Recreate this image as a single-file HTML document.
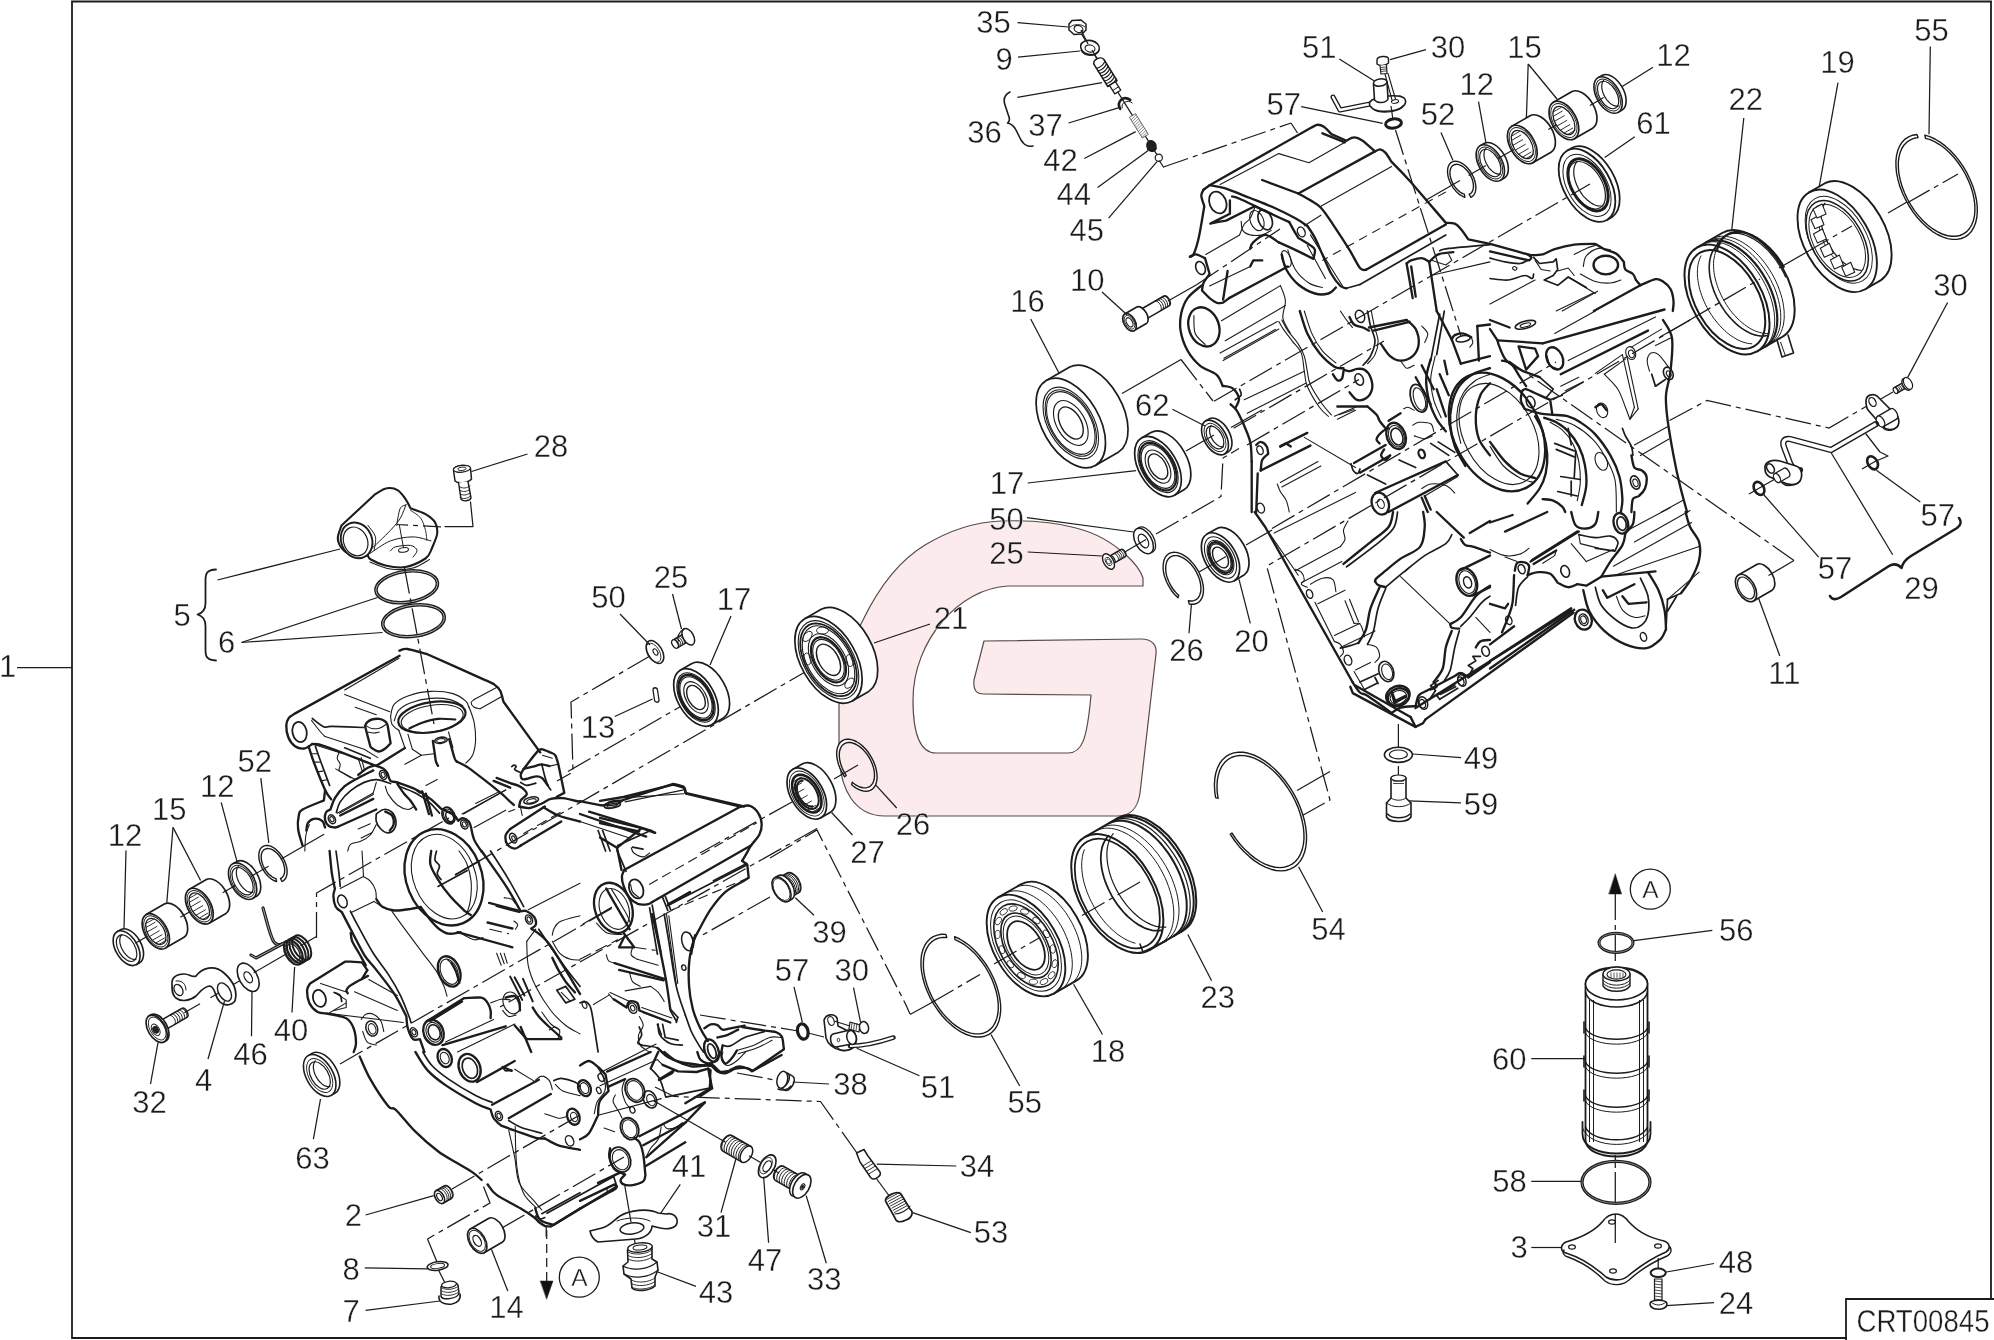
<!DOCTYPE html>
<html><head><meta charset="utf-8"><title>CRT00845</title><style>html,body{margin:0;padding:0;background:#fff}svg{display:block}.t{font-family:"Liberation Sans",sans-serif;fill:#1c1c1c;stroke:#fff;stroke-width:0.35px}</style></head><body>
<svg width="1994" height="1340" viewBox="0 0 1994 1340">
<defs><filter id="gs" x="0" y="0" width="100%" height="100%" color-interpolation-filters="sRGB"><feColorMatrix type="saturate" values="0"/></filter></defs>
<rect width="1994" height="1340" fill="#fff"/>
<path d="M1143 586 L1008 586 C960 588 913 640 913 700 C913 735 920 753 936 753 L1068 753 C1082 753 1087 740 1091 695 L984 694 C976 694 973 690 974 680 L984 641 L1141 639 C1152 639 1157 645 1156 654 L1140 793 C1138 808 1130 816 1118 816 L885 816 C855 816 839 790 839 750 L839 705 C839 670 850 645 863 620 C880 585 900 560 925 545 C950 530 975 522 1001 521 C1030 520 1055 522 1076 528 C1100 534 1115 545 1126 555 C1135 563 1141 572 1143 578 Z" fill="#fbebec" stroke="#5a4a4a" stroke-width="1.2" stroke-linejoin="round" stroke-linecap="round"/>
<path d="M72 1.5 L1991 1.5 L1991 1299 M1846 1338 L72 1338 L72 1.5" fill="none" stroke="#1c1c1c" stroke-width="1.8" stroke-linejoin="miter" stroke-linecap="square"/>
<path d="M1846 1341 L1846 1299 L1995 1299" fill="none" stroke="#1c1c1c" stroke-width="1.8" stroke-linejoin="miter" stroke-linecap="square"/>
<line x1="17" y1="667.5" x2="72" y2="667.5" stroke="#1c1c1c" stroke-width="1.25" stroke-linecap="butt"/>
<path d="M312.3 744 C311 744.8 307 748.2 304.1 748.5 C301.2 748.9 297.7 748.2 295 746.3 C292.4 744.4 289.7 740.8 288.3 737.3 C286.8 733.7 286.2 728.5 286.3 725.2 C286.4 722 287.7 719.6 289 717.7 C290.4 715.8 293.4 714.6 294.3 713.9 L294.3 713.9 L399.6 655.7 " fill="none" stroke="#1c1c1c" stroke-width="2.35" stroke-linejoin="round" stroke-linecap="round"/>
<path d="M399.4 650.7 C400.8 650.4 402.9 648.5 407.4 649 C412 649.6 423.5 653.2 426.8 654 L426.8 654 C436.2 658.2 472.2 674.3 483.5 679.4 C494.7 684.4 491.4 682.5 494.1 684.4 C496.9 686.3 498.6 687.8 500.2 690.7 C501.7 693.6 502.9 699.9 503.5 701.7 L503.5 701.7 L540.2 752.4 " fill="none" stroke="#1c1c1c" stroke-width="2.35" stroke-linejoin="round" stroke-linecap="round"/>
<ellipse cx="299.6" cy="732" rx="7.1" ry="10.2" fill="none" stroke="#1c1c1c" stroke-width="1.8" transform="rotate(-12 299.6 732)"/>
<path d="M312.3 744 C314.5 744.4 315.5 743 325.1 746.3 C334.8 749.5 361.7 760.3 370.3 763.6 C378.8 766.8 375.3 765.5 376.3 765.8" fill="none" stroke="#1c1c1c" stroke-width="2.35" stroke-linejoin="round" stroke-linecap="round"/>
<path d="M376.3 765.8 L404.9 748.1" fill="none" stroke="#1c1c1c" stroke-width="2.35" stroke-linejoin="round" stroke-linecap="round"/>
<path d="M312.3 718.5 C314.2 719.8 320.4 725.4 323.6 726.7 C326.9 728.1 325.3 726.3 331.9 726.4 C338.5 726.6 358.2 727.3 363.5 727.5" fill="none" stroke="#1c1c1c" stroke-width="1.7" stroke-linejoin="round" stroke-linecap="round"/>
<path d="M311.6 720.7 C313.1 722.6 318.4 729.4 320.6 732 C322.9 734.6 324.4 735.8 325.1 736.5" fill="none" stroke="#1c1c1c" stroke-width="1.1" stroke-linejoin="round" stroke-linecap="round"/>
<path d="M325.1 736.5 L364.2 749.3 L377.8 757.6" fill="none" stroke="#1c1c1c" stroke-width="1.1" stroke-linejoin="round" stroke-linecap="round"/>
<path d="M314.6 744.8 L343.2 753.8" fill="none" stroke="#1c1c1c" stroke-width="1.1" stroke-linejoin="round" stroke-linecap="round"/>
<path d="M344.7 689.9 L398.9 658.3" fill="none" stroke="#1c1c1c" stroke-width="1.1" stroke-linejoin="round" stroke-linecap="round"/>
<path d="M344.7 694.4 L389.8 711.7" fill="none" stroke="#1c1c1c" stroke-width="1.1" stroke-linejoin="round" stroke-linecap="round"/>
<path d="M355.2 707.2 L376.3 714.7" fill="none" stroke="#1c1c1c" stroke-width="1.1" stroke-linejoin="round" stroke-linecap="round"/>
<path d="M474.1 699.6 L496.6 687.6" fill="none" stroke="#1c1c1c" stroke-width="1.1" stroke-linejoin="round" stroke-linecap="round"/>
<path d="M480.1 708.7 L502.7 695.9" fill="none" stroke="#1c1c1c" stroke-width="1.1" stroke-linejoin="round" stroke-linecap="round"/>
<path d="M474.1 699.6 C473.6 700.1 471.1 701.4 471.1 702.7 C471.1 703.9 472.6 706.2 474.1 707.2 C475.6 708.2 479.1 708.4 480.1 708.7" fill="none" stroke="#1c1c1c" stroke-width="1.1" stroke-linejoin="round" stroke-linecap="round"/>
<path d="M365 726 C365.4 725.3 366.1 723.3 367.3 722.2 C368.4 721.1 369.8 720.1 371.8 719.5 C373.8 719 377 718.6 379.3 718.9 C381.5 719.2 383.9 720.4 385.3 721.5 C386.7 722.5 387.2 724.6 387.6 725.2 L387.6 725.2 L390.6 743.3 L390.6 743.3 C389.7 744.2 387.3 747.2 385.3 748.5 C383.3 749.9 380.7 751.5 378.5 751.5 C376.4 751.5 373.9 749.4 372.5 748.5 C371.1 747.7 370.6 746.7 370.3 746.3 L370.3 746.3 L365 726 " fill="none" stroke="#1c1c1c" stroke-width="2.35" stroke-linejoin="round" stroke-linecap="round"/>
<path d="M366.5 726 C367.4 726.4 369.6 728.2 371.8 728.5 C373.9 728.9 376.9 728.9 379.3 728.2 C381.7 727.6 384.9 725.1 386.1 724.5" fill="none" stroke="#1c1c1c" stroke-width="1.1" stroke-linejoin="round" stroke-linecap="round"/>
<path d="M368 732 C368.9 732.2 371.4 733 373.3 733 C375.2 733 378.3 732.2 379.3 732" fill="none" stroke="#1c1c1c" stroke-width="1.1" stroke-linejoin="round" stroke-linecap="round"/>
<path d="M390.6 716.2 C391.2 714.2 391.5 707.5 394.3 704.2 C397.2 700.8 401.9 698 407.9 695.9 C413.9 693.8 422.9 691.7 430.4 691.4 C438 691 447.1 692 453 693.6 C458.9 695.3 463.2 698.9 465.8 701.2 C468.4 703.4 468.3 706.2 468.8 707.2" fill="none" stroke="#1c1c1c" stroke-width="1.1" stroke-linejoin="round" stroke-linecap="round"/>
<path d="M394.3 720.7 C395.1 719 396.1 713.2 398.9 710.2 C401.6 707.2 405.6 704.6 410.9 702.7 C416.2 700.7 423.9 698.9 430.4 698.4 C437 697.9 444.6 698.4 450 699.6 C455.4 700.9 460.7 704.7 462.8 705.7" fill="none" stroke="#1c1c1c" stroke-width="1.1" stroke-linejoin="round" stroke-linecap="round"/>
<ellipse cx="431.9" cy="717.2" rx="34" ry="15" fill="none" stroke="#1c1c1c" stroke-width="2.2" transform="rotate(-9 431.9 717.2)"/>
<ellipse cx="432.2" cy="718.5" rx="31.3" ry="13.2" fill="none" stroke="#1c1c1c" stroke-width="1.1" transform="rotate(-9 432.2 718.5)"/>
<path d="M409.4 728.5 C411.4 727.6 416.7 724.6 421.4 723 C426.2 721.4 432.3 719.5 438 718.9 C443.6 718.3 452.4 719.4 455.3 719.5" fill="none" stroke="#1c1c1c" stroke-width="2.2" stroke-linejoin="round" stroke-linecap="round"/>
<path d="M390.6 716.2 C390.8 717.6 390.7 722.1 392.1 724.5 C393.5 726.9 397.7 729.5 398.9 730.5" fill="none" stroke="#1c1c1c" stroke-width="1.1" stroke-linejoin="round" stroke-linecap="round"/>
<path d="M398.9 730.5 L404.9 747.8" fill="none" stroke="#1c1c1c" stroke-width="1.1" stroke-linejoin="round" stroke-linecap="round"/>
<path d="M407.9 734.2 L412.4 749.3" fill="none" stroke="#1c1c1c" stroke-width="1.1" stroke-linejoin="round" stroke-linecap="round"/>
<path d="M448.5 732 L453 747.8" fill="none" stroke="#1c1c1c" stroke-width="1.1" stroke-linejoin="round" stroke-linecap="round"/>
<path d="M468.8 706.4 C469.7 709 472.9 716.6 474.1 722.2 C475.2 727.9 475.8 734.8 475.6 740.3 C475.3 745.8 474.2 751.5 472.6 755.3 C470.9 759.1 466.9 761.8 465.8 763.1" fill="none" stroke="#1c1c1c" stroke-width="1.1" stroke-linejoin="round" stroke-linecap="round"/>
<path d="M412.4 749.3 L421.4 755.3 L434.2 753.8" fill="none" stroke="#1c1c1c" stroke-width="1.1" stroke-linejoin="round" stroke-linecap="round"/>
<path d="M404.9 764.3 L421.4 755.3" fill="none" stroke="#1c1c1c" stroke-width="1.1" stroke-linejoin="round" stroke-linecap="round"/>
<ellipse cx="441" cy="740.3" rx="6.3" ry="3" fill="none" stroke="#1c1c1c" stroke-width="1.6" transform="rotate(-9 441 740.3)"/>
<ellipse cx="441" cy="740.6" rx="4.4" ry="1.8" fill="none" stroke="#1c1c1c" stroke-width="1.1" transform="rotate(-9 441 740.6)"/>
<path d="M432.9 741 C433.2 743.4 434.5 751.9 435 755.3 C435.5 758.7 435.4 759.6 435.9 761.3 C436.4 763.1 437.6 765.1 438 765.8" fill="none" stroke="#1c1c1c" stroke-width="2.35" stroke-linejoin="round" stroke-linecap="round"/>
<path d="M449.2 739.1 C450.1 742.2 453.3 754.3 454.5 758 C455.8 761.8 456.4 761 456.8 761.6" fill="none" stroke="#1c1c1c" stroke-width="2.35" stroke-linejoin="round" stroke-linecap="round"/>
<path d="M456.8 761.6 C458.7 762.6 462.9 764.2 468.1 767.6 C473.2 771.1 481.8 777.9 487.6 782.4 C493.4 786.9 499.1 791.7 502.7 794.7 C506.2 797.7 506.8 798.7 508.7 800.4 C510.6 802.1 513.1 804.2 513.9 805" fill="none" stroke="#1c1c1c" stroke-width="2.35" stroke-linejoin="round" stroke-linecap="round"/>
<path d="M475.6 803.5 L498.1 792.2" fill="none" stroke="#1c1c1c" stroke-width="1.1" stroke-linejoin="round" stroke-linecap="round"/>
<path d="M463.5 814 L505.7 789.9" fill="none" stroke="#1c1c1c" stroke-width="1.1" stroke-linejoin="round" stroke-linecap="round"/>
<path d="M474.1 827.5 L505.7 810.2" fill="none" stroke="#1c1c1c" stroke-width="1.1" stroke-linejoin="round" stroke-linecap="round"/>
<path d="M425.9 785.4 L437.2 779.4" fill="none" stroke="#1c1c1c" stroke-width="1.1" stroke-linejoin="round" stroke-linecap="round"/>
<path d="M376.3 765.8 C377.5 766.3 381.9 767.6 383.8 768.9 C385.7 770.1 386.9 772.6 387.6 773.4 L387.6 773.4 C388.1 774.6 389.1 779.4 390.6 780.9 C392.1 782.3 395.6 781.9 396.6 782.1 L396.6 782.1 C399.7 783.3 409.8 786.4 415.4 789.2 C421 792 426.2 795.7 430.4 798.9 C434.7 802.2 439.2 807.1 441 808.7 L441 808.7 C442 809.1 444.7 810.1 447 811.3 C449.2 812.4 452.6 813.9 454.5 815.5 C456.4 817.1 457.6 819.9 458.3 820.8 L458.3 820.8 C459 820.3 461 818.1 462.8 818.2 C464.5 818.3 467.4 820 468.8 821.5 C470.2 823.1 470.7 826.5 471.1 827.5 L471.1 827.5 C471.6 829.5 472.3 835.5 474.1 839.6 C475.8 843.6 480.3 849.6 481.6 851.6 " fill="none" stroke="#1c1c1c" stroke-width="2.35" stroke-linejoin="round" stroke-linecap="round"/>
<path d="M373.3 770.4 C370.8 771.6 363 775.2 358.2 777.9 C353.5 780.5 348.6 782.8 344.7 786.2 C340.8 789.5 337.3 794.3 334.9 798.2 C332.5 802.1 331.2 807.6 330.4 809.5 L330.4 809.5 C329.6 810 326.8 810.7 325.9 812.5 C325 814.2 324.6 817.7 325.1 820 C325.6 822.3 327.3 824.8 328.9 826 C330.5 827.3 333.9 827.3 334.9 827.5 L334.9 827.5 L337.9 826.8 " fill="none" stroke="#1c1c1c" stroke-width="2.35" stroke-linejoin="round" stroke-linecap="round"/>
<path d="M390.6 783.6 C388.2 782.9 380.7 779.9 376.3 779.7 C371.9 779.5 368.5 780.6 364.2 782.4 C360 784.2 354.7 787.4 350.7 790.7 C346.7 793.9 342.6 798.3 340.2 801.9 C337.8 805.6 337 810.7 336.4 812.5" fill="none" stroke="#1c1c1c" stroke-width="1.7" stroke-linejoin="round" stroke-linecap="round"/>
<path d="M398.9 786.2 C401.6 787.3 410.4 790.3 415.4 792.9 C420.4 795.6 424.9 798.6 428.9 801.9 C433 805.3 437.7 811.4 439.5 813.2" fill="none" stroke="#1c1c1c" stroke-width="1.7" stroke-linejoin="round" stroke-linecap="round"/>
<path d="M337.9 826.8 L376.3 809.5" fill="none" stroke="#1c1c1c" stroke-width="2.35" stroke-linejoin="round" stroke-linecap="round"/>
<path d="M340.2 815.5 L373.3 798.9" fill="none" stroke="#1c1c1c" stroke-width="2.35" stroke-linejoin="round" stroke-linecap="round"/>
<path d="M339.4 813.2 L373.3 794.4" fill="none" stroke="#1c1c1c" stroke-width="1.1" stroke-linejoin="round" stroke-linecap="round"/>
<ellipse cx="383.1" cy="774.9" rx="3.3" ry="4.7" fill="none" stroke="#1c1c1c" stroke-width="1.5" transform="rotate(-28 383.1 774.9)"/>
<ellipse cx="383.1" cy="774.9" rx="1.8" ry="2.7" fill="none" stroke="#1c1c1c" stroke-width="1.1" transform="rotate(-28 383.1 774.9)"/>
<ellipse cx="331.9" cy="819.2" rx="3.3" ry="4.7" fill="none" stroke="#1c1c1c" stroke-width="1.5" transform="rotate(-28 331.9 819.2)"/>
<ellipse cx="331.9" cy="819.2" rx="1.8" ry="2.7" fill="none" stroke="#1c1c1c" stroke-width="1.1" transform="rotate(-28 331.9 819.2)"/>
<ellipse cx="464.3" cy="824.5" rx="3.3" ry="4.7" fill="none" stroke="#1c1c1c" stroke-width="1.5" transform="rotate(-28 464.3 824.5)"/>
<ellipse cx="464.3" cy="824.5" rx="1.8" ry="2.7" fill="none" stroke="#1c1c1c" stroke-width="1.1" transform="rotate(-28 464.3 824.5)"/>
<path d="M308.6 746.3 C309.6 749.3 311.8 757.1 314.6 764.3 C317.4 771.6 322.4 784.1 325.1 789.9 C327.9 795.7 330.1 797.7 331.2 799.2" fill="none" stroke="#1c1c1c" stroke-width="2.35" stroke-linejoin="round" stroke-linecap="round"/>
<path d="M315.4 746.3 C316.2 748.8 318.2 754.8 320.6 761.3 C323 767.8 328.1 781.4 329.6 785.4" fill="none" stroke="#1c1c1c" stroke-width="1.7" stroke-linejoin="round" stroke-linecap="round"/>
<path d="M310.8 753.8 L316.9 753.8" fill="none" stroke="#1c1c1c" stroke-width="1.1" stroke-linejoin="round" stroke-linecap="round"/>
<path d="M313.8 762.1 L319.4 762.1" fill="none" stroke="#1c1c1c" stroke-width="1.1" stroke-linejoin="round" stroke-linecap="round"/>
<path d="M317.6 771.9 L322.9 771.1" fill="none" stroke="#1c1c1c" stroke-width="1.1" stroke-linejoin="round" stroke-linecap="round"/>
<path d="M321.4 780.9 L326.9 779.7" fill="none" stroke="#1c1c1c" stroke-width="1.1" stroke-linejoin="round" stroke-linecap="round"/>
<path d="M339.4 752.3 C339 753.3 337 756.3 337.2 758.3 C337.3 760.3 339.9 762.3 340.2 764.3 C340.4 766.3 338.9 769.4 338.7 770.4" fill="none" stroke="#1c1c1c" stroke-width="1.1" stroke-linejoin="round" stroke-linecap="round"/>
<path d="M338.7 770.4 L355.2 779.4" fill="none" stroke="#1c1c1c" stroke-width="1.1" stroke-linejoin="round" stroke-linecap="round"/>
<path d="M335.7 768.9 L350.7 777.9" fill="none" stroke="#1c1c1c" stroke-width="1.1" stroke-linejoin="round" stroke-linecap="round"/>
<path d="M358.2 758.3 L362 770.4" fill="none" stroke="#1c1c1c" stroke-width="1.1" stroke-linejoin="round" stroke-linecap="round"/>
<path d="M361.2 757.6 L364.2 768.9" fill="none" stroke="#1c1c1c" stroke-width="1.1" stroke-linejoin="round" stroke-linecap="round"/>
<path d="M344.7 747.8 L370.3 758.3" fill="none" stroke="#1c1c1c" stroke-width="1.7" stroke-linejoin="round" stroke-linecap="round"/>
<path d="M358.2 774.9 C359.5 773.9 363.2 770.4 365.8 768.9 C368.3 767.3 372 766.3 373.3 765.8" fill="none" stroke="#1c1c1c" stroke-width="2.35" stroke-linejoin="round" stroke-linecap="round"/>
<path d="M325.1 789.9 L323.9 800.4 L323.9 800.4 C320.4 801.9 306.8 807 302.6 809.5 C298.4 812 299.6 812.2 298.8 815.5 C298.1 818.7 297.4 824 298.1 829 C298.7 834 301.8 842.8 302.6 845.6 " fill="none" stroke="#1c1c1c" stroke-width="2.35" stroke-linejoin="round" stroke-linecap="round"/>
<path d="M306.3 830.5 C306.6 829.3 306.6 825 307.8 823 C309.1 821.1 311.5 819.2 313.8 818.8 C316.2 818.4 320.2 819.3 322.1 820.8 C324 822.2 324.6 826.4 325.1 827.5" fill="none" stroke="#1c1c1c" stroke-width="2.35" stroke-linejoin="round" stroke-linecap="round"/>
<path d="M304.8 851 C305 848.3 305.1 839.5 305.9 835 C306.6 830.6 308.8 826.3 309.3 824.5" fill="none" stroke="#1c1c1c" stroke-width="1.1" stroke-linejoin="round" stroke-linecap="round"/>
<path d="M376.3 814 C377.5 813.2 381.3 809.8 383.8 809.5 C386.3 809.1 389.3 810 391.3 811.7 C393.3 813.5 395.3 817.1 395.8 820 C396.3 822.9 395.7 826.9 394.3 829 C393 831.2 389.8 832.8 387.6 832.8 C385.3 832.8 382.7 830.9 380.8 829 C378.9 827.1 377 824 376.3 821.5 C375.5 819 376.3 815.2 376.3 814" fill="none" stroke="#1c1c1c" stroke-width="1.7" stroke-linejoin="round" stroke-linecap="round"/>
<path d="M385.3 811.7 C386.4 812.4 390.7 813.4 392.1 815.5 C393.5 817.6 394 822 393.6 824.5 C393.2 827 390.5 829.5 389.8 830.5" fill="none" stroke="#1c1c1c" stroke-width="2.35" stroke-linejoin="round" stroke-linecap="round"/>
<path d="M397.3 783.9 C398.5 785.5 401.9 790.8 404.1 793.7 C406.4 796.6 408.9 798.6 410.9 801.2 C412.9 803.8 415.3 808.1 416.2 809.5" fill="none" stroke="#1c1c1c" stroke-width="2.35" stroke-linejoin="round" stroke-linecap="round"/>
<path d="M385.3 786.2 C385.8 787.5 386.3 791.3 388.3 794.4 C390.3 797.6 394.1 802.4 397.3 805 C400.6 807.5 405.1 809.2 407.9 809.5 C410.6 809.7 412.9 807 413.9 806.5" fill="none" stroke="#1c1c1c" stroke-width="1.1" stroke-linejoin="round" stroke-linecap="round"/>
<path d="M425.9 793.7 L431.9 815.5" fill="none" stroke="#1c1c1c" stroke-width="2.35" stroke-linejoin="round" stroke-linecap="round"/>
<path d="M422.2 791.4 L428.9 814" fill="none" stroke="#1c1c1c" stroke-width="2.35" stroke-linejoin="round" stroke-linecap="round"/>
<path d="M416.2 789.9 C416.8 790.4 419 792.7 419.9 792.9 C420.8 793.2 421.2 791.7 421.4 791.4" fill="none" stroke="#1c1c1c" stroke-width="1.7" stroke-linejoin="round" stroke-linecap="round"/>
<path d="M337.2 813.2 L373.3 792.9" fill="none" stroke="#1c1c1c" stroke-width="1.1" stroke-linejoin="round" stroke-linecap="round"/>
<path d="M373.3 792.9 L376.3 782.4" fill="none" stroke="#1c1c1c" stroke-width="1.1" stroke-linejoin="round" stroke-linecap="round"/>
<path d="M347.7 851 C348.2 849.8 348.5 845.7 350.7 844.1 C353 842.4 358 842.6 361.2 841.1 C364.5 839.6 367.8 837.8 370.3 835 C372.8 832.3 375.3 826.3 376.3 824.5" fill="none" stroke="#1c1c1c" stroke-width="1.1" stroke-linejoin="round" stroke-linecap="round"/>
<path d="M358.2 829 L370.3 823.8" fill="none" stroke="#1c1c1c" stroke-width="1.1" stroke-linejoin="round" stroke-linecap="round"/>
<path d="M361.2 838.1 L371.8 832.8" fill="none" stroke="#1c1c1c" stroke-width="1.1" stroke-linejoin="round" stroke-linecap="round"/>
<ellipse cx="448.5" cy="815.5" rx="6" ry="8.7" fill="none" stroke="#1c1c1c" stroke-width="1.8" transform="rotate(-25 448.5 815.5)"/>
<ellipse cx="449.7" cy="816.7" rx="3.6" ry="5.4" fill="none" stroke="#1c1c1c" stroke-width="1.7" transform="rotate(-25 449.7 816.7)"/>
<ellipse cx="448.8" cy="815.8" rx="4.8" ry="7.2" fill="none" stroke="#1c1c1c" stroke-width="1.1" transform="rotate(-25 448.8 815.8)"/>
<path d="M462 814 L505.7 789.9" fill="none" stroke="#1c1c1c" stroke-width="1.1" stroke-linejoin="round" stroke-linecap="round"/>
<path d="M538.8 750 C539.4 749.9 540.5 748.9 542.5 749.3 C544.5 749.7 549.4 752.1 550.8 752.6 L550.8 752.6 C551.6 753.1 554.1 753.4 555.3 755.3 C556.6 757.3 557.8 762.8 558.3 764.3 L558.3 764.3 L564.3 792.9 L564.3 792.9 L556.8 796.7 " fill="none" stroke="#1c1c1c" stroke-width="2.35" stroke-linejoin="round" stroke-linecap="round"/>
<path d="M538.8 750 C538 750.9 536.8 752.2 534.3 755.3 C531.7 758.4 525.5 766.6 523.7 768.9 L523.7 768.9 C525.7 768.3 532.7 766.6 535.8 765.8 C538.8 765.1 539.5 764.3 541.8 764.3 C544 764.4 548 765.8 549.3 766.1 " fill="none" stroke="#1c1c1c" stroke-width="2.35" stroke-linejoin="round" stroke-linecap="round"/>
<path d="M541.8 764.3 C542.3 766.3 543.8 772.9 544.8 776.4 C545.8 779.9 546.8 783.1 547.8 785.4 C548.8 787.7 550.3 789.2 550.8 789.9" fill="none" stroke="#1c1c1c" stroke-width="1.7" stroke-linejoin="round" stroke-linecap="round"/>
<path d="M542.5 755.3 L552.3 758.3" fill="none" stroke="#1c1c1c" stroke-width="1.1" stroke-linejoin="round" stroke-linecap="round"/>
<path d="M549.3 766.1 L558.3 764.3" fill="none" stroke="#1c1c1c" stroke-width="1.1" stroke-linejoin="round" stroke-linecap="round"/>
<path d="M523.7 768.9 C523.2 769.9 520.7 773.1 520.7 774.9 C520.7 776.6 521.2 779.1 523.7 779.4 C526.2 779.6 532.7 776.6 535.8 776.4 C538.8 776.1 539.8 776.4 541.8 777.9 C543.8 779.4 546.8 784.1 547.8 785.4" fill="none" stroke="#1c1c1c" stroke-width="2.35" stroke-linejoin="round" stroke-linecap="round"/>
<path d="M520.7 782.4 C521.7 782.9 524.2 785.3 526.7 785.4 C529.2 785.5 534.3 783.5 535.8 783.1" fill="none" stroke="#1c1c1c" stroke-width="1.7" stroke-linejoin="round" stroke-linecap="round"/>
<path d="M511.7 766.6 C512.1 766.3 513.2 765.1 513.9 765.1 C514.7 765.1 516.1 765.8 516.2 766.6 C516.3 767.3 513.9 768.6 514.7 769.6 C515.4 770.6 519.7 772.1 520.7 772.6" fill="none" stroke="#1c1c1c" stroke-width="1.7" stroke-linejoin="round" stroke-linecap="round"/>
<path d="M512.4 783.9 C513.3 784.1 515.8 784.5 517.7 785.4 C519.6 786.3 522.2 787.7 523.7 789.2 C525.2 790.7 527.2 792.5 526.7 794.4 C526.2 796.3 522 798.4 520.7 800.4 C519.5 802.4 519.5 805.5 519.2 806.5" fill="none" stroke="#1c1c1c" stroke-width="2.35" stroke-linejoin="round" stroke-linecap="round"/>
<path d="M496.6 777.9 L512.4 783.9" fill="none" stroke="#1c1c1c" stroke-width="2.35" stroke-linejoin="round" stroke-linecap="round"/>
<path d="M493.6 780.9 L510.2 787.7" fill="none" stroke="#1c1c1c" stroke-width="2.35" stroke-linejoin="round" stroke-linecap="round"/>
<ellipse cx="531.2" cy="800.4" rx="7.5" ry="3.3" fill="none" stroke="#1c1c1c" stroke-width="1.6" transform="rotate(-12 531.2 800.4)"/>
<ellipse cx="531.5" cy="800.9" rx="4.8" ry="2" fill="none" stroke="#1c1c1c" stroke-width="1.1" transform="rotate(-12 531.5 800.9)"/>
<path d="M519.2 806.5 C521 806.7 526 808.5 529.7 808 C533.5 807.5 538.3 805 541.8 803.5 C545.3 801.9 547.3 799.8 550.8 798.9 C554.3 798.1 558 797.7 562.8 798.2 C567.7 798.7 577.1 801.3 580 801.9" fill="none" stroke="#1c1c1c" stroke-width="2.35" stroke-linejoin="round" stroke-linecap="round"/>
<path d="M543.3 807.2 C545.8 808.6 552.2 813.1 558.3 815.5 C564.4 817.9 576.4 820.5 580 821.5" fill="none" stroke="#1c1c1c" stroke-width="2.35" stroke-linejoin="round" stroke-linecap="round"/>
<path d="M520.7 808 L522.2 815.5" fill="none" stroke="#1c1c1c" stroke-width="1.1" stroke-linejoin="round" stroke-linecap="round"/>
<path d="M508.7 811.7 L514.7 809.5" fill="none" stroke="#1c1c1c" stroke-width="1.1" stroke-linejoin="round" stroke-linecap="round"/>
<path d="M510.2 829 L544.8 806.5" fill="none" stroke="#1c1c1c" stroke-width="2.35" stroke-linejoin="round" stroke-linecap="round"/>
<path d="M520.7 845.6 L561.3 821.5" fill="none" stroke="#1c1c1c" stroke-width="2.35" stroke-linejoin="round" stroke-linecap="round"/>
<path d="M510.2 829 C509.4 830 506.2 832.5 505.7 835 C505.2 837.6 505.7 841.8 507.2 844.1 C508.7 846.3 512.4 848.3 514.7 848.6 C516.9 848.8 519.7 846.1 520.7 845.6" fill="none" stroke="#1c1c1c" stroke-width="2.35" stroke-linejoin="round" stroke-linecap="round"/>
<ellipse cx="513.2" cy="838.1" rx="3.3" ry="5.1" fill="none" stroke="#1c1c1c" stroke-width="1.5" transform="rotate(-25 513.2 838.1)"/>
<ellipse cx="513.5" cy="838.4" rx="1.5" ry="2.6" fill="none" stroke="#1c1c1c" stroke-width="1.1" transform="rotate(-25 513.5 838.4)"/>
<path d="M523.7 833.5 L562.8 811" fill="none" stroke="#1c1c1c" stroke-width="1.1" stroke-linejoin="round" stroke-linecap="round" stroke-dasharray="10 6"/>
<path d="M329.6 851 C330 854.8 331 867.3 331.9 873.6 C332.8 879.8 334.4 886.1 334.9 888.6 L334.9 888.6 C334.7 889.9 333.3 893.1 333.4 896.1 C333.5 899.1 334.3 904 335.7 906.7 C337 909.3 340.7 911.1 341.7 911.9 L341.7 911.9 C343.2 914.8 346.9 922.1 350.7 929.2 C354.5 936.4 360 948 364.2 954.8 C368.5 961.6 371.3 963.3 376.3 969.9 C381.3 976.4 389.3 986.1 394.3 993.9 C399.4 1001.7 404.4 1012.7 406.4 1016.5 L406.4 1016.5 C406.6 1018.5 406.7 1024.8 407.9 1028.5 C409 1032.3 411.1 1037.3 413.1 1039.1 C415.1 1040.8 418.8 1039.1 419.9 1039.1 L419.9 1039.1 L424.4 1052 " fill="none" stroke="#1c1c1c" stroke-width="2.35" stroke-linejoin="round" stroke-linecap="round"/>
<path d="M336 851 C336.5 854.8 338.3 867.7 339 873.6 C339.7 879.5 340 884.2 340.2 886.4" fill="none" stroke="#1c1c1c" stroke-width="1.7" stroke-linejoin="round" stroke-linecap="round"/>
<path d="M350.4 911.2 C351.7 913.7 354.4 919.2 358.2 926.2 C362 933.2 368.3 945.3 373.3 953.3 C378.3 961.3 383.8 967.3 388.3 974.4 C392.8 981.4 396.9 988.4 400.4 995.4 C403.8 1002.4 407.3 1012 409.1 1016.5 C410.8 1021 410.6 1021.5 410.9 1022.5" fill="none" stroke="#1c1c1c" stroke-width="1.7" stroke-linejoin="round" stroke-linecap="round"/>
<ellipse cx="342.4" cy="901.4" rx="4.5" ry="6.6" fill="none" stroke="#1c1c1c" stroke-width="1.5" transform="rotate(-22 342.4 901.4)"/>
<ellipse cx="413.9" cy="1032.3" rx="3.3" ry="4.8" fill="none" stroke="#1c1c1c" stroke-width="1.4" transform="rotate(-25 413.9 1032.3)"/>
<ellipse cx="413.9" cy="1032.3" rx="1.8" ry="2.7" fill="none" stroke="#1c1c1c" stroke-width="1.1" transform="rotate(-25 413.9 1032.3)"/>
<path d="M340.2 888.6 L363.5 876.6" fill="none" stroke="#1c1c1c" stroke-width="1.1" stroke-linejoin="round" stroke-linecap="round"/>
<path d="M350.7 912.7 L374 901.4" fill="none" stroke="#1c1c1c" stroke-width="1.1" stroke-linejoin="round" stroke-linecap="round"/>
<path d="M363.5 876.6 L362 851" fill="none" stroke="#1c1c1c" stroke-width="1.1" stroke-linejoin="round" stroke-linecap="round"/>
<path d="M363.5 876.6 C364.6 877.3 368.3 878.8 370.3 881.1 C372.3 883.3 374.5 887.1 375.5 890.1 C376.5 893.1 376.2 897.6 376.3 899.1" fill="none" stroke="#1c1c1c" stroke-width="1.1" stroke-linejoin="round" stroke-linecap="round"/>
<path d="M376.3 899.1 C377.3 900.4 379.3 904.8 382.3 906.7 C385.3 908.5 389.6 910 394.3 910.4 C399.1 910.8 406.5 909.5 410.9 908.9 C415.3 908.3 419 907.3 420.7 907" fill="none" stroke="#1c1c1c" stroke-width="2.35" stroke-linejoin="round" stroke-linecap="round"/>
<path d="M374 901.4 C375.9 902.5 381.9 906.5 385.3 908.2 C388.7 909.8 392.8 910.7 394.3 911.2" fill="none" stroke="#1c1c1c" stroke-width="1.1" stroke-linejoin="round" stroke-linecap="round"/>
<path d="M391.3 910.4 C393.6 913.6 399.6 922.1 404.9 929.2 C410.1 936.4 417.7 946.3 422.9 953.3 C428.2 960.3 433 965.8 436.5 971.4 C440 976.9 442.2 982.3 444 986.4 C445.7 990.5 446.5 994.5 447 996.2" fill="none" stroke="#1c1c1c" stroke-width="1.1" stroke-linejoin="round" stroke-linecap="round"/>
<ellipse cx="444" cy="877.3" rx="37.6" ry="49.6" fill="none" stroke="#1c1c1c" stroke-width="2.35" transform="rotate(-22 444 877.3)"/>
<ellipse cx="444.3" cy="876.6" rx="30.8" ry="43.9" fill="none" stroke="#1c1c1c" stroke-width="1.1" transform="rotate(-22 444.3 876.6)"/>
<path d="M431.2 851 C431.1 853.3 429.3 859.8 430.4 864.5 C431.6 869.3 434.7 874.3 438 879.6 C441.2 884.8 445.5 890.9 450 896.1 C454.5 901.4 461.6 908 465 911.2 C468.5 914.3 469.8 914.3 470.8 914.9" fill="none" stroke="#1c1c1c" stroke-width="2.35" stroke-linejoin="round" stroke-linecap="round"/>
<path d="M436.5 851 C436.2 852.5 434.5 857.5 435 860 C435.5 862.5 439.1 863.8 439.5 866 C439.8 868.3 437 871.3 437.2 873.6 C437.5 875.8 440.3 878.6 441 879.6" fill="none" stroke="#1c1c1c" stroke-width="1.7" stroke-linejoin="round" stroke-linecap="round"/>
<path d="M459 851 C460.3 853 464.5 858 466.6 863 C468.6 868.1 470.4 874.8 471.1 881.1 C471.7 887.4 471.1 895.1 470.3 900.6 C469.6 906.2 467.2 911.9 466.6 914.2" fill="none" stroke="#1c1c1c" stroke-width="1.1" stroke-linejoin="round" stroke-linecap="round"/>
<path d="M438 886.4 L467.3 870.6" fill="none" stroke="#1c1c1c" stroke-width="1.7" stroke-linejoin="round" stroke-linecap="round"/>
<path d="M420.7 907 C422.5 909.4 428.8 918 431.9 921.7 C435.1 925.4 436.7 927.2 439.5 929.2 C442.2 931.2 445 933.2 448.5 933.7 C452 934.2 458.5 932.5 460.5 932.2" fill="none" stroke="#1c1c1c" stroke-width="2.35" stroke-linejoin="round" stroke-linecap="round"/>
<path d="M457.5 932.2 L512.4 947.3" fill="none" stroke="#1c1c1c" stroke-width="2.35" stroke-linejoin="round" stroke-linecap="round"/>
<path d="M460.5 933 C462.8 934.1 470.3 939 474.1 939.8 C477.8 940.5 481.6 937.9 483.1 937.5" fill="none" stroke="#1c1c1c" stroke-width="1.1" stroke-linejoin="round" stroke-linecap="round"/>
<path d="M489.1 902.9 L517.7 910.4" fill="none" stroke="#1c1c1c" stroke-width="2.35" stroke-linejoin="round" stroke-linecap="round"/>
<path d="M496.6 905.9 L519.2 911.9" fill="none" stroke="#1c1c1c" stroke-width="2.35" stroke-linejoin="round" stroke-linecap="round"/>
<path d="M487.6 922.5 L512.4 928.5" fill="none" stroke="#1c1c1c" stroke-width="2.35" stroke-linejoin="round" stroke-linecap="round"/>
<path d="M489.9 929.2 L508.7 933.7" fill="none" stroke="#1c1c1c" stroke-width="1.1" stroke-linejoin="round" stroke-linecap="round" stroke-dasharray="12 6"/>
<path d="M504.2 897.6 C505.4 897.9 509.9 898.3 511.7 899.1 C513.4 900 514.2 902.3 514.7 902.9" fill="none" stroke="#1c1c1c" stroke-width="1.1" stroke-linejoin="round" stroke-linecap="round"/>
<path d="M513.9 921 C514.6 921.6 517.5 923.3 517.7 924.7 C518 926.1 515.8 928.5 515.4 929.2" fill="none" stroke="#1c1c1c" stroke-width="1.1" stroke-linejoin="round" stroke-linecap="round"/>
<path d="M496.6 953.3 L501.2 965.3" fill="none" stroke="#1c1c1c" stroke-width="1.1" stroke-linejoin="round" stroke-linecap="round"/>
<path d="M500.4 953.3 L504.2 963.8" fill="none" stroke="#1c1c1c" stroke-width="1.1" stroke-linejoin="round" stroke-linecap="round"/>
<path d="M504.2 953.3 L507.2 963.1" fill="none" stroke="#1c1c1c" stroke-width="1.1" stroke-linejoin="round" stroke-linecap="round"/>
<path d="M481.6 851 C485.6 856.8 499.1 875.6 505.7 885.6 C512.2 895.6 518.2 906.9 520.7 911.2 L520.7 911.2 C521.7 911.2 524.5 910.2 526.7 911.2 C529 912.2 532.7 914.9 534.3 917.2 C535.8 919.5 536.3 922.8 535.8 924.7 C535.3 926.6 532 927.9 531.2 928.5 L531.2 928.5 C534.3 931.1 541.2 933.4 549.3 944.3 C557.4 955.2 574.9 985.6 580 993.9 " fill="none" stroke="#1c1c1c" stroke-width="2.35" stroke-linejoin="round" stroke-linecap="round"/>
<path d="M490.6 851 C493.6 855.8 503.2 870.3 508.7 879.6 C514.2 888.9 521.2 902.2 523.7 906.7" fill="none" stroke="#1c1c1c" stroke-width="1.7" stroke-linejoin="round" stroke-linecap="round"/>
<path d="M538.8 929.2 C540.8 932.2 546.3 940.8 550.8 947.3 C555.3 953.8 561 961.8 565.8 968.3 C570.7 974.9 577.6 983.4 580 986.4" fill="none" stroke="#1c1c1c" stroke-width="1.7" stroke-linejoin="round" stroke-linecap="round"/>
<ellipse cx="529" cy="919.5" rx="3.3" ry="4.8" fill="none" stroke="#1c1c1c" stroke-width="1.4" transform="rotate(-25 529 919.5)"/>
<ellipse cx="529" cy="919.5" rx="1.8" ry="2.7" fill="none" stroke="#1c1c1c" stroke-width="1.1" transform="rotate(-25 529 919.5)"/>
<path d="M528.2 909.7 L580 883.3" fill="none" stroke="#1c1c1c" stroke-width="1.1" stroke-linejoin="round" stroke-linecap="round"/>
<path d="M535.8 929.2 L526.7 941.3" fill="none" stroke="#1c1c1c" stroke-width="1.1" stroke-linejoin="round" stroke-linecap="round"/>
<path d="M526.7 941.3 C527 945.3 526.7 957.8 528.2 965.3 C529.7 972.9 532 978.9 535.8 986.4 C539.5 993.9 545.8 1004 550.8 1010.5 C555.8 1017 561 1021.6 565.8 1025.5 C570.7 1029.4 577.6 1032.4 580 1033.8" fill="none" stroke="#1c1c1c" stroke-width="1.1" stroke-linejoin="round" stroke-linecap="round"/>
<path d="M552.3 935.2 C552.6 934.2 552.6 931.5 553.8 929.2 C555.1 927 555.5 924 559.8 921.7 C564.2 919.5 576.6 916.7 580 915.7" fill="none" stroke="#1c1c1c" stroke-width="1.1" stroke-linejoin="round" stroke-linecap="round"/>
<path d="M552.3 941.3 C553.6 943.3 556.8 950.3 559.8 953.3 C562.8 956.3 567 958.2 570.4 959.3 C573.7 960.4 578.4 959.9 580 960.1" fill="none" stroke="#1c1c1c" stroke-width="1.1" stroke-linejoin="round" stroke-linecap="round"/>
<path d="M367.3 970.2 L362 962.3 L362 962.3 C360.1 962.2 353.5 961.7 350.7 961.6 C348 961.5 346.3 961.6 345.4 961.6 L345.4 961.6 L310.1 983.4 L310.1 983.4 C309.6 984.5 307.2 986.9 307.1 990.2 C307 993.4 307.6 999.3 309.3 1002.9 C311.1 1006.6 314.7 1010.2 317.6 1012 C320.5 1013.7 325.1 1013.2 326.6 1013.5 L326.6 1013.5 C329.9 1014.3 341.7 1015.8 346.2 1018.3 C350.7 1020.8 352.1 1024.3 353.7 1028.5 C355.3 1032.7 356 1039.7 356 1043.6 C356 1047.5 354.1 1050.6 353.7 1052 " fill="none" stroke="#1c1c1c" stroke-width="2.35" stroke-linejoin="round" stroke-linecap="round"/>
<path d="M367.3 970.2 L362 978.9 L362 978.9 C359.9 980.1 351.8 984.4 349.2 986.4 C346.6 988.4 346.7 990.2 346.2 990.9 L346.2 990.9 L347.7 993.2 " fill="none" stroke="#1c1c1c" stroke-width="2.35" stroke-linejoin="round" stroke-linecap="round"/>
<path d="M362 978.9 L368 975.9" fill="none" stroke="#1c1c1c" stroke-width="2.35" stroke-linejoin="round" stroke-linecap="round"/>
<path d="M350.7 933 C351 934.4 351 938.1 352.2 941.3 C353.5 944.4 356 947.8 358.2 951.8 C360.5 955.8 364.5 963.1 365.8 965.3" fill="none" stroke="#1c1c1c" stroke-width="2.35" stroke-linejoin="round" stroke-linecap="round"/>
<ellipse cx="319.4" cy="998.4" rx="6.3" ry="8.7" fill="none" stroke="#1c1c1c" stroke-width="1.8" transform="rotate(-18 319.4 998.4)"/>
<path d="M320.6 983.4 L345.4 991.7" fill="none" stroke="#1c1c1c" stroke-width="1.1" stroke-linejoin="round" stroke-linecap="round"/>
<path d="M329.6 1012.7 L346.2 1002.9" fill="none" stroke="#1c1c1c" stroke-width="1.1" stroke-linejoin="round" stroke-linecap="round"/>
<path d="M334.2 992.4 L346.2 999.9 L346.2 1007.5 L334.2 1010.5" fill="none" stroke="#1c1c1c" stroke-width="1.1" stroke-linejoin="round" stroke-linecap="round"/>
<path d="M334.2 992.4 C335.2 992.9 338.9 993.9 340.2 995.4 C341.4 996.9 341.4 1000.4 341.7 1001.4" fill="none" stroke="#1c1c1c" stroke-width="1.7" stroke-linejoin="round" stroke-linecap="round"/>
<path d="M354.5 991.7 L397.3 1010.5" fill="none" stroke="#1c1c1c" stroke-width="1.1" stroke-linejoin="round" stroke-linecap="round"/>
<path d="M368.8 979.6 L397.3 995.4" fill="none" stroke="#1c1c1c" stroke-width="1.1" stroke-linejoin="round" stroke-linecap="round"/>
<path d="M329.6 1013.5 L403.4 1022.5" fill="none" stroke="#1c1c1c" stroke-width="1.1" stroke-linejoin="round" stroke-linecap="round"/>
<path d="M361.2 1019.5 C362 1018.6 363.7 1015.1 365.8 1014.2 C367.8 1013.4 370.8 1013.1 373.3 1014.2 C375.8 1015.4 379 1018.1 380.8 1021 C382.6 1023.9 383.3 1029.8 383.8 1031.5" fill="none" stroke="#1c1c1c" stroke-width="1.1" stroke-linejoin="round" stroke-linecap="round"/>
<ellipse cx="371.8" cy="1028.5" rx="5.7" ry="7.8" fill="none" stroke="#1c1c1c" stroke-width="1.5" transform="rotate(-20 371.8 1028.5)"/>
<ellipse cx="372.1" cy="1028.8" rx="3.6" ry="5.3" fill="none" stroke="#1c1c1c" stroke-width="1.1" transform="rotate(-20 372.1 1028.8)"/>
<path d="M362.7 1031.5 C363.5 1033.3 365 1039.8 367.3 1042.1 C369.5 1044.3 374.8 1044.6 376.3 1045.1" fill="none" stroke="#1c1c1c" stroke-width="1.1" stroke-linejoin="round" stroke-linecap="round"/>
<ellipse cx="449.2" cy="971.4" rx="10.5" ry="15.8" fill="none" stroke="#1c1c1c" stroke-width="2.35" transform="rotate(-22 449.2 971.4)"/>
<ellipse cx="449.2" cy="971.7" rx="8.3" ry="13.2" fill="none" stroke="#1c1c1c" stroke-width="1.1" transform="rotate(-22 449.2 971.7)"/>
<path d="M451.5 963.1 C452.3 964.5 454.8 968.2 456 971.4 C457.3 974.5 458.5 980.1 459 981.9" fill="none" stroke="#1c1c1c" stroke-width="2.35" stroke-linejoin="round" stroke-linecap="round"/>
<path d="M447 959.3 C448 960.3 451.1 962.1 453 965.3 C454.9 968.6 457.1 975.9 458.3 978.9 C459.4 981.9 459.5 982.6 459.8 983.4" fill="none" stroke="#1c1c1c" stroke-width="1.1" stroke-linejoin="round" stroke-linecap="round"/>
<path d="M426.7 1021.3 L464.3 998.1 L464.3 998.1 C467.2 998.1 477.7 996.9 481.6 997.7 C485.5 998.5 486.1 1000.8 487.6 1002.9 C489.1 1005.1 490.1 1008 490.6 1010.5 C491.1 1013 490.6 1016.7 490.6 1018 " fill="none" stroke="#1c1c1c" stroke-width="2.35" stroke-linejoin="round" stroke-linecap="round"/>
<path d="M442.5 1045.1 L505.7 1026.3" fill="none" stroke="#1c1c1c" stroke-width="2.35" stroke-linejoin="round" stroke-linecap="round"/>
<path d="M430.4 1021 L462 1001.4" fill="none" stroke="#1c1c1c" stroke-width="2.35" stroke-linejoin="round" stroke-linecap="round"/>
<ellipse cx="433.5" cy="1032.3" rx="9.9" ry="12.9" fill="none" stroke="#1c1c1c" stroke-width="2.35" transform="rotate(-22 433.5 1032.3)"/>
<ellipse cx="434.2" cy="1032.3" rx="5.7" ry="7.8" fill="none" stroke="#1c1c1c" stroke-width="1.6" transform="rotate(-22 434.2 1032.3)"/>
<ellipse cx="433.8" cy="1032.3" rx="7.5" ry="10.2" fill="none" stroke="#1c1c1c" stroke-width="1.1" transform="rotate(-22 433.8 1032.3)"/>
<path d="M445.5 1042.1 L493.6 1019.5" fill="none" stroke="#1c1c1c" stroke-width="1.1" stroke-linejoin="round" stroke-linecap="round"/>
<path d="M457.5 1052 L514.7 1024" fill="none" stroke="#1c1c1c" stroke-width="1.1" stroke-linejoin="round" stroke-linecap="round"/>
<path d="M490.6 1002.9 C492.4 1002.3 497.9 999.7 501.2 999.2 C504.4 998.7 508.7 999.8 510.2 999.9" fill="none" stroke="#1c1c1c" stroke-width="1.1" stroke-linejoin="round" stroke-linecap="round"/>
<ellipse cx="511.7" cy="1002.9" rx="8.3" ry="11.3" fill="none" stroke="#1c1c1c" stroke-width="1.1" transform="rotate(-22 511.7 1002.9)"/>
<path d="M505.7 997.7 C507.2 997.4 512.4 995.3 514.7 996.2 C516.9 997.1 518.3 1000.6 519.2 1002.9 C520.1 1005.3 519.8 1009.2 520 1010.5" fill="none" stroke="#1c1c1c" stroke-width="2.35" stroke-linejoin="round" stroke-linecap="round"/>
<path d="M502.7 1010.5 C503.7 1011.5 506.4 1015.7 508.7 1016.5 C510.9 1017.2 514.9 1015.2 516.2 1015" fill="none" stroke="#1c1c1c" stroke-width="1.1" stroke-linejoin="round" stroke-linecap="round"/>
<path d="M510.2 976.6 L522.2 999.9" fill="none" stroke="#1c1c1c" stroke-width="2.0" stroke-linejoin="round" stroke-linecap="round"/>
<path d="M514.7 977.4 L524.5 995.4" fill="none" stroke="#1c1c1c" stroke-width="2.0" stroke-linejoin="round" stroke-linecap="round"/>
<path d="M523 978.9 L532.7 1001.4" fill="none" stroke="#1c1c1c" stroke-width="2.0" stroke-linejoin="round" stroke-linecap="round"/>
<path d="M514.7 1025.5 L526.7 1039.1 L561.3 1039.1" fill="none" stroke="#1c1c1c" stroke-width="2.35" stroke-linejoin="round" stroke-linecap="round"/>
<path d="M520.7 1027 L531.2 1052" fill="none" stroke="#1c1c1c" stroke-width="2.35" stroke-linejoin="round" stroke-linecap="round"/>
<path d="M532.7 1007.5 C533.7 1009 536 1013.2 538.8 1016.5 C541.5 1019.7 545.5 1023.5 549.3 1027 C553.1 1030.5 559.3 1035.8 561.3 1037.6" fill="none" stroke="#1c1c1c" stroke-width="2.35" stroke-linejoin="round" stroke-linecap="round"/>
<path d="M541.8 1012 C543.3 1014 547.8 1021 550.8 1024 C553.8 1027 558.3 1029 559.8 1030" fill="none" stroke="#1c1c1c" stroke-width="1.1" stroke-linejoin="round" stroke-linecap="round"/>
<path d="M549.3 1030 C550.3 1029.5 553.6 1026.8 555.3 1027 C557.1 1027.3 559.3 1029.8 559.8 1031.5 C560.3 1033.3 558.6 1036.5 558.3 1037.6" fill="none" stroke="#1c1c1c" stroke-width="1.1" stroke-linejoin="round" stroke-linecap="round"/>
<path d="M556.8 990.2 L565.8 986.4 L574.9 999.2 L565.8 1002.9 L556.8 990.2" fill="none" stroke="#1c1c1c" stroke-width="1.7" stroke-linejoin="round" stroke-linecap="round"/>
<path d="M561.3 992.4 L570.4 1001.4" fill="none" stroke="#1c1c1c" stroke-width="1.1" stroke-linejoin="round" stroke-linecap="round"/>
<path d="M552.3 957.8 C553.3 959.8 556.1 965.8 558.3 969.9 C560.6 973.9 563.1 978.1 565.8 981.9 C568.6 985.6 573.4 990.7 574.9 992.4" fill="none" stroke="#1c1c1c" stroke-width="2.4" stroke-linejoin="round" stroke-linecap="round"/>
<path d="M624.1 870 C623.8 871.1 622 873.9 621.9 876.5 C621.8 879.1 622.2 882.1 623.5 885.6 C624.7 889.1 626.9 894.3 629.3 897.4 C631.7 900.4 634.7 902.7 637.8 903.9 C641 905 645.9 904.5 648.2 904.1 C650.6 903.8 651.5 902.3 652.2 901.9" fill="none" stroke="#1c1c1c" stroke-width="2.35" stroke-linejoin="round" stroke-linecap="round"/>
<path d="M624.1 870 L740.2 806.7" fill="none" stroke="#1c1c1c" stroke-width="2.35" stroke-linejoin="round" stroke-linecap="round"/>
<path d="M652.2 901.9 L751.3 845.2" fill="none" stroke="#1c1c1c" stroke-width="2.35" stroke-linejoin="round" stroke-linecap="round"/>
<path d="M740.2 806.7 C741.8 806.6 746.9 804.7 750 805.8 C753 806.9 756.5 810.2 758.4 813.3 C760.4 816.3 761.5 820.7 761.7 824.3 C761.8 827.9 761.1 831.3 759.3 834.8 C757.6 838.2 753.5 841.9 751.3 845.2 C749 848.5 747.6 851.7 746 854.3 C744.5 856.9 742.8 859.8 742.1 860.8" fill="none" stroke="#1c1c1c" stroke-width="2.35" stroke-linejoin="round" stroke-linecap="round"/>
<ellipse cx="636.2" cy="888.9" rx="6.8" ry="9.9" fill="none" stroke="#1c1c1c" stroke-width="1.8" transform="rotate(-22 636.2 888.9)"/>
<path d="M630.6 884.3 C631 885.6 631.2 890 632.6 892.1 C634 894.3 638 896.5 639.1 897.4" fill="none" stroke="#1c1c1c" stroke-width="1.1" stroke-linejoin="round" stroke-linecap="round"/>
<path d="M649.6 884.3 L756.5 823" fill="none" stroke="#1c1c1c" stroke-width="1.1" stroke-linejoin="round" stroke-linecap="round" stroke-dasharray="9 6"/>
<path d="M742.1 860.8 L747.3 864.8 L748.7 877.8 L743.4 881.1" fill="none" stroke="#1c1c1c" stroke-width="2.35" stroke-linejoin="round" stroke-linecap="round"/>
<path d="M747.3 864.8 L667.8 905.4" fill="none" stroke="#1c1c1c" stroke-width="1.7" stroke-linejoin="round" stroke-linecap="round"/>
<path d="M713.4 880.7 L746.7 863.5" fill="none" stroke="#1c1c1c" stroke-width="1.7" stroke-linejoin="round" stroke-linecap="round"/>
<path d="M690 892.1 L667.8 903.9" fill="none" stroke="#1c1c1c" stroke-width="1.7" stroke-linejoin="round" stroke-linecap="round"/>
<path d="M748.7 877.8 L667.8 911.7" fill="none" stroke="#1c1c1c" stroke-width="1.1" stroke-linejoin="round" stroke-linecap="round" stroke-dasharray="9 6"/>
<path d="M743.4 881.1 C740.4 882.9 730.6 887.5 725.2 892.1 C719.7 896.8 715 903.2 710.8 909.1 C706.7 915 703.2 922.1 700.4 927.3 C697.6 932.6 695.4 936 693.9 940.4 C692.4 944.8 691.7 951.7 691.3 953.9" fill="none" stroke="#1c1c1c" stroke-width="2.35" stroke-linejoin="round" stroke-linecap="round"/>
<path d="M600 800.9 L623.5 797 L623.5 797 L673 784.6 L673 784.6 C674.8 785.1 681.3 786.3 683.5 787.8 C685.6 789.3 685.6 792.7 686.1 793.7 L686.1 793.7 L740.2 806.7 " fill="none" stroke="#1c1c1c" stroke-width="2.35" stroke-linejoin="round" stroke-linecap="round"/>
<path d="M600 805.4 C602.6 805.3 611.7 805.8 615.6 804.8 C619.6 803.8 622.2 800.4 623.5 799.6" fill="none" stroke="#1c1c1c" stroke-width="1.7" stroke-linejoin="round" stroke-linecap="round"/>
<path d="M626.1 797.6 L683.5 793.7" fill="none" stroke="#1c1c1c" stroke-width="1.1" stroke-linejoin="round" stroke-linecap="round"/>
<path d="M600 817.8 L641.7 828.2 L617 847.8 L600 837.4" fill="none" stroke="#1c1c1c" stroke-width="2.35" stroke-linejoin="round" stroke-linecap="round"/>
<path d="M600 823 L639.1 831.5" fill="none" stroke="#1c1c1c" stroke-width="2.35" stroke-linejoin="round" stroke-linecap="round"/>
<path d="M641.7 828.2 L654.8 832.8" fill="none" stroke="#1c1c1c" stroke-width="2.35" stroke-linejoin="round" stroke-linecap="round"/>
<path d="M617 847.8 L621.5 870" fill="none" stroke="#1c1c1c" stroke-width="2.35" stroke-linejoin="round" stroke-linecap="round"/>
<path d="M631.3 847.8 C631.7 848.7 631.9 851.5 633.9 853 C635.9 854.5 640.4 856.9 643 856.9 C645.6 856.9 648.5 853.7 649.6 853" fill="none" stroke="#1c1c1c" stroke-width="1.1" stroke-linejoin="round" stroke-linecap="round"/>
<path d="M632.6 847.2 L643 849.1" fill="none" stroke="#1c1c1c" stroke-width="1.7" stroke-linejoin="round" stroke-linecap="round"/>
<path d="M617 850.4 L626.1 871.3" fill="none" stroke="#1c1c1c" stroke-width="1.7" stroke-linejoin="round" stroke-linecap="round"/>
<path d="M662.6 897.4 L667.8 910.4" fill="none" stroke="#1c1c1c" stroke-width="1.7" stroke-linejoin="round" stroke-linecap="round"/>
<path d="M665.2 896.1 L670.4 909.1" fill="none" stroke="#1c1c1c" stroke-width="1.7" stroke-linejoin="round" stroke-linecap="round"/>
<path d="M652.2 905.2 L661.3 954.2" fill="none" stroke="#1c1c1c" stroke-width="1.7" stroke-linejoin="round" stroke-linecap="round"/>
<path d="M649.6 907.8 L657.4 954.2" fill="none" stroke="#1c1c1c" stroke-width="1.7" stroke-linejoin="round" stroke-linecap="round"/>
<path d="M667.8 905.2 L690 892.1" fill="none" stroke="#1c1c1c" stroke-width="2.4" stroke-linejoin="round" stroke-linecap="round"/>
<path d="M580 801.2 C583.8 801.9 597.6 805.1 602.6 805.3 C607.6 805.4 606.8 802.8 610.1 801.9 C613.3 801.1 620.1 800.7 622.1 800.4 L622.1 800.4 L673.3 783.9 L673.3 783.9 C675 784.4 681.8 785.4 683.8 786.9 C685.8 788.4 685.1 791.9 685.3 792.9 L685.3 792.9 L744 806.5 " fill="none" stroke="#1c1c1c" stroke-width="2.35" stroke-linejoin="round" stroke-linecap="round"/>
<ellipse cx="612.3" cy="805" rx="8.3" ry="3" fill="none" stroke="#1c1c1c" stroke-width="1.5" transform="rotate(-10 612.3 805)"/>
<ellipse cx="612.3" cy="805.3" rx="5.3" ry="1.7" fill="none" stroke="#1c1c1c" stroke-width="1.1" transform="rotate(-10 612.3 805.3)"/>
<path d="M589 811.7 L650.7 830.5 L655.2 832.8" fill="none" stroke="#1c1c1c" stroke-width="2.35" stroke-linejoin="round" stroke-linecap="round"/>
<path d="M580 814 L646.2 836.6" fill="none" stroke="#1c1c1c" stroke-width="2.35" stroke-linejoin="round" stroke-linecap="round"/>
<path d="M580 821.5 L629.6 838.1" fill="none" stroke="#1c1c1c" stroke-width="1.1" stroke-linejoin="round" stroke-linecap="round"/>
<path d="M625.1 801.9 L683.8 789.9" fill="none" stroke="#1c1c1c" stroke-width="1.1" stroke-linejoin="round" stroke-linecap="round"/>
<path d="M598.1 830.5 L605.6 851" fill="none" stroke="#1c1c1c" stroke-width="1.7" stroke-linejoin="round" stroke-linecap="round"/>
<path d="M602.6 830.5 L610.1 851" fill="none" stroke="#1c1c1c" stroke-width="1.7" stroke-linejoin="round" stroke-linecap="round"/>
<path d="M650.7 830.5 L617.6 845.6" fill="none" stroke="#1c1c1c" stroke-width="1.7" stroke-linejoin="round" stroke-linecap="round"/>
<ellipse cx="613.4" cy="907.9" rx="18.4" ry="25.9" fill="none" stroke="#1c1c1c" stroke-width="2.35" transform="rotate(-20 613.4 907.9)"/>
<ellipse cx="614.3" cy="908.9" rx="14.3" ry="21.1" fill="none" stroke="#1c1c1c" stroke-width="1.1" transform="rotate(-20 614.3 908.9)"/>
<path d="M606.3 888.6 C607.5 890.6 610.2 895.6 613.1 900.6 C616 905.7 620.9 913.9 623.6 918.7 C626.4 923.5 628.6 927.5 629.6 929.2" fill="none" stroke="#1c1c1c" stroke-width="2.35" stroke-linejoin="round" stroke-linecap="round"/>
<path d="M611.6 889.4 C612.6 891 615.1 895 617.6 899.1 C620.1 903.3 624.5 910.2 626.6 914.2 C628.8 918.2 629.8 921.7 630.4 923.2" fill="none" stroke="#1c1c1c" stroke-width="1.1" stroke-linejoin="round" stroke-linecap="round"/>
<path d="M596.5 923.2 C598.3 924.8 602.8 931.1 607.1 933 C611.3 934.9 619.6 934.2 622.1 934.5" fill="none" stroke="#1c1c1c" stroke-width="1.1" stroke-linejoin="round" stroke-linecap="round"/>
<path d="M583 924 L611.6 907.4" fill="none" stroke="#1c1c1c" stroke-width="1.25" stroke-linejoin="round" stroke-linecap="round"/>
<path d="M623.6 933 L634.2 947.3 L619.1 947.3 L625.1 935.2 " fill="none" stroke="#1c1c1c" stroke-width="2.35" stroke-linejoin="round" stroke-linecap="round"/>
<path d="M634.2 947.3 L655.2 950.3" fill="none" stroke="#1c1c1c" stroke-width="1.1" stroke-linejoin="round" stroke-linecap="round" stroke-dasharray="12 6"/>
<path d="M580 959.3 L617.6 939.8" fill="none" stroke="#1c1c1c" stroke-width="1.1" stroke-linejoin="round" stroke-linecap="round" stroke-dasharray="12 6"/>
<path d="M652.2 914.2 C653.2 918.7 656 930.5 658.2 941.3 C660.5 952 663.7 967.6 665.8 978.9 C667.8 990.2 669.5 1004 670.3 1009" fill="none" stroke="#1c1c1c" stroke-width="2.35" stroke-linejoin="round" stroke-linecap="round"/>
<path d="M664.2 914.2 C665 918.7 666.8 929.2 668.8 941.3 C670.8 953.3 673.5 974.1 676.3 986.4 C679 998.7 683.8 1010.2 685.3 1015" fill="none" stroke="#1c1c1c" stroke-width="1.7" stroke-linejoin="round" stroke-linecap="round"/>
<path d="M666.5 914.2 L676.3 984.9" fill="none" stroke="#1c1c1c" stroke-width="1.1" stroke-linejoin="round" stroke-linecap="round"/>
<path d="M668.8 915.7 L677.8 983.4" fill="none" stroke="#1c1c1c" stroke-width="1.1" stroke-linejoin="round" stroke-linecap="round"/>
<path d="M670.3 1009 L677.8 1017.2" fill="none" stroke="#1c1c1c" stroke-width="1.7" stroke-linejoin="round" stroke-linecap="round"/>
<path d="M677.8 1017.2 L676.3 1022.5" fill="none" stroke="#1c1c1c" stroke-width="1.7" stroke-linejoin="round" stroke-linecap="round"/>
<path d="M670.3 1010.5 L676.3 1021" fill="none" stroke="#1c1c1c" stroke-width="1.7" stroke-linejoin="round" stroke-linecap="round"/>
<path d="M695.1 935.2 C694.2 939.3 690.5 950.8 689.5 959.3 C688.5 967.8 688.5 978.1 689.1 986.4 C689.6 994.7 691 1001.9 692.8 1009 C694.7 1016 697.8 1023.2 700.4 1028.5 C702.9 1033.8 706.6 1038.8 707.9 1040.9" fill="none" stroke="#1c1c1c" stroke-width="2.35" stroke-linejoin="round" stroke-linecap="round"/>
<path d="M685.3 1015 C686.3 1017.7 689.1 1026.5 691.3 1031.5 C693.6 1036.5 696.8 1041.7 698.9 1045.1 C700.9 1048.5 702.6 1050.8 703.4 1052" fill="none" stroke="#1c1c1c" stroke-width="1.7" stroke-linejoin="round" stroke-linecap="round"/>
<ellipse cx="687.6" cy="941.3" rx="5.7" ry="9.6" fill="none" stroke="#1c1c1c" stroke-width="1.5" transform="rotate(-15 687.6 941.3)"/>
<path d="M689.8 933 C690.3 934.4 692.7 938.6 692.8 941.3 C693 943.9 691 947.5 690.6 948.8" fill="none" stroke="#1c1c1c" stroke-width="1.1" stroke-linejoin="round" stroke-linecap="round"/>
<ellipse cx="683.8" cy="967.6" rx="2.1" ry="2.7" fill="none" stroke="#1c1c1c" stroke-width="1.4" transform="rotate(-15 683.8 967.6)"/>
<path d="M606.3 954.8 C606.7 955.8 607.2 959.4 608.6 960.8 C610 962.2 613.6 962.7 614.6 963.1" fill="none" stroke="#1c1c1c" stroke-width="1.1" stroke-linejoin="round" stroke-linecap="round"/>
<path d="M614.6 963.1 L664.2 978.9" fill="none" stroke="#1c1c1c" stroke-width="2.35" stroke-linejoin="round" stroke-linecap="round"/>
<path d="M619.1 969.9 L663.5 980.4" fill="none" stroke="#1c1c1c" stroke-width="2.35" stroke-linejoin="round" stroke-linecap="round"/>
<path d="M632.7 947.3 C632.4 948.5 630.4 952.8 631.2 954.8 C631.9 956.8 636.2 958.6 637.2 959.3" fill="none" stroke="#1c1c1c" stroke-width="1.1" stroke-linejoin="round" stroke-linecap="round"/>
<path d="M637.2 959.3 L658.2 965.3" fill="none" stroke="#1c1c1c" stroke-width="1.1" stroke-linejoin="round" stroke-linecap="round"/>
<path d="M629.6 972.9 C630.1 974.4 630.9 979.6 632.7 981.9 C634.4 984.1 638.9 985.6 640.2 986.4" fill="none" stroke="#1c1c1c" stroke-width="1.1" stroke-linejoin="round" stroke-linecap="round"/>
<path d="M610.1 992.4 L629.6 1001.4" fill="none" stroke="#1c1c1c" stroke-width="1.1" stroke-linejoin="round" stroke-linecap="round"/>
<path d="M608.6 993.9 L613.8 999.9" fill="none" stroke="#1c1c1c" stroke-width="1.1" stroke-linejoin="round" stroke-linecap="round"/>
<path d="M613.8 999.2 L626.6 1007.5 L626.6 1007.5 C627.1 1006.5 627.9 1002.2 629.6 1001.4 C631.4 1000.7 635.5 1001.4 637.2 1002.9 C638.8 1004.5 639 1009.2 639.4 1010.5 L639.4 1010.5 L670.3 1022.5 " fill="none" stroke="#1c1c1c" stroke-width="2.35" stroke-linejoin="round" stroke-linecap="round"/>
<ellipse cx="632.7" cy="1008.2" rx="3.9" ry="5.4" fill="none" stroke="#1c1c1c" stroke-width="1.4" transform="rotate(-25 632.7 1008.2)"/>
<ellipse cx="632.7" cy="1008.2" rx="2" ry="2.9" fill="none" stroke="#1c1c1c" stroke-width="1.1" transform="rotate(-25 632.7 1008.2)"/>
<path d="M641.7 1007.5 L671.8 1018" fill="none" stroke="#1c1c1c" stroke-width="1.1" stroke-linejoin="round" stroke-linecap="round"/>
<path d="M643.2 1012.7 L670.3 1022.5" fill="none" stroke="#1c1c1c" stroke-width="1.1" stroke-linejoin="round" stroke-linecap="round"/>
<path d="M580 1002.9 C580.8 1002.7 583 1001.2 584.5 1001.4 C586 1001.7 587.8 1002.4 589 1004.5 C590.3 1006.5 590.5 1005.6 592 1013.5 C593.5 1021.4 597.1 1045.6 598.1 1052" fill="none" stroke="#1c1c1c" stroke-width="1.7" stroke-linejoin="round" stroke-linecap="round"/>
<ellipse cx="584.5" cy="1005.2" rx="2.1" ry="3.3" fill="none" stroke="#1c1c1c" stroke-width="1.1" transform="rotate(-25 584.5 1005.2)"/>
<path d="M593.5 1004.5 L608.6 995.4" fill="none" stroke="#1c1c1c" stroke-width="1.1" stroke-linejoin="round" stroke-linecap="round"/>
<path d="M639.4 1016.5 C640.1 1018 643.3 1022.5 643.2 1025.5 C643.1 1028.5 639.2 1031.3 638.7 1034.5 C638.2 1037.8 638.4 1042.2 640.2 1045.1 C641.9 1048 647.7 1050.8 649.2 1052" fill="none" stroke="#1c1c1c" stroke-width="1.1" stroke-linejoin="round" stroke-linecap="round"/>
<path d="M658.2 1024 C658.5 1025.8 657.7 1031.3 659.7 1034.5 C661.7 1037.8 666.5 1041.8 670.3 1043.6 C674 1045.3 680.3 1044.8 682.3 1045.1" fill="none" stroke="#1c1c1c" stroke-width="1.7" stroke-linejoin="round" stroke-linecap="round"/>
<path d="M625.1 990.9 L650.7 986.4" fill="none" stroke="#1c1c1c" stroke-width="1.1" stroke-linejoin="round" stroke-linecap="round"/>
<path d="M650.7 986.4 C652 987.4 656 989.9 658.2 992.4 C660.5 994.9 663.2 999.9 664.2 1001.4" fill="none" stroke="#1c1c1c" stroke-width="1.1" stroke-linejoin="round" stroke-linecap="round"/>
<path d="M359.7 1056.5 C361.5 1060.3 365.5 1070.8 370.3 1079.1 C375 1087.4 384.1 1101 388.3 1106.2 C392.6 1111.3 391.3 1105.7 395.8 1109.9 C400.4 1114.2 408.4 1124.8 415.4 1131.7 C422.4 1138.6 430.9 1146 438 1151.3 C445 1156.6 451.8 1159.8 457.5 1163.3 C463.3 1166.8 468.6 1169.6 472.6 1172.4 C476.6 1175.1 480.1 1178.6 481.6 1179.9" fill="none" stroke="#1c1c1c" stroke-width="2.35" stroke-linejoin="round" stroke-linecap="round"/>
<path d="M487.6 1184.4 C489.1 1186.1 491.1 1190.9 496.6 1194.9 C502.2 1198.9 514.4 1204.7 520.7 1208.5 C527 1212.2 531.2 1215.2 534.3 1217.5 C537.3 1219.7 538 1221.2 538.8 1222" fill="none" stroke="#1c1c1c" stroke-width="2.35" stroke-linejoin="round" stroke-linecap="round"/>
<path d="M538.8 1222 C539.8 1222.6 542.8 1225 544.8 1225.8 C546.8 1226.5 549.8 1226.4 550.8 1226.5 L550.8 1226.5 L580 1208.5 " fill="none" stroke="#1c1c1c" stroke-width="2.35" stroke-linejoin="round" stroke-linecap="round"/>
<path d="M541.8 1213.7 L580 1192.7" fill="none" stroke="#1c1c1c" stroke-width="1.7" stroke-linejoin="round" stroke-linecap="round"/>
<path d="M535.8 1216 C536.5 1216.5 538.8 1218.7 540.3 1219 C541.8 1219.2 544 1217.7 544.8 1217.5" fill="none" stroke="#1c1c1c" stroke-width="1.7" stroke-linejoin="round" stroke-linecap="round"/>
<path d="M415.4 1052 C417.4 1055 422.4 1064.5 427.4 1070.1 C432.4 1075.6 437.5 1079.6 445.5 1085.1 C453.5 1090.6 468.1 1099.1 475.6 1103.2 C483.1 1107.2 488.1 1108.4 490.6 1109.5 L490.6 1109.5 C491.1 1110.9 491.9 1115.5 493.6 1118.2 C495.4 1120.9 499.9 1124.5 501.2 1125.7 L501.2 1125.7 C503.4 1126.5 508.9 1128.5 514.7 1130.5 C520.5 1132.5 530.7 1136.4 535.8 1137.8 C540.8 1139.1 543.3 1138.4 544.8 1138.5 " fill="none" stroke="#1c1c1c" stroke-width="2.35" stroke-linejoin="round" stroke-linecap="round"/>
<path d="M422.9 1052 C424.4 1054.3 427.7 1061 431.9 1065.5 C436.2 1070.1 441.2 1074.1 448.5 1079.1 C455.8 1084.1 468.3 1091.7 475.6 1095.6 C482.8 1099.5 489.4 1101.3 492.1 1102.4" fill="none" stroke="#1c1c1c" stroke-width="1.7" stroke-linejoin="round" stroke-linecap="round"/>
<path d="M508.7 1120.5 C510.7 1121.6 515.2 1125.1 520.7 1127.2 C526.2 1129.4 538.3 1132.2 541.8 1133.2" fill="none" stroke="#1c1c1c" stroke-width="1.7" stroke-linejoin="round" stroke-linecap="round"/>
<ellipse cx="498.9" cy="1115.9" rx="3.3" ry="4.8" fill="none" stroke="#1c1c1c" stroke-width="1.4" transform="rotate(-25 498.9 1115.9)"/>
<ellipse cx="498.9" cy="1115.9" rx="1.8" ry="2.7" fill="none" stroke="#1c1c1c" stroke-width="1.1" transform="rotate(-25 498.9 1115.9)"/>
<path d="M492.1 1104.7 L538.8 1079.8" fill="none" stroke="#1c1c1c" stroke-width="2.35" stroke-linejoin="round" stroke-linecap="round"/>
<path d="M508.7 1118.2 L550.8 1094.1" fill="none" stroke="#1c1c1c" stroke-width="2.35" stroke-linejoin="round" stroke-linecap="round"/>
<path d="M514.7 1069.3 L535.8 1082.1" fill="none" stroke="#1c1c1c" stroke-width="1.1" stroke-linejoin="round" stroke-linecap="round"/>
<path d="M508.7 1130.2 C509.7 1134.7 512.9 1148.5 514.7 1157.3 C516.4 1166.1 516.2 1175.9 519.2 1182.9 C522.2 1189.9 529 1194.9 532.7 1199.4 C536.5 1203.9 540.3 1208.2 541.8 1210" fill="none" stroke="#1c1c1c" stroke-width="1.1" stroke-linejoin="round" stroke-linecap="round"/>
<ellipse cx="444.7" cy="1058" rx="6.8" ry="9.3" fill="none" stroke="#1c1c1c" stroke-width="2.35" transform="rotate(-22 444.7 1058)"/>
<ellipse cx="444.7" cy="1058" rx="4.2" ry="6" fill="none" stroke="#1c1c1c" stroke-width="1.1" transform="rotate(-22 444.7 1058)"/>
<ellipse cx="469.6" cy="1067.8" rx="10.5" ry="14.3" fill="none" stroke="#1c1c1c" stroke-width="2.35" transform="rotate(-22 469.6 1067.8)"/>
<ellipse cx="469.9" cy="1068.2" rx="7.2" ry="10.5" fill="none" stroke="#1c1c1c" stroke-width="1.7" transform="rotate(-22 469.9 1068.2)"/>
<path d="M477.1 1082.1 L514.7 1061" fill="none" stroke="#1c1c1c" stroke-width="2.35" stroke-linejoin="round" stroke-linecap="round"/>
<path d="M502.7 1067 L511.7 1070.8" fill="none" stroke="#1c1c1c" stroke-width="2.35" stroke-linejoin="round" stroke-linecap="round"/>
<path d="M502.7 1067 C503.2 1067.7 504.2 1070.3 505.7 1070.8 C507.2 1071.3 510.7 1070.2 511.7 1070.1" fill="none" stroke="#1c1c1c" stroke-width="1.7" stroke-linejoin="round" stroke-linecap="round"/>
<path d="M535.8 1079.8 C536.8 1079.2 539.5 1075.9 541.8 1076.1 C544 1076.2 547.5 1078.3 549.3 1080.6 C551 1082.8 551.8 1088.1 552.3 1089.6" fill="none" stroke="#1c1c1c" stroke-width="1.1" stroke-linejoin="round" stroke-linecap="round"/>
<path d="M553.8 1080.6 C555.1 1080.2 557.8 1078.1 561.3 1078.3 C564.8 1078.6 571.8 1080.7 574.9 1082.1 C578 1083.5 579.1 1085.8 580 1086.6" fill="none" stroke="#1c1c1c" stroke-width="1.7" stroke-linejoin="round" stroke-linecap="round"/>
<path d="M555.3 1084.3 C556.6 1085.5 558.7 1089.2 562.8 1091.1 C566.9 1093 577.1 1094.9 580 1095.6" fill="none" stroke="#1c1c1c" stroke-width="1.1" stroke-linejoin="round" stroke-linecap="round"/>
<path d="M544.8 1113.7 C547 1114.4 554.8 1117.7 558.3 1118.2 C561.8 1118.7 564.6 1116.9 565.8 1116.7" fill="none" stroke="#1c1c1c" stroke-width="1.1" stroke-linejoin="round" stroke-linecap="round"/>
<ellipse cx="573.4" cy="1116.7" rx="6" ry="8.3" fill="none" stroke="#1c1c1c" stroke-width="2.35" transform="rotate(-22 573.4 1116.7)"/>
<ellipse cx="574.1" cy="1117" rx="3.3" ry="4.8" fill="none" stroke="#1c1c1c" stroke-width="1.1" transform="rotate(-22 574.1 1117)"/>
<ellipse cx="569.6" cy="1140.8" rx="3.9" ry="5.4" fill="none" stroke="#1c1c1c" stroke-width="1.4" transform="rotate(-25 569.6 1140.8)"/>
<path d="M544.8 1138.5 C547 1139.6 552.5 1143.4 558.3 1145.3 C564.2 1147.2 576.4 1149 580 1149.8" fill="none" stroke="#1c1c1c" stroke-width="2.35" stroke-linejoin="round" stroke-linecap="round"/>
<ellipse cx="634.9" cy="1090.4" rx="9.3" ry="12.3" fill="none" stroke="#1c1c1c" stroke-width="1.8" transform="rotate(-25 634.9 1090.4)"/>
<ellipse cx="634.9" cy="1090.4" rx="7.5" ry="10.2" fill="none" stroke="#1c1c1c" stroke-width="1.1" transform="rotate(-25 634.9 1090.4)"/>
<ellipse cx="650" cy="1099.4" rx="6.3" ry="9" fill="none" stroke="#1c1c1c" stroke-width="1.6" transform="rotate(-25 650 1099.4)"/>
<ellipse cx="651" cy="1100.1" rx="3.9" ry="6" fill="none" stroke="#1c1c1c" stroke-width="1.1" transform="rotate(-25 651 1100.1)"/>
<ellipse cx="629.6" cy="1128.7" rx="8.7" ry="11.3" fill="none" stroke="#1c1c1c" stroke-width="1.9" transform="rotate(-25 629.6 1128.7)"/>
<ellipse cx="629.6" cy="1128.7" rx="6.9" ry="9.3" fill="none" stroke="#1c1c1c" stroke-width="1.1" transform="rotate(-25 629.6 1128.7)"/>
<ellipse cx="632.4" cy="1109.9" rx="2.4" ry="3.3" fill="none" stroke="#1c1c1c" stroke-width="1.3" transform="rotate(-25 632.4 1109.9)"/>
<ellipse cx="601.1" cy="1077.6" rx="2.7" ry="4.1" fill="none" stroke="#1c1c1c" stroke-width="1.4" transform="rotate(-25 601.1 1077.6)"/>
<ellipse cx="598.8" cy="1090.4" rx="2.1" ry="3.3" fill="none" stroke="#1c1c1c" stroke-width="1.2" transform="rotate(-25 598.8 1090.4)"/>
<ellipse cx="584.5" cy="1088.1" rx="6" ry="8.3" fill="none" stroke="#1c1c1c" stroke-width="2.35" transform="rotate(-25 584.5 1088.1)"/>
<ellipse cx="584.5" cy="1088.1" rx="3.9" ry="5.7" fill="none" stroke="#1c1c1c" stroke-width="1.1" transform="rotate(-25 584.5 1088.1)"/>
<path d="M580 1065.5 C581.5 1064.8 586 1060.8 589 1061 C592 1061.3 595.3 1064.8 598.1 1067 C600.8 1069.3 604.3 1073.3 605.6 1074.6 L605.6 1074.6 L608.6 1091.1 L608.6 1091.1 C607.1 1092.9 601.3 1097.6 599.6 1101.6 C597.8 1105.7 598.3 1112.9 598.1 1115.2 L598.1 1115.2 C596.5 1118.2 592 1129.2 589 1133.2 C586 1137.3 581.5 1138.3 580 1139.3 " fill="none" stroke="#1c1c1c" stroke-width="2.35" stroke-linejoin="round" stroke-linecap="round"/>
<path d="M596.5 1065.5 C597.8 1067.8 602.7 1074.8 604.1 1079.1 C605.5 1083.3 606 1087.4 604.8 1091.1 C603.7 1094.9 599.1 1097.9 597.3 1101.6 C595.5 1105.4 594.8 1111.7 594.3 1113.7" fill="none" stroke="#1c1c1c" stroke-width="1.1" stroke-linejoin="round" stroke-linecap="round"/>
<path d="M607.1 1071.6 L650.7 1052" fill="none" stroke="#1c1c1c" stroke-width="2.35" stroke-linejoin="round" stroke-linecap="round"/>
<path d="M608.6 1086.6 L625.1 1079.1" fill="none" stroke="#1c1c1c" stroke-width="2.35" stroke-linejoin="round" stroke-linecap="round"/>
<path d="M650.7 1068.5 L658.2 1052" fill="none" stroke="#1c1c1c" stroke-width="2.35" stroke-linejoin="round" stroke-linecap="round"/>
<path d="M625.1 1079.1 C624.6 1080.8 622.1 1085.8 622.1 1089.6 C622.1 1093.4 623.9 1098.6 625.1 1101.6 C626.4 1104.7 628.9 1106.7 629.6 1107.7" fill="none" stroke="#1c1c1c" stroke-width="1.1" stroke-linejoin="round" stroke-linecap="round"/>
<path d="M615.4 1094.9 C615 1096 612.5 1098.8 613.1 1101.6 C613.7 1104.5 617.6 1109.4 619.1 1112.2 C620.6 1114.9 621.6 1117.2 622.1 1118.2" fill="none" stroke="#1c1c1c" stroke-width="1.1" stroke-linejoin="round" stroke-linecap="round"/>
<path d="M650.7 1068.5 C652.2 1070.3 657.2 1074.3 659.7 1079.1 C662.2 1083.8 664.8 1094.1 665.8 1097.1 L665.8 1097.1 L709.4 1088.1 L709.4 1088.1 L710.9 1070.1 " fill="none" stroke="#1c1c1c" stroke-width="1.7" stroke-linejoin="round" stroke-linecap="round"/>
<path d="M659 1079.8 L671.8 1073.1" fill="none" stroke="#1c1c1c" stroke-width="2.6" stroke-linejoin="round" stroke-linecap="round"/>
<path d="M664.2 1052 C666.3 1053.5 671.8 1058.6 676.3 1061 C680.8 1063.4 686.6 1065.5 691.3 1066.3 C696.1 1067 702.6 1065.7 704.9 1065.5" fill="none" stroke="#1c1c1c" stroke-width="2.35" stroke-linejoin="round" stroke-linecap="round"/>
<path d="M704.9 1065.5 C706.1 1065.4 709.9 1063.8 712.4 1064.8 C714.9 1065.8 717.2 1070.6 719.9 1071.6 C722.7 1072.6 727.4 1070.9 728.9 1070.8 L728.9 1070.8 C730.7 1070.1 735.5 1066.3 739.5 1066.3 C743.5 1066.3 750.8 1070.1 753 1070.8 L753 1070.8 L781.6 1055 " fill="none" stroke="#1c1c1c" stroke-width="2.35" stroke-linejoin="round" stroke-linecap="round"/>
<path d="M697.3 1052 C697.8 1053.3 698.6 1057.6 700.4 1059.5 C702.1 1061.4 705.4 1063 707.9 1063.3 C710.4 1063.5 713.4 1062.9 715.4 1061 C717.4 1059.1 719.2 1053.5 719.9 1052" fill="none" stroke="#1c1c1c" stroke-width="2.35" stroke-linejoin="round" stroke-linecap="round"/>
<path d="M722.9 1052 C722.7 1053.3 720.7 1057.3 721.4 1059.5 C722.2 1061.8 724.9 1065.3 727.4 1065.5 C729.9 1065.8 733.5 1063.3 736.5 1061 C739.5 1058.8 744 1053.5 745.5 1052" fill="none" stroke="#1c1c1c" stroke-width="1.1" stroke-linejoin="round" stroke-linecap="round"/>
<path d="M709.4 1069.3 L710.9 1088.1" fill="none" stroke="#1c1c1c" stroke-width="2.35" stroke-linejoin="round" stroke-linecap="round"/>
<path d="M710.9 1088.1 L685.3 1103.2" fill="none" stroke="#1c1c1c" stroke-width="2.35" stroke-linejoin="round" stroke-linecap="round"/>
<path d="M598.1 1115.2 L661.2 1098.6" fill="none" stroke="#1c1c1c" stroke-width="1.1" stroke-linejoin="round" stroke-linecap="round"/>
<path d="M604.1 1128 L614.6 1131.7" fill="none" stroke="#1c1c1c" stroke-width="1.1" stroke-linejoin="round" stroke-linecap="round"/>
<path d="M639.4 1136.2 L704.9 1102.4" fill="none" stroke="#1c1c1c" stroke-width="2.35" stroke-linejoin="round" stroke-linecap="round"/>
<path d="M643.2 1145.3 L685.3 1122.7" fill="none" stroke="#1c1c1c" stroke-width="2.35" stroke-linejoin="round" stroke-linecap="round"/>
<path d="M663.5 1124.2 C664.1 1125 665.1 1128.2 667.3 1128.7 C669.4 1129.2 673.8 1128.2 676.3 1127.2 C678.8 1126.2 681.3 1123.5 682.3 1122.7" fill="none" stroke="#1c1c1c" stroke-width="1.1" stroke-linejoin="round" stroke-linecap="round"/>
<path d="M661.2 1127.2 C660.7 1129.2 660 1135.7 658.2 1139.3 C656.5 1142.8 652.7 1145.3 650.7 1148.3 C648.7 1151.3 646.9 1155.8 646.2 1157.3" fill="none" stroke="#1c1c1c" stroke-width="1.1" stroke-linejoin="round" stroke-linecap="round"/>
<path d="M685.3 1122.7 L704.9 1102.4" fill="none" stroke="#1c1c1c" stroke-width="2.35" stroke-linejoin="round" stroke-linecap="round"/>
<path d="M646.2 1157.3 L685.3 1122.7" fill="none" stroke="#1c1c1c" stroke-width="2.35" stroke-linejoin="round" stroke-linecap="round"/>
<path d="M610.1 1148.3 C610 1149.8 608.6 1153.8 609.3 1157.3 C610.1 1160.8 612 1166.5 614.6 1169.3 C617.2 1172.2 623.4 1173.7 625.1 1174.6 L625.1 1174.6 C624.4 1175.5 620.9 1178.2 620.6 1179.9 C620.4 1181.5 621.6 1183.5 623.6 1184.4 C625.6 1185.3 629.4 1185.6 632.7 1185.1 C635.9 1184.6 641.1 1183 643.2 1181.4 C645.3 1179.8 645.1 1176.4 645.4 1175.4 L645.4 1175.4 C645.1 1171.9 644.2 1159.8 643.2 1154.3 C642.2 1148.8 640.9 1145 639.4 1142.3 C637.9 1139.5 635 1138.5 634.2 1137.8 " fill="none" stroke="#1c1c1c" stroke-width="2.35" stroke-linejoin="round" stroke-linecap="round"/>
<ellipse cx="620.3" cy="1159.6" rx="9.9" ry="12.9" fill="none" stroke="#1c1c1c" stroke-width="1.8" transform="rotate(-25 620.3 1159.6)"/>
<ellipse cx="620.6" cy="1159.7" rx="7.8" ry="10.5" fill="none" stroke="#1c1c1c" stroke-width="1.1" transform="rotate(-25 620.6 1159.7)"/>
<path d="M645.4 1166.3 L685.3 1142.3" fill="none" stroke="#1c1c1c" stroke-width="2.35" stroke-linejoin="round" stroke-linecap="round"/>
<path d="M580 1200.9 L614.6 1184.4 L614.6 1184.4 C614.9 1185 617.4 1186.6 616.1 1188.2 C614.9 1189.7 608.6 1192.5 607.1 1193.4 L607.1 1193.4 L580 1208.5 " fill="none" stroke="#1c1c1c" stroke-width="2.35" stroke-linejoin="round" stroke-linecap="round"/>
<path d="M598.1 1182.9 L620.6 1172.4" fill="none" stroke="#1c1c1c" stroke-width="2.6" stroke-linejoin="round" stroke-linecap="round"/>
<path d="M607.1 1188.2 L607.1 1193.4" fill="none" stroke="#1c1c1c" stroke-width="1.1" stroke-linejoin="round" stroke-linecap="round"/>
<path d="M535.2 1208.2 C536 1210.2 537.1 1217.1 540.2 1219.9 C543.2 1222.7 551.3 1224.1 553.5 1224.9 L553.5 1224.9 L616.9 1186.5 " fill="none" stroke="#1c1c1c" stroke-width="2.35" stroke-linejoin="round" stroke-linecap="round"/>
<path d="M546.9 1213.2 L613.6 1176.5" fill="none" stroke="#1c1c1c" stroke-width="1.7" stroke-linejoin="round" stroke-linecap="round"/>
<path d="M613.6 1176.5 L616.9 1186.5" fill="none" stroke="#1c1c1c" stroke-width="1.7" stroke-linejoin="round" stroke-linecap="round"/>
<path d="M515.2 1126.5 C515.4 1133.2 515.4 1155.4 516.8 1166.5 C518.2 1177.6 520.2 1186.3 523.5 1193.2 C526.8 1200.1 534.6 1205.7 536.8 1208.2" fill="none" stroke="#1c1c1c" stroke-width="1.1" stroke-linejoin="round" stroke-linecap="round"/>
<path d="M546.2 1226.6 L546.2 1236.6" fill="none" stroke="#1c1c1c" stroke-width="1.25" stroke-linejoin="round" stroke-linecap="round"/>
<path d="M742.1 1027 C746.3 1027.7 761.3 1030.1 766.9 1030.9 C772.6 1031.8 773.5 1031.3 776 1032.2 C778.5 1033.2 780.6 1034 781.9 1036.8 C783.2 1039.6 783.5 1047.1 783.9 1049.2 L783.9 1049.2 L751.9 1071.4 L751.9 1071.4 C751.1 1070.8 750.1 1068.5 747.3 1068.1 C744.6 1067.7 739.3 1067.9 735.6 1068.7 C731.9 1069.6 728.2 1072.9 725.2 1073.3 C722.1 1073.7 719.5 1072.6 717.4 1071.4 C715.2 1070.2 713 1067 712.1 1066.1 " fill="none" stroke="#1c1c1c" stroke-width="2.35" stroke-linejoin="round" stroke-linecap="round"/>
<path d="M722.6 1045.3 C723.9 1045.4 726.7 1047.2 730.4 1045.9 C734.1 1044.6 739.1 1039.8 744.7 1037.5 C750.4 1035.1 761 1032.6 764.3 1031.6" fill="none" stroke="#1c1c1c" stroke-width="1.7" stroke-linejoin="round" stroke-linecap="round"/>
<path d="M722.6 1045.3 C722.4 1047 720.8 1052.7 721.3 1055.7 C721.7 1058.8 723.4 1063.1 725.2 1063.5 C726.9 1064 729.7 1060.5 731.7 1058.3 C733.7 1056.1 736 1051.8 736.9 1050.5" fill="none" stroke="#1c1c1c" stroke-width="2.35" stroke-linejoin="round" stroke-linecap="round"/>
<path d="M736.9 1050.5 C739.7 1049.6 748.4 1047.4 753.9 1045.3 C759.3 1043.1 764.9 1038.8 769.5 1037.5 C774.1 1036.1 779.3 1037.5 781.2 1037.5" fill="none" stroke="#1c1c1c" stroke-width="1.1" stroke-linejoin="round" stroke-linecap="round"/>
<path d="M738.2 1053.8 C741.3 1052.8 750.8 1050.4 756.5 1048.1 C762.1 1045.9 769.5 1041.6 772.1 1040.3" fill="none" stroke="#1c1c1c" stroke-width="1.1" stroke-linejoin="round" stroke-linecap="round"/>
<ellipse cx="711.5" cy="1050.5" rx="6.8" ry="11.5" fill="none" stroke="#1c1c1c" stroke-width="2.35" transform="rotate(-20 711.5 1050.5)"/>
<ellipse cx="711.9" cy="1051.1" rx="3.7" ry="7.6" fill="none" stroke="#1c1c1c" stroke-width="1.7" transform="rotate(-20 711.9 1051.1)"/>
<path d="M704.3 1028.3 C705.4 1027.7 708.7 1025 710.8 1024.4 C713 1023.9 715.4 1024.2 717.4 1025.1 C719.3 1025.9 720.4 1029.1 722.6 1029.6 C724.7 1030.2 726.7 1029 730.4 1028.3 C734.1 1027.7 742.3 1026.2 744.7 1025.7" fill="none" stroke="#1c1c1c" stroke-width="2.35" stroke-linejoin="round" stroke-linecap="round"/>
<path d="M717.4 1037.5 C719.1 1037 724.3 1036.1 727.8 1034.8 C731.3 1033.5 736.5 1030.5 738.2 1029.6" fill="none" stroke="#1c1c1c" stroke-width="2.35" stroke-linejoin="round" stroke-linecap="round"/>
<path d="M639.1 1027 C639.6 1028.3 641.9 1032.2 641.7 1034.8 C641.5 1037.5 637.6 1040.9 637.8 1042.7 C638 1044.4 639.8 1044.4 643 1045.3 C646.3 1046.1 653.7 1046.1 657.4 1047.9 C661.1 1049.6 663.9 1054.4 665.2 1055.7" fill="none" stroke="#1c1c1c" stroke-width="1.7" stroke-linejoin="round" stroke-linecap="round"/>
<path d="M657.4 1047.9 C659.1 1049.4 663.9 1054.6 667.8 1057 C671.7 1059.4 675.6 1060.9 680.8 1062.2 C686.1 1063.5 696.1 1064.4 699.1 1064.8 L699.1 1064.8 L712.1 1066.1 " fill="none" stroke="#1c1c1c" stroke-width="2.35" stroke-linejoin="round" stroke-linecap="round"/>
<path d="M708.2 1068.7 L712.1 1088.3" fill="none" stroke="#1c1c1c" stroke-width="2.35" stroke-linejoin="round" stroke-linecap="round"/>
<path d="M712.1 1088.3 L700.4 1096.1" fill="none" stroke="#1c1c1c" stroke-width="2.35" stroke-linejoin="round" stroke-linecap="round"/>
<path d="M662.6 1064.8 L678.2 1071.4 L696.5 1072 L708.2 1068.7" fill="none" stroke="#1c1c1c" stroke-width="2.35" stroke-linejoin="round" stroke-linecap="round"/>
<path d="M600 1072.7 L656.1 1044" fill="none" stroke="#1c1c1c" stroke-width="1.1" stroke-linejoin="round" stroke-linecap="round"/>
<path d="M600 1085.7 L657.4 1059.6 L662.6 1064.8" fill="none" stroke="#1c1c1c" stroke-width="1.1" stroke-linejoin="round" stroke-linecap="round"/>
<path d="M660 1079.2 L673 1071.4" fill="none" stroke="#1c1c1c" stroke-width="3.0" stroke-linejoin="round" stroke-linecap="round"/>
<path d="M662.6 1024.4 L665.2 1037.5 L678.2 1040.1" fill="none" stroke="#1c1c1c" stroke-width="1.7" stroke-linejoin="round" stroke-linecap="round"/>
<path d="M657.4 1024.4 L661.3 1034.8" fill="none" stroke="#1c1c1c" stroke-width="1.7" stroke-linejoin="round" stroke-linecap="round"/>
<path d="M1203.5 189.7 L1209.6 185.2 L1209.6 185.2 L1311.9 127.3 L1311.9 127.3 C1312.9 126.9 1315.9 124.8 1317.9 124.7 C1319.9 124.7 1321.6 125.3 1323.9 126.8 C1326.2 128.4 1330.2 132.9 1331.4 134.1 L1331.4 134.1 L1346.5 140.8 L1346.5 140.8 C1347.3 140.3 1350 138.3 1351.7 137.8 C1353.5 137.3 1355.1 137.3 1357 137.8 C1358.9 138.3 1362 140.3 1363 140.8 L1363 140.8 L1375 151.4 L1375 151.4 C1375.9 151 1378.6 149.2 1380.3 149.4 C1382.1 149.7 1383.7 150.8 1385.6 152.9 C1387.5 155 1390.6 160.4 1391.6 161.9 L1391.6 161.9 C1394.6 165 1400.6 170.6 1409.6 180.7 C1418.7 190.9 1439.7 215.8 1445.8 222.8 L1445.8 222.8 C1447.3 223 1452.3 222.6 1454.8 223.6 C1457.3 224.6 1458.5 226.2 1460.8 228.9 C1463.1 231.5 1467.1 237.6 1468.3 239.4 L1468.3 239.4 L1490 243.9 " fill="none" stroke="#1c1c1c" stroke-width="2.35" stroke-linejoin="round" stroke-linecap="round"/>
<path d="M1322.4 133.3 L1345 142.3" fill="none" stroke="#1c1c1c" stroke-width="2.35" stroke-linejoin="round" stroke-linecap="round"/>
<path d="M1262.2 180 L1298.3 193.5" fill="none" stroke="#1c1c1c" stroke-width="2.35" stroke-linejoin="round" stroke-linecap="round"/>
<path d="M1298.3 193.5 L1375 151.4" fill="none" stroke="#1c1c1c" stroke-width="2.35" stroke-linejoin="round" stroke-linecap="round"/>
<path d="M1298.3 193.5 C1300.3 194.6 1306.6 197.9 1310.4 200.3 C1314.1 202.6 1317.1 203.8 1320.9 207.8 C1324.6 211.8 1328.2 217.3 1332.9 224.3 C1337.7 231.4 1345 242.6 1349.5 249.9 C1354 257.2 1357.2 264.7 1360 268 C1362.8 271.3 1365 269.5 1366 269.8" fill="none" stroke="#1c1c1c" stroke-width="2.35" stroke-linejoin="round" stroke-linecap="round"/>
<path d="M1366 269.8 L1445.8 224.6" fill="none" stroke="#1c1c1c" stroke-width="2.35" stroke-linejoin="round" stroke-linecap="round"/>
<path d="M1220.1 184.5 L1278.8 153.6 L1308.9 162.7 L1345 142.3" fill="none" stroke="#1c1c1c" stroke-width="1.1" stroke-linejoin="round" stroke-linecap="round"/>
<path d="M1320.9 206.3 L1391.6 166.4" fill="none" stroke="#1c1c1c" stroke-width="1.1" stroke-linejoin="round" stroke-linecap="round"/>
<path d="M1203.5 189.7 C1203.2 190.7 1201.2 193 1201.3 195.8 C1201.4 198.5 1203.8 204.5 1204.3 206.3 L1204.3 206.3 C1203.4 211.3 1200.8 228.5 1199 236.4 C1197.3 244.3 1195.3 250.3 1193.8 253.7 C1192.3 257.1 1190.6 256.2 1190 256.7 " fill="none" stroke="#1c1c1c" stroke-width="2.35" stroke-linejoin="round" stroke-linecap="round"/>
<ellipse cx="1217.8" cy="202.5" rx="8.3" ry="11.3" fill="none" stroke="#1c1c1c" stroke-width="1.8" transform="rotate(-22 1217.8 202.5)"/>
<ellipse cx="1200.5" cy="268" rx="4.5" ry="6.8" fill="none" stroke="#1c1c1c" stroke-width="1.6" transform="rotate(-22 1200.5 268)"/>
<path d="M1209.6 185.2 C1212.1 185.7 1217.8 186.1 1224.6 188.2 C1231.4 190.4 1241.9 194.8 1250.2 198 C1258.5 201.3 1266.7 204.4 1274.2 207.8 C1281.8 211.2 1289.8 215.3 1295.3 218.3 C1300.8 221.3 1305.3 224.6 1307.3 225.8" fill="none" stroke="#1c1c1c" stroke-width="2.35" stroke-linejoin="round" stroke-linecap="round"/>
<path d="M1307.3 225.8 C1308.6 227.8 1312.4 233.1 1314.9 237.9 C1317.4 242.6 1319.6 248.4 1322.4 254.4 C1325.1 260.4 1328.4 268.7 1331.4 274 C1334.4 279.2 1337.9 283.6 1340.4 286 C1343 288.4 1345.5 287.9 1346.5 288.3" fill="none" stroke="#1c1c1c" stroke-width="2.35" stroke-linejoin="round" stroke-linecap="round"/>
<path d="M1232.1 196.5 C1233.4 196.9 1232.6 195.6 1239.6 198.8 C1246.7 201.9 1266 211.4 1274.2 215.3 C1282.5 219.2 1286.8 221 1289.3 222.1" fill="none" stroke="#1c1c1c" stroke-width="2.35" stroke-linejoin="round" stroke-linecap="round"/>
<path d="M1289.3 222.1 C1290 223.5 1292.3 227.7 1293.8 230.4 C1295.3 233 1297.6 236.6 1298.3 237.9 L1298.3 237.9 C1300.3 239.1 1307.6 243.4 1310.4 245.4 C1313.1 247.4 1314.4 247.7 1314.9 249.9 C1315.4 252.2 1313.6 257.4 1313.4 258.9 L1313.4 258.9 C1310.4 257.4 1301.1 252.7 1295.3 249.9 C1289.5 247.2 1281.5 243.6 1278.8 242.4 " fill="none" stroke="#1c1c1c" stroke-width="2.35" stroke-linejoin="round" stroke-linecap="round"/>
<ellipse cx="1301.3" cy="231.9" rx="3.6" ry="5.1" fill="none" stroke="#1c1c1c" stroke-width="1.4" transform="rotate(-25 1301.3 231.9)"/>
<path d="M1229.9 200.3 L1229.9 213.8 L1210.3 223.6 L1217.1 222.1 L1226.1 220.6 L1254.7 206.3" fill="none" stroke="#1c1c1c" stroke-width="2.35" stroke-linejoin="round" stroke-linecap="round"/>
<path d="M1254.7 206.3 L1271.2 213.8" fill="none" stroke="#1c1c1c" stroke-width="2.35" stroke-linejoin="round" stroke-linecap="round"/>
<path d="M1205.8 254.4 L1239.6 234.9" fill="none" stroke="#1c1c1c" stroke-width="1.1" stroke-linejoin="round" stroke-linecap="round"/>
<path d="M1209.6 286 L1250.2 266.5" fill="none" stroke="#1c1c1c" stroke-width="1.1" stroke-linejoin="round" stroke-linecap="round"/>
<path d="M1239.6 234.9 C1240.4 233.1 1242.4 227.1 1244.2 224.3 C1245.9 221.6 1248.4 221.1 1250.2 218.3 C1251.9 215.6 1253.9 209.5 1254.7 207.8" fill="none" stroke="#1c1c1c" stroke-width="1.1" stroke-linejoin="round" stroke-linecap="round"/>
<ellipse cx="1265.2" cy="219.8" rx="6.6" ry="10.5" fill="none" stroke="#1c1c1c" stroke-width="1.7" transform="rotate(-22 1265.2 219.8)"/>
<ellipse cx="1256.9" cy="220.6" rx="6.6" ry="10.5" fill="none" stroke="#1c1c1c" stroke-width="1.1" transform="rotate(-22 1256.9 220.6)"/>
<path d="M1241.2 221.3 C1241.4 222.8 1241.2 228.1 1242.7 230.4 C1244.2 232.6 1246.9 234.1 1250.2 234.9 C1253.4 235.6 1258.7 235.6 1262.2 234.9 C1265.7 234.1 1269.7 231.1 1271.2 230.4" fill="none" stroke="#1c1c1c" stroke-width="1.1" stroke-linejoin="round" stroke-linecap="round"/>
<path d="M1250.2 248.4 C1250.7 247.4 1250.7 244.6 1253.2 242.4 C1255.7 240.1 1261 234.9 1265.2 234.9 C1269.5 234.9 1276.5 241.1 1278.8 242.4" fill="none" stroke="#1c1c1c" stroke-width="2.35" stroke-linejoin="round" stroke-linecap="round"/>
<path d="M1304.3 225.8 L1320.9 215.3" fill="none" stroke="#1c1c1c" stroke-width="1.1" stroke-linejoin="round" stroke-linecap="round"/>
<path d="M1310.4 234.9 L1343.5 287.5" fill="none" stroke="#1c1c1c" stroke-width="1.1" stroke-linejoin="round" stroke-linecap="round"/>
<path d="M1307.3 245.4 L1325.4 278.5" fill="none" stroke="#1c1c1c" stroke-width="1.1" stroke-linejoin="round" stroke-linecap="round"/>
<path d="M1190 256.7 C1191 256.3 1193.5 254.2 1196 254.4 C1198.5 254.7 1203.5 257.6 1205 258.2 L1205 258.2 L1209.6 274 L1209.6 274 C1208.6 275.5 1204.8 280.3 1203.5 283 C1202.3 285.8 1202.3 289.3 1202 290.5 L1202 290.5 C1203.3 291.8 1207.1 296 1209.6 298.1 C1212.1 300.1 1214.8 302.1 1217.1 302.9 C1219.3 303.6 1222.1 302.6 1223.1 302.6 L1223.1 302.6 L1229.1 298.1 " fill="none" stroke="#1c1c1c" stroke-width="2.35" stroke-linejoin="round" stroke-linecap="round"/>
<path d="M1229.1 298.1 L1287.8 266.5" fill="none" stroke="#1c1c1c" stroke-width="2.35" stroke-linejoin="round" stroke-linecap="round"/>
<path d="M1227.6 271 L1223.1 299.6" fill="none" stroke="#1c1c1c" stroke-width="2.35" stroke-linejoin="round" stroke-linecap="round"/>
<path d="M1250.2 266.5 L1253.2 260.4 L1262.2 260.4" fill="none" stroke="#1c1c1c" stroke-width="2.35" stroke-linejoin="round" stroke-linecap="round"/>
<path d="M1281.8 254.4 C1282.5 256.9 1283.5 264.5 1286.3 269.5 C1289 274.5 1293.6 280.5 1298.3 284.5 C1303.1 288.5 1309.9 292 1314.9 293.5 C1319.9 295 1324.9 294.5 1328.4 293.5 C1331.9 292.5 1334.7 288.5 1335.9 287.5" fill="none" stroke="#1c1c1c" stroke-width="2.35" stroke-linejoin="round" stroke-linecap="round"/>
<ellipse cx="1286.3" cy="258.9" rx="4.2" ry="8.7" fill="none" stroke="#1c1c1c" stroke-width="1.1" transform="rotate(-20 1286.3 258.9)"/>
<path d="M1287.8 249.9 C1289 253.2 1291.8 264 1295.3 269.5 C1298.8 275 1304.3 280 1308.9 283 C1313.4 286 1320.1 286.8 1322.4 287.5" fill="none" stroke="#1c1c1c" stroke-width="1.1" stroke-linejoin="round" stroke-linecap="round"/>
<path d="M1346.5 288.3 L1360 284.5" fill="none" stroke="#1c1c1c" stroke-width="1.7" stroke-linejoin="round" stroke-linecap="round"/>
<path d="M1360 284.5 L1445.8 234.9" fill="none" stroke="#1c1c1c" stroke-width="1.7" stroke-linejoin="round" stroke-linecap="round"/>
<path d="M1406.6 263.5 C1407.4 263 1408.6 261.3 1411.2 260.4 C1413.7 259.6 1418.7 257.9 1421.7 258.2 C1424.7 258.4 1428 261.3 1429.2 261.9" fill="none" stroke="#1c1c1c" stroke-width="2.35" stroke-linejoin="round" stroke-linecap="round"/>
<path d="M1406.6 263.5 L1412.7 298.1" fill="none" stroke="#1c1c1c" stroke-width="2.35" stroke-linejoin="round" stroke-linecap="round"/>
<path d="M1429.2 261.9 L1436.7 311" fill="none" stroke="#1c1c1c" stroke-width="2.35" stroke-linejoin="round" stroke-linecap="round"/>
<path d="M1411.2 266.5 L1415.7 296.6" fill="none" stroke="#1c1c1c" stroke-width="2.35" stroke-linejoin="round" stroke-linecap="round"/>
<path d="M1429.2 261.9 C1430.7 260.7 1434.2 256.1 1438.2 254.4 C1442.2 252.8 1450.8 252.5 1453.3 252.2" fill="none" stroke="#1c1c1c" stroke-width="2.35" stroke-linejoin="round" stroke-linecap="round"/>
<path d="M1439.7 250.7 C1441.2 250.3 1440.4 249.4 1448.8 248.4 C1457.1 247.4 1483.1 245.3 1490 244.6" fill="none" stroke="#1c1c1c" stroke-width="1.7" stroke-linejoin="round" stroke-linecap="round"/>
<path d="M1430.7 275.5 L1490 261.9" fill="none" stroke="#1c1c1c" stroke-width="1.1" stroke-linejoin="round" stroke-linecap="round"/>
<path d="M1432.2 260.4 L1445.8 265 L1451.8 260.4 L1448.8 254.4" fill="none" stroke="#1c1c1c" stroke-width="1.1" stroke-linejoin="round" stroke-linecap="round"/>
<path d="M1201.4 285.6 C1199.1 287.6 1191 293.5 1187.6 298.1 C1184.3 302.7 1182.5 307.7 1181.3 313.1 C1180.2 318.6 1179.5 324.4 1180.6 330.7 C1181.6 337 1184.4 344.9 1187.6 350.8 C1190.9 356.6 1195.3 361.8 1200.2 365.8 C1205 369.8 1212.7 371.2 1216.4 374.6 C1220.2 377.9 1221.7 384 1222.7 385.9" fill="none" stroke="#1c1c1c" stroke-width="2.35" stroke-linejoin="round" stroke-linecap="round"/>
<ellipse cx="1203.9" cy="326.9" rx="15" ry="20.1" fill="none" stroke="#1c1c1c" stroke-width="2.35" transform="rotate(-20 1203.9 326.9)"/>
<path d="M1193.9 315.6 C1194.1 318.6 1193.3 328.4 1195.1 333.2 C1197 338 1203.5 342.6 1205.2 344.5" fill="none" stroke="#1c1c1c" stroke-width="1.1" stroke-linejoin="round" stroke-linecap="round"/>
<path d="M1221.5 320.7 L1280.4 285.6" fill="none" stroke="#1c1c1c" stroke-width="1.1" stroke-linejoin="round" stroke-linecap="round"/>
<path d="M1225.2 340.7 L1285.4 305.6" fill="none" stroke="#1c1c1c" stroke-width="1.1" stroke-linejoin="round" stroke-linecap="round"/>
<path d="M1224 358.3 L1275.4 329.4" fill="none" stroke="#1c1c1c" stroke-width="1.1" stroke-linejoin="round" stroke-linecap="round"/>
<path d="M1280.4 285.6 C1281.2 288.1 1285 295.2 1285.4 300.6 C1285.8 306 1282.1 312.7 1282.9 318.2 C1283.7 323.6 1289.2 330.7 1290.4 333.2" fill="none" stroke="#1c1c1c" stroke-width="1.1" stroke-linejoin="round" stroke-linecap="round"/>
<path d="M1222.7 385.9 C1224.4 386.3 1230 386.3 1232.7 388.4 C1235.5 390.5 1238.6 395.1 1239 398.4 C1239.4 401.7 1235.9 406.8 1235.3 408.4" fill="none" stroke="#1c1c1c" stroke-width="2.35" stroke-linejoin="round" stroke-linecap="round"/>
<path d="M1490 243.9 C1494.5 245.1 1510.3 249.5 1517.1 251.4 C1523.8 253.3 1528.4 254.6 1530.6 255.2 L1530.6 255.2 C1532.6 255.1 1538.6 255.4 1542.7 254.4 C1546.7 253.4 1549.4 250.8 1554.7 249.2 C1560 247.5 1567.5 245.5 1574.2 244.6 C1581 243.8 1591.8 244 1595.3 243.9 L1595.3 243.9 C1596.8 244.8 1600.8 247.5 1604.3 249.2 C1607.8 250.8 1613.1 251.5 1616.4 253.7 C1619.6 255.8 1622.6 260.6 1623.9 261.9 L1623.9 261.9 C1624.1 263.2 1623.9 267.5 1625.4 269.5 C1626.9 271.5 1631.2 272.2 1632.9 274 C1634.7 275.7 1635.4 279 1635.9 280 L1635.9 280 L1640.4 285.3 L1640.4 285.3 C1643 284.3 1651.7 279.9 1655.5 279.2 C1659.2 278.6 1660.5 279.9 1663 281.5 C1665.5 283.1 1668.8 285.8 1670.5 289 C1672.3 292.3 1673.2 297.4 1673.5 301.1 C1673.9 304.7 1672.9 309.3 1672.8 311 " fill="none" stroke="#1c1c1c" stroke-width="2.35" stroke-linejoin="round" stroke-linecap="round"/>
<ellipse cx="1605.8" cy="265" rx="12.3" ry="9.3" fill="none" stroke="#1c1c1c" stroke-width="2.35"/>
<path d="M1583.3 266.5 C1583.8 264.7 1583.8 258.9 1586.3 255.9 C1588.8 252.9 1594.3 249.4 1598.3 248.4 C1602.3 247.4 1608.3 249.7 1610.4 249.9" fill="none" stroke="#1c1c1c" stroke-width="1.1" stroke-linejoin="round" stroke-linecap="round"/>
<path d="M1580.3 274 C1582.8 275.2 1590.3 280 1595.3 281.5 C1600.3 283 1606.1 283.3 1610.4 283 C1614.6 282.8 1619.1 280.5 1620.9 280" fill="none" stroke="#1c1c1c" stroke-width="1.1" stroke-linejoin="round" stroke-linecap="round"/>
<path d="M1490 251.4 C1493.8 252.3 1506 255.2 1512.6 256.7 C1519.1 258.2 1526.4 259.8 1529.1 260.4 L1529.1 260.4 C1529.5 259.9 1531.6 258.4 1531.4 257.4 C1531.1 256.4 1528.2 254.9 1527.6 254.4 " fill="none" stroke="#1c1c1c" stroke-width="2.35" stroke-linejoin="round" stroke-linecap="round"/>
<path d="M1490 258.2 C1492.5 258.8 1500 261.1 1505 261.9 C1510.1 262.8 1516.3 263.7 1520.1 263.5 C1523.8 263.2 1526.4 260.9 1527.6 260.4" fill="none" stroke="#1c1c1c" stroke-width="1.7" stroke-linejoin="round" stroke-linecap="round"/>
<path d="M1517.1 268 C1516.6 267.7 1514.8 266.3 1514.1 266.5 C1513.3 266.6 1512.3 268.1 1512.6 268.7 C1512.8 269.3 1514.8 270.3 1515.6 270.2 C1516.3 270.1 1516.8 268.3 1517.1 268" fill="none" stroke="#1c1c1c" stroke-width="1.1" stroke-linejoin="round" stroke-linecap="round"/>
<path d="M1490 278.5 C1493 278.7 1502.3 280.5 1508.1 280 C1513.8 279.5 1520.6 275.7 1524.6 275.5 C1528.6 275.2 1530.6 278.7 1532.1 278.5 C1533.6 278.2 1533.4 274.7 1533.6 274" fill="none" stroke="#1c1c1c" stroke-width="1.7" stroke-linejoin="round" stroke-linecap="round"/>
<path d="M1533.6 257.4 L1539.6 263.5 L1553.2 261.9 L1556.2 258.9 L1557.7 269.5 L1553.2 275.5 L1544.2 280 L1557.7 285.3 L1568.2 277 L1586.3 287.5" fill="none" stroke="#1c1c1c" stroke-width="1.7" stroke-linejoin="round" stroke-linecap="round"/>
<path d="M1535.1 260.4 L1541.2 269.5 L1550.2 271" fill="none" stroke="#1c1c1c" stroke-width="1.1" stroke-linejoin="round" stroke-linecap="round"/>
<path d="M1557.7 271 L1568.2 268 L1574.2 275.5" fill="none" stroke="#1c1c1c" stroke-width="1.1" stroke-linejoin="round" stroke-linecap="round"/>
<path d="M1568.2 277 L1595.3 293.5" fill="none" stroke="#1c1c1c" stroke-width="1.1" stroke-linejoin="round" stroke-linecap="round"/>
<path d="M1597.6 291.3 L1562.2 311" fill="none" stroke="#1c1c1c" stroke-width="1.1" stroke-linejoin="round" stroke-linecap="round"/>
<path d="M1593.8 292.8 L1556.2 311" fill="none" stroke="#1c1c1c" stroke-width="1.1" stroke-linejoin="round" stroke-linecap="round"/>
<path d="M1640.4 285.3 L1593.8 311" fill="none" stroke="#1c1c1c" stroke-width="2.35" stroke-linejoin="round" stroke-linecap="round"/>
<path d="M1574.2 254.4 C1576.3 253.4 1582.8 249.9 1586.3 248.4 C1589.8 246.9 1593.8 245.9 1595.3 245.4" fill="none" stroke="#1c1c1c" stroke-width="1.1" stroke-linejoin="round" stroke-linecap="round"/>
<path d="M1490 304.1 L1535.1 280" fill="none" stroke="#1c1c1c" stroke-width="1.1" stroke-linejoin="round" stroke-linecap="round"/>
<path d="M1230.6 404.3 C1231.6 405.3 1234.6 407.3 1236.6 410.3 C1238.6 413.3 1240.4 417.1 1242.7 422.3 C1244.9 427.6 1248.7 435.4 1250.2 441.9 C1251.7 448.4 1251.4 458.2 1251.7 461.4" fill="none" stroke="#1c1c1c" stroke-width="2.35" stroke-linejoin="round" stroke-linecap="round"/>
<path d="M1251.7 461.4 L1251.7 512" fill="none" stroke="#1c1c1c" stroke-width="2.35" stroke-linejoin="round" stroke-linecap="round"/>
<path d="M1235.1 399.8 C1236.1 399 1240.4 397 1241.2 395.2 C1241.9 393.5 1239.9 390.2 1239.6 389.2" fill="none" stroke="#1c1c1c" stroke-width="1.7" stroke-linejoin="round" stroke-linecap="round"/>
<path d="M1220.1 353.1 L1277.3 321.5" fill="none" stroke="#1c1c1c" stroke-width="1.1" stroke-linejoin="round" stroke-linecap="round"/>
<path d="M1223.1 360.6 L1278.8 329.1" fill="none" stroke="#1c1c1c" stroke-width="1.1" stroke-linejoin="round" stroke-linecap="round"/>
<path d="M1244.2 399.8 L1304.3 371.2" fill="none" stroke="#1c1c1c" stroke-width="1.1" stroke-linejoin="round" stroke-linecap="round"/>
<path d="M1247.2 413.3 L1305.8 383.2" fill="none" stroke="#1c1c1c" stroke-width="1.1" stroke-linejoin="round" stroke-linecap="round"/>
<path d="M1278.8 321.5 C1279.5 322.8 1281 325.8 1283.3 329.1 C1285.5 332.3 1289.3 337.1 1292.3 341.1 C1295.3 345.1 1299.3 348.1 1301.3 353.1 C1303.3 358.1 1303.3 365.7 1304.3 371.2 C1305.3 376.7 1304.8 380.2 1307.3 386.2 C1309.9 392.2 1315.9 402.3 1319.4 407.3 C1322.9 412.3 1326.9 414.8 1328.4 416.3" fill="none" stroke="#1c1c1c" stroke-width="1.1" stroke-linejoin="round" stroke-linecap="round"/>
<path d="M1281.8 320 C1282.8 321.8 1285 326.5 1287.8 330.6 C1290.5 334.6 1295.6 339.8 1298.3 344.1 C1301.1 348.4 1302.8 351.6 1304.3 356.1 C1305.8 360.6 1306.3 366.4 1307.3 371.2 C1308.3 375.9 1307.8 379.2 1310.4 384.7 C1312.9 390.2 1318.9 399.3 1322.4 404.3 C1325.9 409.3 1329.9 413.1 1331.4 414.8" fill="none" stroke="#1c1c1c" stroke-width="1.1" stroke-linejoin="round" stroke-linecap="round"/>
<path d="M1299.8 311 C1301.1 314.8 1304.1 326.5 1307.3 333.6 C1310.6 340.6 1314.9 347.6 1319.4 353.1 C1323.9 358.6 1330.4 364.2 1334.4 366.7 C1338.4 369.2 1341.9 367.9 1343.5 368.2" fill="none" stroke="#1c1c1c" stroke-width="2.35" stroke-linejoin="round" stroke-linecap="round"/>
<path d="M1304.3 311 C1305.6 314.8 1308.9 326.9 1311.9 333.6 C1314.9 340.2 1318.4 346 1322.4 350.9 C1326.4 355.8 1333.7 360.9 1335.9 362.9" fill="none" stroke="#1c1c1c" stroke-width="1.1" stroke-linejoin="round" stroke-linecap="round"/>
<path d="M1363 365.2 C1364.3 363.7 1368.5 360.1 1370.5 356.1 C1372.5 352.1 1375 346.1 1375 341.1 C1375 336.1 1371.8 331.1 1370.5 326 C1369.3 321 1368 313.5 1367.5 311" fill="none" stroke="#1c1c1c" stroke-width="1.7" stroke-linejoin="round" stroke-linecap="round"/>
<path d="M1367.5 363.7 C1368.8 362.2 1373.3 358.4 1375 354.6 C1376.8 350.9 1378.2 345.9 1378.1 341.1 C1377.9 336.3 1375.4 331.1 1374.3 326 C1373.2 321 1371.8 313.5 1371.3 311" fill="none" stroke="#1c1c1c" stroke-width="1.1" stroke-linejoin="round" stroke-linecap="round"/>
<ellipse cx="1359.2" cy="379.5" rx="4.1" ry="6" fill="none" stroke="#1c1c1c" stroke-width="1.5" transform="rotate(-20 1359.2 379.5)"/>
<path d="M1343.5 369.7 C1344.5 369.9 1347.2 371.3 1349.5 371.2 C1351.7 371.1 1354.5 369.2 1357 368.9 C1359.5 368.7 1362.3 368.3 1364.5 369.7 C1366.8 371.1 1369.3 373.9 1370.5 377.2 C1371.8 380.5 1372.8 385.7 1372 389.2 C1371.3 392.7 1368.5 396.5 1366 398.3 C1363.5 400 1359.8 400.8 1357 399.8 C1354.2 398.8 1350.7 393.5 1349.5 392.2" fill="none" stroke="#1c1c1c" stroke-width="2.35" stroke-linejoin="round" stroke-linecap="round"/>
<path d="M1332.9 374.2 C1333.7 375.2 1335.9 379.5 1337.4 380.2 C1338.9 381 1340.9 380.2 1341.9 378.7 C1343 377.2 1343.2 372.4 1343.5 371.2" fill="none" stroke="#1c1c1c" stroke-width="2.35" stroke-linejoin="round" stroke-linecap="round"/>
<ellipse cx="1360" cy="316.3" rx="4.5" ry="6.3" fill="none" stroke="#1c1c1c" stroke-width="1.5" transform="rotate(-20 1360 316.3)"/>
<path d="M1349.5 317 C1350.2 318.3 1351.7 322.8 1354 324.5 C1356.2 326.3 1360.5 326.5 1363 327.5 C1365.5 328.6 1368 330.1 1369 330.6" fill="none" stroke="#1c1c1c" stroke-width="2.35" stroke-linejoin="round" stroke-linecap="round"/>
<path d="M1340.4 311 C1341.4 312.5 1344.5 317.3 1346.5 320 C1348.5 322.8 1351.5 326.3 1352.5 327.5" fill="none" stroke="#1c1c1c" stroke-width="1.1" stroke-linejoin="round" stroke-linecap="round"/>
<path d="M1369 327.5 L1406.6 320" fill="none" stroke="#1c1c1c" stroke-width="2.35" stroke-linejoin="round" stroke-linecap="round"/>
<path d="M1373.5 330.6 L1409.6 321.8" fill="none" stroke="#1c1c1c" stroke-width="2.35" stroke-linejoin="round" stroke-linecap="round"/>
<path d="M1406.6 320 C1408.1 321.5 1413.7 325 1415.7 329.1 C1417.7 333.1 1419.2 339.6 1418.7 344.1 C1418.2 348.6 1415.7 353.4 1412.7 356.1 C1409.6 358.9 1404.4 360.6 1400.6 360.6 C1396.9 360.6 1393.3 358.9 1390.1 356.1 C1386.8 353.4 1382.6 346.1 1381.1 344.1" fill="none" stroke="#1c1c1c" stroke-width="2.35" stroke-linejoin="round" stroke-linecap="round"/>
<path d="M1400.6 360.6 C1401.6 361.9 1404.4 367.4 1406.6 368.2 C1408.9 368.9 1412.9 365.7 1414.2 365.2" fill="none" stroke="#1c1c1c" stroke-width="1.1" stroke-linejoin="round" stroke-linecap="round"/>
<path d="M1421.7 326 C1422.7 327.3 1427.2 330.8 1427.7 333.6 C1428.2 336.3 1425.2 341.1 1424.7 342.6" fill="none" stroke="#1c1c1c" stroke-width="1.1" stroke-linejoin="round" stroke-linecap="round"/>
<path d="M1337.4 406.5 L1367.5 406.5" fill="none" stroke="#1c1c1c" stroke-width="2.35" stroke-linejoin="round" stroke-linecap="round"/>
<path d="M1367.5 406.5 C1369 407.9 1374.5 412.4 1376.6 414.8 C1378.6 417.2 1378.1 418.6 1379.6 420.8 C1381.1 423.1 1384.6 427.1 1385.6 428.3" fill="none" stroke="#1c1c1c" stroke-width="2.35" stroke-linejoin="round" stroke-linecap="round"/>
<path d="M1304.3 437.4 L1355.5 467.5" fill="none" stroke="#1c1c1c" stroke-width="1.1" stroke-linejoin="round" stroke-linecap="round"/>
<path d="M1334.4 416.3 L1355.5 407.3" fill="none" stroke="#1c1c1c" stroke-width="1.1" stroke-linejoin="round" stroke-linecap="round"/>
<path d="M1338.9 414.8 L1354 409.5" fill="none" stroke="#1c1c1c" stroke-width="1.1" stroke-linejoin="round" stroke-linecap="round"/>
<path d="M1337.4 419.3 L1355.5 410.3" fill="none" stroke="#1c1c1c" stroke-width="1.1" stroke-linejoin="round" stroke-linecap="round"/>
<path d="M1351 463.7 C1351.4 464.8 1352.1 468.8 1353.2 470.5 C1354.4 472.1 1356.6 473.7 1357.7 473.5 C1358.9 473.2 1359.6 469.7 1360 469" fill="none" stroke="#1c1c1c" stroke-width="1.7" stroke-linejoin="round" stroke-linecap="round"/>
<ellipse cx="1396.1" cy="435.9" rx="9.3" ry="13.5" fill="none" stroke="#1c1c1c" stroke-width="2.35" transform="rotate(-20 1396.1 435.9)"/>
<ellipse cx="1396.9" cy="436.6" rx="5.7" ry="8.7" fill="none" stroke="#1c1c1c" stroke-width="1.6" transform="rotate(-20 1396.9 436.6)"/>
<ellipse cx="1396.4" cy="436.2" rx="7.5" ry="11.1" fill="none" stroke="#1c1c1c" stroke-width="1.1" transform="rotate(-20 1396.4 436.2)"/>
<path d="M1384.1 449.4 C1383.6 450.4 1380.8 453.7 1381.1 455.4 C1381.3 457.2 1384.1 459.9 1385.6 459.9 C1387.1 459.9 1389.3 456.2 1390.1 455.4" fill="none" stroke="#1c1c1c" stroke-width="2.35" stroke-linejoin="round" stroke-linecap="round"/>
<ellipse cx="1421.7" cy="453.9" rx="3" ry="4.5" fill="none" stroke="#1c1c1c" stroke-width="2.2" transform="rotate(-20 1421.7 453.9)"/>
<path d="M1379.6 443.4 C1379.1 442.6 1376 440.9 1376.6 438.9 C1377.1 436.9 1380.6 433.1 1382.6 431.4 C1384.6 429.6 1387.6 428.8 1388.6 428.3" fill="none" stroke="#1c1c1c" stroke-width="2.35" stroke-linejoin="round" stroke-linecap="round"/>
<path d="M1354 462.9 L1385.6 444.9" fill="none" stroke="#1c1c1c" stroke-width="2.35" stroke-linejoin="round" stroke-linecap="round"/>
<path d="M1360 472.7 L1390.1 455.4" fill="none" stroke="#1c1c1c" stroke-width="2.35" stroke-linejoin="round" stroke-linecap="round"/>
<path d="M1400.6 413.3 L1388.6 420.8" fill="none" stroke="#1c1c1c" stroke-width="2.35" stroke-linejoin="round" stroke-linecap="round"/>
<path d="M1403.6 408.8 C1404.4 408.5 1406.4 407 1408.1 407.3 C1409.9 407.5 1413.2 409.8 1414.2 410.3" fill="none" stroke="#1c1c1c" stroke-width="1.1" stroke-linejoin="round" stroke-linecap="round"/>
<path d="M1256.2 444.9 C1256.9 444.4 1259 441.6 1260.7 441.9 C1262.5 442.1 1265.5 444.4 1266.7 446.4 C1268 448.4 1268 452.7 1268.2 453.9 L1268.2 453.9 C1267.2 454.9 1263.5 457.2 1262.2 459.9 C1261 462.7 1261 468.7 1260.7 470.5 " fill="none" stroke="#1c1c1c" stroke-width="2.35" stroke-linejoin="round" stroke-linecap="round"/>
<path d="M1260.7 470.5 L1310.4 445.6" fill="none" stroke="#1c1c1c" stroke-width="2.35" stroke-linejoin="round" stroke-linecap="round"/>
<path d="M1280.3 446.4 L1307.3 432.9" fill="none" stroke="#1c1c1c" stroke-width="2.35" stroke-linejoin="round" stroke-linecap="round"/>
<path d="M1280.3 446.4 L1286.3 443.4 L1290.8 446.4" fill="none" stroke="#1c1c1c" stroke-width="2.35" stroke-linejoin="round" stroke-linecap="round"/>
<ellipse cx="1260" cy="450.2" rx="3" ry="4.5" fill="none" stroke="#1c1c1c" stroke-width="1.4" transform="rotate(-20 1260 450.2)"/>
<path d="M1257.7 473.5 L1256.2 512" fill="none" stroke="#1c1c1c" stroke-width="2.35" stroke-linejoin="round" stroke-linecap="round"/>
<path d="M1280.3 482.5 L1317.9 461.4" fill="none" stroke="#1c1c1c" stroke-width="1.1" stroke-linejoin="round" stroke-linecap="round"/>
<path d="M1281.8 487 L1320.9 466" fill="none" stroke="#1c1c1c" stroke-width="1.1" stroke-linejoin="round" stroke-linecap="round"/>
<path d="M1277.3 484 C1277.8 485.3 1278.8 488.8 1280.3 491.5 C1281.8 494.3 1284.8 497.1 1286.3 500.6 C1287.8 504 1288.8 510.1 1289.3 512" fill="none" stroke="#1c1c1c" stroke-width="1.1" stroke-linejoin="round" stroke-linecap="round"/>
<ellipse cx="1260.7" cy="508.1" rx="3.6" ry="5.1" fill="none" stroke="#1c1c1c" stroke-width="1.4" transform="rotate(-20 1260.7 508.1)"/>
<ellipse cx="1380.3" cy="503.6" rx="8.3" ry="11.3" fill="none" stroke="#1c1c1c" stroke-width="2.35" transform="rotate(-20 1380.3 503.6)"/>
<ellipse cx="1380.8" cy="503.9" rx="3.3" ry="4.8" fill="none" stroke="#1c1c1c" stroke-width="1.1" transform="rotate(-20 1380.8 503.9)"/>
<path d="M1375 493 L1445.8 461.4" fill="none" stroke="#1c1c1c" stroke-width="2.35" stroke-linejoin="round" stroke-linecap="round"/>
<path d="M1388.6 512 L1457.8 475" fill="none" stroke="#1c1c1c" stroke-width="2.35" stroke-linejoin="round" stroke-linecap="round"/>
<path d="M1367.5 475 L1385.6 484" fill="none" stroke="#1c1c1c" stroke-width="1.7" stroke-linejoin="round" stroke-linecap="round"/>
<path d="M1399.1 459.9 L1415.7 467.5" fill="none" stroke="#1c1c1c" stroke-width="1.7" stroke-linejoin="round" stroke-linecap="round"/>
<path d="M1430.7 359.1 C1430 362.4 1426.4 371.7 1426.2 378.7 C1425.9 385.7 1427.5 394.5 1429.2 401.3 C1431 408 1434 414.3 1436.7 419.3 C1439.5 424.3 1444.3 429.3 1445.8 431.4" fill="none" stroke="#1c1c1c" stroke-width="2.35" stroke-linejoin="round" stroke-linecap="round"/>
<path d="M1435.2 356.1 C1434.5 359.9 1431 371.4 1430.7 378.7 C1430.5 386 1432 393.2 1433.7 399.8 C1435.5 406.3 1440 414.8 1441.2 417.8" fill="none" stroke="#1c1c1c" stroke-width="1.1" stroke-linejoin="round" stroke-linecap="round"/>
<path d="M1490 368.2 C1487.1 369.2 1477.9 371.2 1472.8 374.2 C1467.7 377.2 1462.8 381.2 1459.3 386.2 C1455.8 391.2 1453.3 397.8 1451.8 404.3 C1450.3 410.8 1449.8 418.3 1450.3 425.3 C1450.8 432.4 1452.3 439.6 1454.8 446.4 C1457.3 453.2 1463.6 462.7 1465.3 466" fill="none" stroke="#1c1c1c" stroke-width="2.35" stroke-linejoin="round" stroke-linecap="round"/>
<path d="M1490 374.2 C1487.6 375.2 1480.2 377.2 1475.8 380.2 C1471.5 383.2 1466.8 387.7 1463.8 392.2 C1460.8 396.8 1458.9 401.8 1457.8 407.3 C1456.7 412.8 1456.5 419.3 1457 425.3 C1457.5 431.4 1460.2 440.4 1460.8 443.4" fill="none" stroke="#1c1c1c" stroke-width="1.1" stroke-linejoin="round" stroke-linecap="round"/>
<path d="M1490 383.2 C1488.4 385.2 1482.7 389.7 1480.4 395.2 C1478 400.8 1476.1 409 1475.8 416.3 C1475.6 423.6 1476.5 432.4 1478.9 438.9 C1481.2 445.4 1488.1 452.7 1490 455.4" fill="none" stroke="#1c1c1c" stroke-width="2.35" stroke-linejoin="round" stroke-linecap="round"/>
<path d="M1415.7 377.2 L1430.7 404.3" fill="none" stroke="#1c1c1c" stroke-width="2.35" stroke-linejoin="round" stroke-linecap="round"/>
<path d="M1421.7 365.2 L1433.7 389.2" fill="none" stroke="#1c1c1c" stroke-width="2.35" stroke-linejoin="round" stroke-linecap="round"/>
<path d="M1436.7 389.2 L1445.8 416.3" fill="none" stroke="#1c1c1c" stroke-width="2.35" stroke-linejoin="round" stroke-linecap="round"/>
<path d="M1439.7 374.2 L1448.8 395.2" fill="none" stroke="#1c1c1c" stroke-width="2.35" stroke-linejoin="round" stroke-linecap="round"/>
<path d="M1444.3 360.6 L1447.3 374.2" fill="none" stroke="#1c1c1c" stroke-width="2.35" stroke-linejoin="round" stroke-linecap="round"/>
<ellipse cx="1418.7" cy="398.3" rx="7.8" ry="14.3" fill="none" stroke="#1c1c1c" stroke-width="1.8" transform="rotate(-18 1418.7 398.3)"/>
<ellipse cx="1419.4" cy="399" rx="5.4" ry="11.7" fill="none" stroke="#1c1c1c" stroke-width="1.1" transform="rotate(-18 1419.4 399)"/>
<path d="M1412.7 425.3 C1413.7 424.8 1415.7 422.6 1418.7 422.3 C1421.7 422.1 1428.2 422.3 1430.7 423.8 C1433.2 425.3 1433.2 430.1 1433.7 431.4" fill="none" stroke="#1c1c1c" stroke-width="1.1" stroke-linejoin="round" stroke-linecap="round"/>
<path d="M1414.2 435.9 C1415.9 436.4 1421.7 438.9 1424.7 438.9 C1427.7 438.9 1431 436.4 1432.2 435.9" fill="none" stroke="#1c1c1c" stroke-width="1.1" stroke-linejoin="round" stroke-linecap="round"/>
<path d="M1430.7 443.4 L1448.8 455.4" fill="none" stroke="#1c1c1c" stroke-width="1.7" stroke-linejoin="round" stroke-linecap="round"/>
<path d="M1438.2 441.9 L1454.8 452.4" fill="none" stroke="#1c1c1c" stroke-width="1.7" stroke-linejoin="round" stroke-linecap="round"/>
<path d="M1445.8 461.4 L1457.8 475" fill="none" stroke="#1c1c1c" stroke-width="1.7" stroke-linejoin="round" stroke-linecap="round"/>
<path d="M1421.7 488.5 C1423.2 487.8 1426.7 484.5 1430.7 484 C1434.7 483.5 1441.7 484 1445.8 485.5 C1449.8 487 1453.3 491.8 1454.8 493" fill="none" stroke="#1c1c1c" stroke-width="1.1" stroke-linejoin="round" stroke-linecap="round"/>
<path d="M1421.7 497.6 L1427.7 512" fill="none" stroke="#1c1c1c" stroke-width="2.35" stroke-linejoin="round" stroke-linecap="round"/>
<path d="M1424.7 496 L1430.7 509.6" fill="none" stroke="#1c1c1c" stroke-width="2.35" stroke-linejoin="round" stroke-linecap="round"/>
<path d="M1424.7 496 L1457.8 476.5" fill="none" stroke="#1c1c1c" stroke-width="1.1" stroke-linejoin="round" stroke-linecap="round"/>
<path d="M1451.8 339.6 C1452.3 338.8 1452.8 336.1 1454.8 335.1 C1456.8 334.1 1461 333.2 1463.8 333.6 C1466.6 333.9 1470.1 336.7 1471.3 337.3" fill="none" stroke="#1c1c1c" stroke-width="2.35" stroke-linejoin="round" stroke-linecap="round"/>
<path d="M1451.8 339.6 L1460.8 363.7" fill="none" stroke="#1c1c1c" stroke-width="2.35" stroke-linejoin="round" stroke-linecap="round"/>
<path d="M1460.8 363.7 L1490 356.1" fill="none" stroke="#1c1c1c" stroke-width="2.35" stroke-linejoin="round" stroke-linecap="round"/>
<ellipse cx="1463.1" cy="338.8" rx="7.2" ry="3" fill="none" stroke="#1c1c1c" stroke-width="1.5" transform="rotate(-10 1463.1 338.8)"/>
<path d="M1436.7 311 L1451.8 339.6" fill="none" stroke="#1c1c1c" stroke-width="2.35" stroke-linejoin="round" stroke-linecap="round"/>
<path d="M1477.3 326 L1490 324.5" fill="none" stroke="#1c1c1c" stroke-width="2.35" stroke-linejoin="round" stroke-linecap="round"/>
<path d="M1477.3 326 L1478.9 360.6" fill="none" stroke="#1c1c1c" stroke-width="2.35" stroke-linejoin="round" stroke-linecap="round"/>
<path d="M1471.3 337.3 C1471.6 338.2 1473.1 341 1472.8 342.6 C1472.6 344.2 1470.3 346.4 1469.8 347.1" fill="none" stroke="#1c1c1c" stroke-width="1.1" stroke-linejoin="round" stroke-linecap="round"/>
<path d="M1439.7 314 L1430.7 360.6" fill="none" stroke="#1c1c1c" stroke-width="1.7" stroke-linejoin="round" stroke-linecap="round"/>
<path d="M1444.3 311 L1436.7 354.6" fill="none" stroke="#1c1c1c" stroke-width="1.7" stroke-linejoin="round" stroke-linecap="round"/>
<path d="M1542.7 343.3 L1664.5 309.5" fill="none" stroke="#1c1c1c" stroke-width="2.35" stroke-linejoin="round" stroke-linecap="round"/>
<path d="M1560.7 374.2 L1648 330.6" fill="none" stroke="#1c1c1c" stroke-width="2.35" stroke-linejoin="round" stroke-linecap="round"/>
<path d="M1554.7 333.6 L1595.3 311" fill="none" stroke="#1c1c1c" stroke-width="1.1" stroke-linejoin="round" stroke-linecap="round"/>
<path d="M1568.2 360.6 L1655.5 317" fill="none" stroke="#1c1c1c" stroke-width="1.1" stroke-linejoin="round" stroke-linecap="round"/>
<path d="M1560.7 386.2 L1578.8 377.2" fill="none" stroke="#1c1c1c" stroke-width="1.1" stroke-linejoin="round" stroke-linecap="round"/>
<path d="M1565.2 390.7 L1583.3 381.7" fill="none" stroke="#1c1c1c" stroke-width="1.1" stroke-linejoin="round" stroke-linecap="round"/>
<ellipse cx="1554.7" cy="358.4" rx="7.8" ry="11.7" fill="none" stroke="#1c1c1c" stroke-width="2.35" transform="rotate(-25 1554.7 358.4)"/>
<path d="M1547.2 356.1 C1547.7 357.6 1548.4 363 1550.2 365.2 C1551.9 367.3 1556.4 368.3 1557.7 368.9" fill="none" stroke="#1c1c1c" stroke-width="1.1" stroke-linejoin="round" stroke-linecap="round"/>
<ellipse cx="1525.4" cy="324.8" rx="10.5" ry="3.6" fill="none" stroke="#1c1c1c" stroke-width="1.6" transform="rotate(-15 1525.4 324.8)"/>
<ellipse cx="1525.4" cy="325.1" rx="5.4" ry="1.8" fill="none" stroke="#1c1c1c" stroke-width="1.1" transform="rotate(-15 1525.4 325.1)"/>
<path d="M1490 320 L1509.6 327.5" fill="none" stroke="#1c1c1c" stroke-width="2.35" stroke-linejoin="round" stroke-linecap="round"/>
<path d="M1490 329.1 L1497.5 340.3" fill="none" stroke="#1c1c1c" stroke-width="2.35" stroke-linejoin="round" stroke-linecap="round"/>
<path d="M1497.5 340.3 C1497.8 341.2 1497.5 342.2 1499 345.6 C1500.5 349 1502.5 356.4 1506.5 360.6 C1510.6 364.9 1520.3 369.4 1523.1 371.2 L1523.1 371.2 L1539.6 377.2 " fill="none" stroke="#1c1c1c" stroke-width="2.35" stroke-linejoin="round" stroke-linecap="round"/>
<path d="M1497.5 340.3 L1542.7 343.3" fill="none" stroke="#1c1c1c" stroke-width="2.35" stroke-linejoin="round" stroke-linecap="round"/>
<path d="M1518.6 346.4 L1535.1 348.6 L1538.1 356.1 L1526.1 369.7 L1518.6 346.4" fill="none" stroke="#1c1c1c" stroke-width="2.35" stroke-linejoin="round" stroke-linecap="round"/>
<path d="M1502 360.6 C1503.5 361.1 1508.1 360.9 1511.1 363.7 C1514.1 366.4 1517.6 373.4 1520.1 377.2 C1522.6 381 1525.1 384.7 1526.1 386.2" fill="none" stroke="#1c1c1c" stroke-width="2.35" stroke-linejoin="round" stroke-linecap="round"/>
<path d="M1522.3 390.7 C1523 390.5 1523.2 388.5 1526.1 389.2 C1529 390 1535.6 393.5 1539.6 395.2 C1543.7 397 1548.4 399 1550.2 399.8 L1550.2 399.8 L1552.4 414.8 L1552.4 414.8 C1550.3 414.6 1544.3 414.3 1539.6 413.3 C1535 412.3 1527.1 409.5 1524.6 408.8 L1524.6 408.8 C1524 407.3 1521.2 402.8 1520.8 399.8 C1520.5 396.8 1522.1 392.2 1522.3 390.7 " fill="none" stroke="#1c1c1c" stroke-width="2.35" stroke-linejoin="round" stroke-linecap="round"/>
<ellipse cx="1530.6" cy="402" rx="4.2" ry="6" fill="none" stroke="#1c1c1c" stroke-width="1.5" transform="rotate(-20 1530.6 402)"/>
<path d="M1539.6 377.2 L1553.2 389.2 L1545.7 398.3" fill="none" stroke="#1c1c1c" stroke-width="1.7" stroke-linejoin="round" stroke-linecap="round"/>
<path d="M1550.2 399.8 L1562.2 395.2" fill="none" stroke="#1c1c1c" stroke-width="1.7" stroke-linejoin="round" stroke-linecap="round"/>
<ellipse cx="1497" cy="432" rx="43" ry="63" fill="none" stroke="#1c1c1c" stroke-width="2.35" transform="rotate(-28 1497 432)"/>
<ellipse cx="1499" cy="434" rx="35" ry="54" fill="none" stroke="#1c1c1c" stroke-width="1.1" transform="rotate(-28 1499 434)"/>
<path d="M1535.1 416.3 C1536.4 418.8 1540.6 425.1 1542.7 431.4 C1544.7 437.6 1546.7 446.9 1547.2 453.9 C1547.7 460.9 1546.9 467.7 1545.7 473.5 C1544.4 479.2 1542.7 483.5 1539.6 488.5 C1536.6 493.5 1529.6 501.1 1527.6 503.6" fill="none" stroke="#1c1c1c" stroke-width="2.35" stroke-linejoin="round" stroke-linecap="round"/>
<path d="M1490 441.9 C1492.5 445.1 1500 456.2 1505 461.4 C1510.1 466.7 1515.1 470.7 1520.1 473.5 C1525.1 476.2 1532.6 477.2 1535.1 478" fill="none" stroke="#1c1c1c" stroke-width="2.35" stroke-linejoin="round" stroke-linecap="round"/>
<path d="M1490 446.4 C1492.3 449.7 1498.5 460.7 1503.5 466 C1508.6 471.2 1515.1 475.2 1520.1 478 C1525.1 480.8 1531.4 481.8 1533.6 482.5" fill="none" stroke="#1c1c1c" stroke-width="1.1" stroke-linejoin="round" stroke-linecap="round"/>
<path d="M1553.2 414.8 C1555.7 415.1 1563.7 415.1 1568.2 416.3 C1572.7 417.6 1575.8 419.3 1580.3 422.3 C1584.8 425.3 1590.3 428.8 1595.3 434.4 C1600.3 439.9 1606.3 448.4 1610.4 455.4 C1614.4 462.4 1617.4 469.2 1619.4 476.5 C1621.4 483.8 1622.1 493.1 1622.4 499.1 C1622.6 505 1621.1 509.8 1620.9 512" fill="none" stroke="#1c1c1c" stroke-width="2.35" stroke-linejoin="round" stroke-linecap="round"/>
<path d="M1556.2 419.3 C1559.2 420.3 1568.2 422.1 1574.2 425.3 C1580.3 428.6 1587.3 433.9 1592.3 438.9 C1597.3 443.9 1600.6 448.7 1604.3 455.4 C1608.1 462.2 1612.9 470.1 1614.9 479.5 C1616.9 488.9 1616.1 506.6 1616.4 512" fill="none" stroke="#1c1c1c" stroke-width="1.1" stroke-linejoin="round" stroke-linecap="round"/>
<path d="M1544.2 417.8 C1546.2 418.6 1552.2 420.1 1556.2 422.3 C1560.2 424.6 1564.5 427.3 1568.2 431.4 C1572 435.4 1576 440.9 1578.8 446.4 C1581.5 451.9 1583.5 457.9 1584.8 464.5 C1586 471 1586.8 478.7 1586.3 485.5 C1585.8 492.3 1582.5 501.8 1581.8 505.1" fill="none" stroke="#1c1c1c" stroke-width="2.35" stroke-linejoin="round" stroke-linecap="round"/>
<path d="M1550.2 422.3 C1552.2 423.6 1558.5 426.3 1562.2 429.9 C1566 433.4 1570 438.1 1572.7 443.4 C1575.5 448.7 1577.5 454.9 1578.8 461.4 C1580 468 1580.5 476 1580.3 482.5 C1580 489 1577.8 497.6 1577.3 500.6" fill="none" stroke="#1c1c1c" stroke-width="1.1" stroke-linejoin="round" stroke-linecap="round"/>
<path d="M1554.7 443.4 L1574.2 450.9" fill="none" stroke="#1c1c1c" stroke-width="1.7" stroke-linejoin="round" stroke-linecap="round"/>
<path d="M1556.2 449.4 L1574.2 456.9" fill="none" stroke="#1c1c1c" stroke-width="1.7" stroke-linejoin="round" stroke-linecap="round"/>
<path d="M1560.7 476.5 L1580.3 479.5" fill="none" stroke="#1c1c1c" stroke-width="1.7" stroke-linejoin="round" stroke-linecap="round"/>
<path d="M1557.7 491.5 L1577.3 496" fill="none" stroke="#1c1c1c" stroke-width="1.7" stroke-linejoin="round" stroke-linecap="round"/>
<path d="M1568.2 428.3 L1571.2 444.9" fill="none" stroke="#1c1c1c" stroke-width="1.7" stroke-linejoin="round" stroke-linecap="round"/>
<path d="M1575.8 450.9 L1574.2 478" fill="none" stroke="#1c1c1c" stroke-width="1.7" stroke-linejoin="round" stroke-linecap="round"/>
<path d="M1571.2 481 L1571.2 496" fill="none" stroke="#1c1c1c" stroke-width="1.7" stroke-linejoin="round" stroke-linecap="round"/>
<path d="M1542.7 499.1 C1544.4 499.3 1549.9 499.3 1553.2 500.6 C1556.4 501.8 1560.2 504.7 1562.2 506.6 C1564.2 508.5 1564.7 511.1 1565.2 512" fill="none" stroke="#1c1c1c" stroke-width="2.35" stroke-linejoin="round" stroke-linecap="round"/>
<ellipse cx="1601.3" cy="461.4" rx="5.7" ry="9.3" fill="none" stroke="#1c1c1c" stroke-width="1.1" transform="rotate(-22 1601.3 461.4)"/>
<ellipse cx="1602.1" cy="410.3" rx="5.4" ry="7.5" fill="none" stroke="#1c1c1c" stroke-width="1.1" transform="rotate(-20 1602.1 410.3)"/>
<path d="M1595.3 407.3 C1596.3 406.8 1599.4 403.8 1601.3 404.3 C1603.2 404.8 1605.7 409.3 1606.6 410.3" fill="none" stroke="#1c1c1c" stroke-width="2.35" stroke-linejoin="round" stroke-linecap="round"/>
<path d="M1663 320 C1664.5 323 1670.8 329.6 1672 338.1 C1673.3 346.6 1671.5 361.6 1670.5 371.2 C1669.5 380.7 1666.5 387.2 1666 395.2 C1665.5 403.3 1666.3 409.3 1667.5 419.3 C1668.8 429.3 1671.5 444.6 1673.5 455.4 C1675.5 466.2 1677.3 474.6 1679.6 484 C1681.8 493.4 1685.8 507.3 1687.1 512" fill="none" stroke="#1c1c1c" stroke-width="2.35" stroke-linejoin="round" stroke-linecap="round"/>
<ellipse cx="1668.3" cy="373.4" rx="4.5" ry="6.6" fill="none" stroke="#1c1c1c" stroke-width="1.6" transform="rotate(-25 1668.3 373.4)"/>
<ellipse cx="1668.7" cy="373.9" rx="2.1" ry="3.3" fill="none" stroke="#1c1c1c" stroke-width="1.1" transform="rotate(-25 1668.7 373.9)"/>
<path d="M1668.3 366.7 C1666.6 364.7 1661.4 356.9 1658.5 354.6 C1655.6 352.4 1652.9 352.1 1651 353.1 C1649.1 354.1 1647.5 357.6 1647.2 360.6 C1647 363.7 1649.1 369.4 1649.5 371.2" fill="none" stroke="#1c1c1c" stroke-width="1.1" stroke-linejoin="round" stroke-linecap="round"/>
<path d="M1651.7 374.2 L1655.5 386.2" fill="none" stroke="#1c1c1c" stroke-width="1.7" stroke-linejoin="round" stroke-linecap="round"/>
<path d="M1655.5 386.2 L1665.3 379.5" fill="none" stroke="#1c1c1c" stroke-width="1.7" stroke-linejoin="round" stroke-linecap="round"/>
<path d="M1655.5 345.6 L1670.5 338.1" fill="none" stroke="#1c1c1c" stroke-width="1.1" stroke-linejoin="round" stroke-linecap="round"/>
<path d="M1631.4 347.1 L1661.5 329.1" fill="none" stroke="#1c1c1c" stroke-width="1.1" stroke-linejoin="round" stroke-linecap="round"/>
<path d="M1631.4 455.4 C1631.9 457.4 1632.7 465 1634.4 467.5 C1636.2 470 1639.9 469 1641.9 470.5 C1644 472 1646 473.5 1646.5 476.5 C1647 479.5 1646.2 485.3 1645 488.5 C1643.7 491.8 1640.9 494.3 1638.9 496 C1636.9 497.8 1634.2 496.4 1632.9 499.1 C1631.7 501.7 1631.7 509.8 1631.4 512" fill="none" stroke="#1c1c1c" stroke-width="2.35" stroke-linejoin="round" stroke-linecap="round"/>
<ellipse cx="1635.2" cy="482.5" rx="4.5" ry="6.9" fill="none" stroke="#1c1c1c" stroke-width="1.6" transform="rotate(-20 1635.2 482.5)"/>
<ellipse cx="1635.5" cy="482.8" rx="2.4" ry="3.9" fill="none" stroke="#1c1c1c" stroke-width="1.1" transform="rotate(-20 1635.5 482.8)"/>
<path d="M1622.4 354.6 L1634.4 407.3" fill="none" stroke="#1c1c1c" stroke-width="1.1" stroke-linejoin="round" stroke-linecap="round"/>
<path d="M1626.9 356.1 L1638.2 408.8" fill="none" stroke="#1c1c1c" stroke-width="1.1" stroke-linejoin="round" stroke-linecap="round"/>
<path d="M1634.4 407.3 L1629.9 419.3 L1638.2 408.8" fill="none" stroke="#1c1c1c" stroke-width="1.1" stroke-linejoin="round" stroke-linecap="round"/>
<path d="M1595.3 373.4 L1622.4 354.6" fill="none" stroke="#1c1c1c" stroke-width="1.1" stroke-linejoin="round" stroke-linecap="round"/>
<path d="M1604.3 374.2 L1625.4 359.1" fill="none" stroke="#1c1c1c" stroke-width="1.1" stroke-linejoin="round" stroke-linecap="round"/>
<path d="M1604.3 374.2 C1606.6 376.7 1614.4 383.7 1617.9 389.2 C1621.4 394.7 1623.4 402.3 1625.4 407.3 C1627.4 412.3 1629.2 417.3 1629.9 419.3" fill="none" stroke="#1c1c1c" stroke-width="1.1" stroke-linejoin="round" stroke-linecap="round"/>
<ellipse cx="1630.7" cy="353.1" rx="4.8" ry="6.6" fill="none" stroke="#1c1c1c" stroke-width="1.1" transform="rotate(-20 1630.7 353.1)"/>
<ellipse cx="1631.4" cy="353.9" rx="2.7" ry="3.9" fill="none" stroke="#1c1c1c" stroke-width="1.1" transform="rotate(-20 1631.4 353.9)"/>
<path d="M1634.4 444.9 L1667.5 426.8" fill="none" stroke="#1c1c1c" stroke-width="1.1" stroke-linejoin="round" stroke-linecap="round"/>
<path d="M1640.4 455.4 L1669 438.9" fill="none" stroke="#1c1c1c" stroke-width="1.1" stroke-linejoin="round" stroke-linecap="round"/>
<path d="M1661.5 512 L1682.6 500.6" fill="none" stroke="#1c1c1c" stroke-width="1.1" stroke-linejoin="round" stroke-linecap="round"/>
<path d="M1622.4 428.3 C1622.9 429.6 1623.9 432.9 1625.4 435.9 C1626.9 438.9 1630.2 443.1 1631.4 446.4 C1632.7 449.7 1632.7 453.9 1632.9 455.4" fill="none" stroke="#1c1c1c" stroke-width="1.7" stroke-linejoin="round" stroke-linecap="round"/>
<path d="M1254.7 512 L1265.2 527 L1352.5 682" fill="none" stroke="#1c1c1c" stroke-width="2.35" stroke-linejoin="round" stroke-linecap="round"/>
<path d="M1352.5 682 C1353.7 683.8 1357.5 690.2 1360 692.5 C1362.5 694.8 1362.3 692.4 1367.5 695.8 C1372.8 699.3 1387.6 710.1 1391.6 713" fill="none" stroke="#1c1c1c" stroke-width="2.35" stroke-linejoin="round" stroke-linecap="round"/>
<path d="M1268.2 531.6 L1298.3 575.2" fill="none" stroke="#1c1c1c" stroke-width="1.1" stroke-linejoin="round" stroke-linecap="round"/>
<path d="M1314.9 602.3 L1334.4 641.4" fill="none" stroke="#1c1c1c" stroke-width="1.1" stroke-linejoin="round" stroke-linecap="round"/>
<path d="M1354 671.5 L1364.5 689.5" fill="none" stroke="#1c1c1c" stroke-width="1.1" stroke-linejoin="round" stroke-linecap="round"/>
<ellipse cx="1309.6" cy="594" rx="3" ry="4.5" fill="none" stroke="#1c1c1c" stroke-width="1.4" transform="rotate(-20 1309.6 594)"/>
<ellipse cx="1348" cy="660.2" rx="3.6" ry="5.1" fill="none" stroke="#1c1c1c" stroke-width="1.4" transform="rotate(-20 1348 660.2)"/>
<path d="M1295.3 569.2 C1296.3 569.7 1299.8 570.4 1301.3 572.2 C1302.8 573.9 1304.3 577.7 1304.3 579.7 C1304.3 581.7 1300.8 583 1301.3 584.2 C1301.8 585.5 1306.3 586.7 1307.3 587.2" fill="none" stroke="#1c1c1c" stroke-width="1.1" stroke-linejoin="round" stroke-linecap="round"/>
<path d="M1334.4 641.4 C1335.4 641.9 1338.9 642.6 1340.4 644.4 C1341.9 646.1 1343.5 649.9 1343.5 651.9 C1343.5 653.9 1340.9 655.7 1340.4 656.4" fill="none" stroke="#1c1c1c" stroke-width="1.1" stroke-linejoin="round" stroke-linecap="round"/>
<path d="M1274.2 533.1 L1355.5 492.4" fill="none" stroke="#1c1c1c" stroke-width="1.1" stroke-linejoin="round" stroke-linecap="round"/>
<path d="M1295.3 570.7 L1340.4 546.6" fill="none" stroke="#1c1c1c" stroke-width="1.1" stroke-linejoin="round" stroke-linecap="round"/>
<path d="M1301.3 582.7 L1341.9 561.6" fill="none" stroke="#1c1c1c" stroke-width="1.1" stroke-linejoin="round" stroke-linecap="round"/>
<path d="M1317.9 603.8 L1345 590.2" fill="none" stroke="#1c1c1c" stroke-width="1.1" stroke-linejoin="round" stroke-linecap="round"/>
<path d="M1334.4 635.4 L1360 623.3" fill="none" stroke="#1c1c1c" stroke-width="1.1" stroke-linejoin="round" stroke-linecap="round"/>
<path d="M1340.4 647.4 L1375 630.9" fill="none" stroke="#1c1c1c" stroke-width="1.1" stroke-linejoin="round" stroke-linecap="round"/>
<path d="M1355.5 670 L1370.5 662.4" fill="none" stroke="#1c1c1c" stroke-width="1.1" stroke-linejoin="round" stroke-linecap="round"/>
<path d="M1340.4 546.6 C1341.2 545.3 1344.5 541.8 1345 539.1 C1345.5 536.3 1343 533.1 1343.5 530.1 C1344 527 1347.2 522.5 1348 521" fill="none" stroke="#1c1c1c" stroke-width="1.1" stroke-linejoin="round" stroke-linecap="round"/>
<path d="M1310.4 584.2 C1312.4 583.2 1318.6 578.9 1322.4 578.2 C1326.2 577.4 1330.7 577.4 1332.9 579.7 C1335.2 582 1335.4 589.7 1335.9 591.7" fill="none" stroke="#1c1c1c" stroke-width="1.1" stroke-linejoin="round" stroke-linecap="round"/>
<path d="M1345 600.8 L1354 623.3" fill="none" stroke="#1c1c1c" stroke-width="1.1" stroke-linejoin="round" stroke-linecap="round"/>
<path d="M1349.5 599.3 L1358.5 621.8" fill="none" stroke="#1c1c1c" stroke-width="1.1" stroke-linejoin="round" stroke-linecap="round"/>
<path d="M1354 623.3 C1355 623.5 1358.5 622.8 1360 624.1 C1361.5 625.3 1362.3 628.7 1363 630.9 C1363.8 633 1364.3 635.9 1364.5 636.9" fill="none" stroke="#1c1c1c" stroke-width="1.1" stroke-linejoin="round" stroke-linecap="round"/>
<path d="M1343.5 563.9 C1348 560.3 1363 548.2 1370.5 542.1 C1378.1 535.9 1384.8 532.1 1388.6 527 C1392.3 522 1392.3 514.5 1393.1 512" fill="none" stroke="#1c1c1c" stroke-width="2.35" stroke-linejoin="round" stroke-linecap="round"/>
<path d="M1346.5 566.9 C1351.2 563.3 1367.3 551.7 1375 545.4 C1382.8 539.1 1389.3 534.4 1393.1 528.8 C1396.9 523.3 1396.9 514.8 1397.6 512" fill="none" stroke="#1c1c1c" stroke-width="1.7" stroke-linejoin="round" stroke-linecap="round"/>
<path d="M1375 581.2 C1375.3 580.7 1374.8 580 1376.6 578.2 C1378.3 576.4 1381.6 573.9 1385.6 570.7 C1389.6 567.4 1394.9 562.6 1400.6 558.6 C1406.4 554.6 1416.2 551.9 1420.2 546.6 C1424.2 541.3 1424.2 532.8 1424.7 527 C1425.2 521.3 1423.4 514.5 1423.2 512" fill="none" stroke="#1c1c1c" stroke-width="2.35" stroke-linejoin="round" stroke-linecap="round"/>
<path d="M1385.6 587.2 C1384.3 586.8 1379.8 586 1378.1 585 C1376.3 584 1375.5 581.8 1375 581.2" fill="none" stroke="#1c1c1c" stroke-width="2.35" stroke-linejoin="round" stroke-linecap="round"/>
<path d="M1385.6 587.2 C1388.6 584.7 1397.1 577.4 1403.6 572.2 C1410.1 566.9 1417.7 560.4 1424.7 555.6 C1431.7 550.9 1441.2 547.1 1445.8 543.6 C1450.3 540.1 1450.8 536.1 1451.8 534.6" fill="none" stroke="#1c1c1c" stroke-width="1.7" stroke-linejoin="round" stroke-linecap="round"/>
<path d="M1379.6 587.2 C1378.1 590.7 1372.8 601.3 1370.5 608.3 C1368.3 615.3 1368 623.6 1366 629.3 C1364 635.1 1359.8 640.6 1358.5 642.9" fill="none" stroke="#1c1c1c" stroke-width="2.35" stroke-linejoin="round" stroke-linecap="round"/>
<path d="M1385.6 588.7 C1384.3 592 1380.1 601.3 1378.1 608.3 C1376 615.3 1375.3 624.8 1373.5 630.9 C1371.8 636.9 1368.5 642.1 1367.5 644.4" fill="none" stroke="#1c1c1c" stroke-width="1.7" stroke-linejoin="round" stroke-linecap="round"/>
<path d="M1358.5 642.9 C1357 643.4 1352.5 645 1349.5 645.9 C1346.5 646.8 1341.9 647.8 1340.4 648.2" fill="none" stroke="#1c1c1c" stroke-width="1.7" stroke-linejoin="round" stroke-linecap="round"/>
<path d="M1367.5 644.4 C1369 644.9 1374.5 645.4 1376.6 647.4 C1378.6 649.4 1379.8 653.9 1379.6 656.4 C1379.3 658.9 1375.8 661.4 1375 662.4" fill="none" stroke="#1c1c1c" stroke-width="1.1" stroke-linejoin="round" stroke-linecap="round"/>
<path d="M1450.3 624.1 C1452 623 1456.5 621.9 1460.8 617.3 C1465.1 612.7 1471 601.5 1475.8 596.2 C1480.7 591 1487.6 587.5 1490 585.7" fill="none" stroke="#1c1c1c" stroke-width="2.35" stroke-linejoin="round" stroke-linecap="round"/>
<path d="M1460.8 626.3 C1462.3 624.8 1466.3 621.3 1469.8 617.3 C1473.3 613.3 1478.5 605.8 1481.9 602.3 C1485.2 598.8 1488.6 597.3 1490 596.2" fill="none" stroke="#1c1c1c" stroke-width="1.7" stroke-linejoin="round" stroke-linecap="round"/>
<path d="M1450.3 624.1 C1450.5 624.7 1450.3 627.1 1451.8 627.8 C1453.3 628.6 1458 628.5 1459.3 628.6" fill="none" stroke="#1c1c1c" stroke-width="2.35" stroke-linejoin="round" stroke-linecap="round"/>
<path d="M1451.8 630.9 C1450.8 633.6 1447.3 641.1 1445.8 647.4 C1444.3 653.7 1444.8 662.7 1442.7 668.5 C1440.7 674.2 1435.2 679.7 1433.7 682" fill="none" stroke="#1c1c1c" stroke-width="2.35" stroke-linejoin="round" stroke-linecap="round"/>
<path d="M1459.3 630.9 C1458.5 633.6 1456.3 640.9 1454.8 647.4 C1453.3 653.9 1452 664.4 1450.3 670 C1448.5 675.5 1445.3 678.7 1444.3 680.5" fill="none" stroke="#1c1c1c" stroke-width="1.7" stroke-linejoin="round" stroke-linecap="round"/>
<path d="M1400.6 576.7 L1450.3 624.1" fill="none" stroke="#1c1c1c" stroke-width="1.1" stroke-linejoin="round" stroke-linecap="round"/>
<path d="M1475.8 617.3 L1490 632.4" fill="none" stroke="#1c1c1c" stroke-width="1.1" stroke-linejoin="round" stroke-linecap="round"/>
<path d="M1460.8 539.1 C1461.6 540.1 1463.3 543.8 1465.3 545.1 C1467.3 546.4 1468.7 545.3 1472.8 546.6 C1476.9 547.9 1487.1 551.6 1490 552.6" fill="none" stroke="#1c1c1c" stroke-width="2.35" stroke-linejoin="round" stroke-linecap="round"/>
<path d="M1436.7 512 L1463.8 537.6" fill="none" stroke="#1c1c1c" stroke-width="2.35" stroke-linejoin="round" stroke-linecap="round"/>
<path d="M1469.8 533.1 L1490 521" fill="none" stroke="#1c1c1c" stroke-width="2.35" stroke-linejoin="round" stroke-linecap="round"/>
<ellipse cx="1466.8" cy="582" rx="9.8" ry="14.3" fill="none" stroke="#1c1c1c" stroke-width="2.35" transform="rotate(-20 1466.8 582)"/>
<ellipse cx="1467.6" cy="582.4" rx="3.8" ry="5.7" fill="none" stroke="#1c1c1c" stroke-width="1.5" transform="rotate(-20 1467.6 582.4)"/>
<ellipse cx="1467.1" cy="582.1" rx="7.8" ry="11.7" fill="none" stroke="#1c1c1c" stroke-width="1.1" transform="rotate(-20 1467.1 582.1)"/>
<path d="M1460.8 569.9 L1490 555.6" fill="none" stroke="#1c1c1c" stroke-width="2.35" stroke-linejoin="round" stroke-linecap="round"/>
<path d="M1472.8 595.5 L1490 587.2" fill="none" stroke="#1c1c1c" stroke-width="2.35" stroke-linejoin="round" stroke-linecap="round"/>
<path d="M1391.6 713 C1393.1 712.1 1396.6 708.7 1400.6 707.6 C1404.6 706.4 1413.2 706.3 1415.7 706.1 L1415.7 706.1 C1416.2 704.3 1416.9 698 1418.7 695.5 C1420.4 693 1424.9 691.8 1426.2 691 L1426.2 691 L1454.8 676 L1454.8 676 C1455.8 675.5 1458.5 672.7 1460.8 673 C1463.1 673.2 1467.1 676.7 1468.3 677.5 L1468.3 677.5 L1490 662.4 " fill="none" stroke="#1c1c1c" stroke-width="2.35" stroke-linejoin="round" stroke-linecap="round"/>
<ellipse cx="1422.4" cy="703.8" rx="3" ry="4.5" fill="none" stroke="#1c1c1c" stroke-width="1.4" transform="rotate(-20 1422.4 703.8)"/>
<ellipse cx="1460.8" cy="681.2" rx="3" ry="4.5" fill="none" stroke="#1c1c1c" stroke-width="1.4" transform="rotate(-20 1460.8 681.2)"/>
<ellipse cx="1485.6" cy="651.2" rx="3.6" ry="5.1" fill="none" stroke="#1c1c1c" stroke-width="1.6" transform="rotate(-20 1485.6 651.2)"/>
<path d="M1436.7 695.5 L1454.8 685" fill="none" stroke="#1c1c1c" stroke-width="1.7" stroke-linejoin="round" stroke-linecap="round"/>
<path d="M1439.7 699.3 L1457.8 688.3" fill="none" stroke="#1c1c1c" stroke-width="1.7" stroke-linejoin="round" stroke-linecap="round"/>
<path d="M1436.7 695.5 L1439.7 699.3" fill="none" stroke="#1c1c1c" stroke-width="1.7" stroke-linejoin="round" stroke-linecap="round"/>
<path d="M1469.8 674.5 L1472.8 668.5 L1468.3 665.5 L1475.8 660.9 L1472.8 656.4 L1480.4 656.4" fill="none" stroke="#1c1c1c" stroke-width="1.7" stroke-linejoin="round" stroke-linecap="round"/>
<path d="M1475.8 647.4 C1476.6 646.4 1478 642.6 1480.4 641.4 C1482.7 640.1 1488.4 640.1 1490 639.9" fill="none" stroke="#1c1c1c" stroke-width="2.35" stroke-linejoin="round" stroke-linecap="round"/>
<path d="M1433.7 682 C1434.2 682.8 1437.2 685.3 1436.7 686.5 C1436.2 687.8 1431.7 689 1430.7 689.5" fill="none" stroke="#1c1c1c" stroke-width="2.35" stroke-linejoin="round" stroke-linecap="round"/>
<ellipse cx="1386.3" cy="671.5" rx="7.2" ry="10.5" fill="none" stroke="#1c1c1c" stroke-width="1.6" transform="rotate(-20 1386.3 671.5)"/>
<ellipse cx="1387.1" cy="671.8" rx="5.1" ry="8.1" fill="none" stroke="#1c1c1c" stroke-width="1.1" transform="rotate(-20 1387.1 671.8)"/>
<ellipse cx="1398.4" cy="697.3" rx="10.8" ry="8.7" fill="none" stroke="#1c1c1c" stroke-width="2.35" transform="rotate(-20 1398.4 697.3)"/>
<ellipse cx="1398.4" cy="697.3" rx="8.4" ry="6.6" fill="none" stroke="#1c1c1c" stroke-width="1.1" transform="rotate(-20 1398.4 697.3)"/>
<path d="M1391.6 692.5 L1394.6 703.1 L1405.1 697" fill="none" stroke="#1c1c1c" stroke-width="2.35" stroke-linejoin="round" stroke-linecap="round"/>
<path d="M1360 682 L1378.1 673.7" fill="none" stroke="#1c1c1c" stroke-width="1.7" stroke-linejoin="round" stroke-linecap="round"/>
<path d="M1364.5 689.5 L1376.6 683.5" fill="none" stroke="#1c1c1c" stroke-width="1.7" stroke-linejoin="round" stroke-linecap="round"/>
<path d="M1375 677.5 L1378.1 683.5" fill="none" stroke="#1c1c1c" stroke-width="1.7" stroke-linejoin="round" stroke-linecap="round"/>
<path d="M1514.8 570.7 C1515.2 569.4 1515.5 564.5 1517.1 563.2 C1518.7 561.8 1522.6 561.9 1524.6 562.4 C1526.6 562.9 1528.6 564 1529.1 566.2 C1529.6 568.3 1527.9 573.7 1527.6 575.2" fill="none" stroke="#1c1c1c" stroke-width="2.35" stroke-linejoin="round" stroke-linecap="round"/>
<path d="M1527.6 575.2 C1529.4 574.7 1534.4 572.4 1538.1 572.2 C1541.9 571.9 1546.9 571.9 1550.2 573.7 C1553.4 575.4 1556.4 581.2 1557.7 582.7 L1557.7 582.7 C1559.5 583.5 1565 587 1568.2 587.2 C1571.5 587.5 1575.8 584.7 1577.3 584.2 L1577.3 584.2 L1586.3 585.7 L1586.3 585.7 L1601.3 576.7 " fill="none" stroke="#1c1c1c" stroke-width="2.35" stroke-linejoin="round" stroke-linecap="round"/>
<ellipse cx="1521.6" cy="569.2" rx="3.3" ry="4.8" fill="none" stroke="#1c1c1c" stroke-width="1.5" transform="rotate(-20 1521.6 569.2)"/>
<ellipse cx="1565.2" cy="571.4" rx="4.2" ry="6" fill="none" stroke="#1c1c1c" stroke-width="1.6" transform="rotate(-20 1565.2 571.4)"/>
<path d="M1530.6 561.6 L1578.8 531.6" fill="none" stroke="#1c1c1c" stroke-width="2.35" stroke-linejoin="round" stroke-linecap="round"/>
<path d="M1533.6 563.9 L1556.2 550.4" fill="none" stroke="#1c1c1c" stroke-width="2.35" stroke-linejoin="round" stroke-linecap="round"/>
<path d="M1514.1 575.2 C1513.8 579.7 1513.6 595.2 1512.6 602.3 C1511.6 609.3 1509.8 612.3 1508.1 617.3 C1506.3 622.3 1503 629.8 1502 632.4" fill="none" stroke="#1c1c1c" stroke-width="2.35" stroke-linejoin="round" stroke-linecap="round"/>
<path d="M1527.6 576.7 C1526.1 578.4 1520.6 582.5 1518.6 587.2 C1516.6 592 1516.1 602.3 1515.6 605.3" fill="none" stroke="#1c1c1c" stroke-width="1.7" stroke-linejoin="round" stroke-linecap="round"/>
<ellipse cx="1508.8" cy="620.3" rx="3" ry="4.5" fill="none" stroke="#1c1c1c" stroke-width="1.4" transform="rotate(-20 1508.8 620.3)"/>
<path d="M1490 668.5 L1574.2 609.8" fill="none" stroke="#1c1c1c" stroke-width="2.35" stroke-linejoin="round" stroke-linecap="round"/>
<path d="M1490 660.9 L1571.2 608.3" fill="none" stroke="#1c1c1c" stroke-width="2.35" stroke-linejoin="round" stroke-linecap="round"/>
<path d="M1490 644.4 L1514.1 626.3" fill="none" stroke="#1c1c1c" stroke-width="2.35" stroke-linejoin="round" stroke-linecap="round"/>
<path d="M1490 603.8 L1505 608.3 L1508.1 603.8" fill="none" stroke="#1c1c1c" stroke-width="2.35" stroke-linejoin="round" stroke-linecap="round"/>
<path d="M1583.3 590.2 C1584.3 593.7 1585.8 604.5 1589.3 611.3 C1592.8 618.1 1598.3 625.3 1604.3 630.9 C1610.4 636.4 1618.4 641.5 1625.4 644.4 C1632.4 647.3 1640.7 648.9 1646.5 648.2 C1652.2 647.4 1656.7 643 1660 639.9 C1663.3 636.7 1665 631.1 1666 629.3" fill="none" stroke="#1c1c1c" stroke-width="2.35" stroke-linejoin="round" stroke-linecap="round"/>
<path d="M1601.3 576.7 L1655.5 571.4" fill="none" stroke="#1c1c1c" stroke-width="2.35" stroke-linejoin="round" stroke-linecap="round"/>
<path d="M1648 572.2 C1649.7 575.2 1655.7 584 1658.5 590.2 C1661.3 596.5 1663.3 603.3 1664.5 609.8 C1665.8 616.3 1665.8 626.1 1666 629.3" fill="none" stroke="#1c1c1c" stroke-width="2.35" stroke-linejoin="round" stroke-linecap="round"/>
<path d="M1595.3 587.2 C1596.3 590.2 1597.8 599.8 1601.3 605.3 C1604.8 610.8 1611.4 616.6 1616.4 620.3 C1621.4 624.1 1627.2 627.1 1631.4 627.8 C1635.7 628.6 1639.2 627.1 1641.9 624.8 C1644.7 622.6 1647 619.1 1648 614.3 C1649 609.5 1649.2 602.3 1648 596.2 C1646.7 590.2 1641.7 581.2 1640.4 578.2" fill="none" stroke="#1c1c1c" stroke-width="1.7" stroke-linejoin="round" stroke-linecap="round"/>
<path d="M1616.4 596.2 C1617.4 598.5 1619.4 606.3 1622.4 609.8 C1625.4 613.3 1630.7 616.3 1634.4 617.3 C1638.2 618.3 1643.2 616.1 1645 615.8" fill="none" stroke="#1c1c1c" stroke-width="1.1" stroke-linejoin="round" stroke-linecap="round"/>
<ellipse cx="1643.5" cy="636.9" rx="3" ry="4.5" fill="none" stroke="#1c1c1c" stroke-width="1.4" transform="rotate(-20 1643.5 636.9)"/>
<ellipse cx="1583.3" cy="619.6" rx="8.3" ry="10.2" fill="none" stroke="#1c1c1c" stroke-width="2.35" transform="rotate(-20 1583.3 619.6)"/>
<ellipse cx="1583.6" cy="619.7" rx="4.5" ry="6" fill="none" stroke="#1c1c1c" stroke-width="1.4" transform="rotate(-20 1583.6 619.7)"/>
<ellipse cx="1583.6" cy="619.7" rx="2.7" ry="3.9" fill="none" stroke="#1c1c1c" stroke-width="1.1" transform="rotate(-20 1583.6 619.7)"/>
<path d="M1602.8 590.2 L1607.3 597.8 L1634.4 584.2" fill="none" stroke="#1c1c1c" stroke-width="2.35" stroke-linejoin="round" stroke-linecap="round"/>
<path d="M1622.4 596.2 L1628.4 603.8 L1646.5 602.3" fill="none" stroke="#1c1c1c" stroke-width="2.35" stroke-linejoin="round" stroke-linecap="round"/>
<path d="M1685.6 512 C1686.3 514.5 1687.8 522 1690.1 527 C1692.3 532.1 1697.6 536.6 1699.1 542.1 C1700.6 547.6 1700.4 554.1 1699.1 560.1 C1697.9 566.2 1694.6 572.7 1691.6 578.2 C1688.6 583.7 1682.8 590.7 1681.1 593.2" fill="none" stroke="#1c1c1c" stroke-width="2.35" stroke-linejoin="round" stroke-linecap="round"/>
<path d="M1681.1 593.2 L1667.5 599.3" fill="none" stroke="#1c1c1c" stroke-width="1.7" stroke-linejoin="round" stroke-linecap="round"/>
<path d="M1667.5 599.3 L1666 629.3" fill="none" stroke="#1c1c1c" stroke-width="1.7" stroke-linejoin="round" stroke-linecap="round"/>
<path d="M1676.6 596.2 L1667.5 611.3" fill="none" stroke="#1c1c1c" stroke-width="1.7" stroke-linejoin="round" stroke-linecap="round"/>
<path d="M1625.4 531.6 L1670.5 507.5" fill="none" stroke="#1c1c1c" stroke-width="1.1" stroke-linejoin="round" stroke-linecap="round"/>
<path d="M1634.4 542.1 L1690.1 510.5" fill="none" stroke="#1c1c1c" stroke-width="1.1" stroke-linejoin="round" stroke-linecap="round"/>
<path d="M1613.4 566.2 L1691.6 522.5" fill="none" stroke="#1c1c1c" stroke-width="1.1" stroke-linejoin="round" stroke-linecap="round"/>
<path d="M1614.9 575.2 L1699.1 546.6" fill="none" stroke="#1c1c1c" stroke-width="1.1" stroke-linejoin="round" stroke-linecap="round"/>
<path d="M1667.5 599.3 L1699.1 572.2" fill="none" stroke="#1c1c1c" stroke-width="1.1" stroke-linejoin="round" stroke-linecap="round"/>
<path d="M1571.2 512 C1572 514.3 1573.2 522.8 1575.8 525.5 C1578.3 528.3 1583 528.8 1586.3 528.5 C1589.5 528.3 1593.3 526.8 1595.3 524 C1597.3 521.3 1597.8 514 1598.3 512" fill="none" stroke="#1c1c1c" stroke-width="2.35" stroke-linejoin="round" stroke-linecap="round"/>
<path d="M1578.8 534.6 C1581.5 535.1 1590 537.3 1595.3 537.6 C1600.6 537.8 1606.6 535.3 1610.4 536.1 C1614.1 536.8 1617.1 539.6 1617.9 542.1 C1618.6 544.6 1615.4 549.6 1614.9 551.1 L1614.9 551.1 L1595.3 548.1 " fill="none" stroke="#1c1c1c" stroke-width="1.7" stroke-linejoin="round" stroke-linecap="round"/>
<path d="M1578.8 534.6 L1580.3 543.6 L1598.3 548.1" fill="none" stroke="#1c1c1c" stroke-width="1.1" stroke-linejoin="round" stroke-linecap="round"/>
<path d="M1571.2 543.6 L1586.3 561.6" fill="none" stroke="#1c1c1c" stroke-width="1.1" stroke-linejoin="round" stroke-linecap="round"/>
<path d="M1586.3 561.6 L1613.4 549.6" fill="none" stroke="#1c1c1c" stroke-width="1.1" stroke-linejoin="round" stroke-linecap="round"/>
<ellipse cx="1620.9" cy="523.3" rx="7.2" ry="10.5" fill="none" stroke="#1c1c1c" stroke-width="2.35" transform="rotate(-15 1620.9 523.3)"/>
<ellipse cx="1621.6" cy="523.7" rx="4.5" ry="6.9" fill="none" stroke="#1c1c1c" stroke-width="1.7" transform="rotate(-15 1621.6 523.7)"/>
<path d="M1625.4 533.1 C1626.7 531.6 1631.4 527.5 1632.9 524 C1634.4 520.5 1634.2 514 1634.4 512" fill="none" stroke="#1c1c1c" stroke-width="2.35" stroke-linejoin="round" stroke-linecap="round"/>
<path d="M1625.4 533.1 C1624.9 535.1 1624.9 540.3 1622.4 545.1 C1619.9 549.9 1613.9 556.4 1610.4 561.6 C1606.8 566.9 1602.8 574.2 1601.3 576.7" fill="none" stroke="#1c1c1c" stroke-width="2.35" stroke-linejoin="round" stroke-linecap="round"/>
<path d="M1490 522.5 L1512.6 515" fill="none" stroke="#1c1c1c" stroke-width="2.35" stroke-linejoin="round" stroke-linecap="round"/>
<path d="M1505 531.6 L1547.2 512" fill="none" stroke="#1c1c1c" stroke-width="2.35" stroke-linejoin="round" stroke-linecap="round"/>
<path d="M1532.1 560.1 L1577.3 531.6" fill="none" stroke="#1c1c1c" stroke-width="2.35" stroke-linejoin="round" stroke-linecap="round"/>
<path d="M1490 549.6 C1492.5 550.6 1500 554.9 1505 555.6 C1510.1 556.4 1516.1 555.4 1520.1 554.1 C1524.1 552.9 1527.6 549.1 1529.1 548.1" fill="none" stroke="#1c1c1c" stroke-width="1.1" stroke-linejoin="round" stroke-linecap="round"/>
<path d="M1505 557.1 L1517.1 561.6" fill="none" stroke="#1c1c1c" stroke-width="1.1" stroke-linejoin="round" stroke-linecap="round"/>
<path d="M1556.2 550.4 L1554.7 555.6 L1542.7 563.2" fill="none" stroke="#1c1c1c" stroke-width="1.1" stroke-linejoin="round" stroke-linecap="round"/>
<path d="M1350.3 686.8 L1352.8 693.1 L1352.8 693.1 L1415.5 726.9 L1415.5 726.9 L1423 723.2 L1423 723.2 L1425.5 719.4 " fill="none" stroke="#1c1c1c" stroke-width="2.35" stroke-linejoin="round" stroke-linecap="round"/>
<path d="M1355.3 685.6 L1410.5 716.9" fill="none" stroke="#1c1c1c" stroke-width="2.35" stroke-linejoin="round" stroke-linecap="round"/>
<path d="M1410.5 716.9 L1415.5 726.9" fill="none" stroke="#1c1c1c" stroke-width="2.35" stroke-linejoin="round" stroke-linecap="round"/>
<path d="M1415.5 708.1 L1571 610.3" fill="none" stroke="#1c1c1c" stroke-width="2.35" stroke-linejoin="round" stroke-linecap="round"/>
<path d="M1425.5 719.4 L1573.5 612.8" fill="none" stroke="#1c1c1c" stroke-width="2.35" stroke-linejoin="round" stroke-linecap="round"/>
<ellipse cx="1423" cy="703.1" rx="4.5" ry="6.5" fill="none" stroke="#1c1c1c" stroke-width="1.4" transform="rotate(-20 1423 703.1)"/>
<ellipse cx="1461.9" cy="680.5" rx="4" ry="6" fill="none" stroke="#1c1c1c" stroke-width="1.4" transform="rotate(-20 1461.9 680.5)"/>
<path d="M1430.5 698.1 L1435.6 690.6 L1430.5 685.6 L1438.1 680.5" fill="none" stroke="#1c1c1c" stroke-width="1.7" stroke-linejoin="round" stroke-linecap="round"/>
<path d="M1440.6 694.3 L1455.6 686.8" fill="none" stroke="#1c1c1c" stroke-width="1.7" stroke-linejoin="round" stroke-linecap="round"/>
<ellipse cx="1397.9" cy="695.6" rx="12" ry="9.5" fill="none" stroke="#1c1c1c" stroke-width="2.35" transform="rotate(-20 1397.9 695.6)"/>
<path d="M1391.7 690.6 L1395.4 700.6 L1405.5 695.6" fill="none" stroke="#1c1c1c" stroke-width="1.7" stroke-linejoin="round" stroke-linecap="round"/>
<path d="M812 668 L455 875" fill="none" stroke="#1c1c1c" stroke-width="1.25" stroke-linejoin="miter" stroke-linecap="butt" stroke-dasharray="26 5 5 5"/>
<line x1="455" y1="875" x2="480" y2="860.5" stroke="#1c1c1c" stroke-width="2.0" stroke-linecap="butt"/>
<path d="M697 697 L567 772" fill="none" stroke="#1c1c1c" stroke-width="1.25" stroke-linejoin="miter" stroke-linecap="butt" stroke-dasharray="26 5 5 5"/>
<path d="M817 828.5 L500 1007" fill="none" stroke="#1c1c1c" stroke-width="1.25" stroke-linejoin="miter" stroke-linecap="butt" stroke-dasharray="26 5 5 5"/>
<path d="M770 897 L699 937" fill="none" stroke="#1c1c1c" stroke-width="1.25" stroke-linejoin="miter" stroke-linecap="butt" stroke-dasharray="26 5 5 5"/>
<path d="M792 802 L700 853" fill="none" stroke="#1c1c1c" stroke-width="1.25" stroke-linejoin="miter" stroke-linecap="butt" stroke-dasharray="26 5 5 5"/>
<path d="M1197 284.5 L1280 229" fill="none" stroke="#1c1c1c" stroke-width="1.25" stroke-linejoin="miter" stroke-linecap="butt" stroke-dasharray="26 5 5 5"/>
<path d="M1214 401.3 L1500 236" fill="none" stroke="#1c1c1c" stroke-width="1.25" stroke-linejoin="miter" stroke-linecap="butt" stroke-dasharray="26 5 5 5"/>
<path d="M1233.6 428.3 L1384 341" fill="none" stroke="#1c1c1c" stroke-width="1.25" stroke-linejoin="miter" stroke-linecap="butt" stroke-dasharray="26 5 5 5"/>
<path d="M1247 445 L1359 379.5" fill="none" stroke="#1c1c1c" stroke-width="1.25" stroke-linejoin="miter" stroke-linecap="butt" stroke-dasharray="26 5 5 5"/>
<path d="M1272 528.5 L1556 362" fill="none" stroke="#1c1c1c" stroke-width="1.25" stroke-linejoin="miter" stroke-linecap="butt" stroke-dasharray="26 5 5 5"/>
<path d="M1690 320 L1266.7 566.2 L1330 800 L1298 818" fill="none" stroke="#1c1c1c" stroke-width="1.25" stroke-linejoin="miter" stroke-linecap="butt" stroke-dasharray="26 5 5 5"/>
<path d="M1445.8 192 L1322.4 260.4" fill="none" stroke="#1c1c1c" stroke-width="1.1" stroke-linejoin="round" stroke-linecap="butt" stroke-dasharray="9 6"/>
<path d="M136.1 964.7 L139.6 962.7 A11 19 -30 0 0 120.6 929.7 L117.1 931.7 Z" fill="#fff" stroke="#1c1c1c" stroke-width="1.6" stroke-linejoin="round" stroke-linecap="round"/>
<ellipse cx="126.6" cy="948.2" rx="11" ry="19" fill="#fff" stroke="#1c1c1c" stroke-width="1.6" transform="rotate(-30 126.6 948.2)"/>
<ellipse cx="126.6" cy="948.2" rx="8.4" ry="14.5" fill="none" stroke="#1c1c1c" stroke-width="1.2" transform="rotate(-30 126.6 948.2)"/>
<path d="M135.9 959.3 L135.3 959.4 L134.7 959.4 L134.1 959.4 L133.4 959.3 L132.7 959.2 L132 959 L131.3 958.7 L130.6 958.3 L129.9 957.9 L129.1 957.5 L128.4 957 L127.7 956.4 L127 955.8 L126.4 955.1 L125.7 954.4 L125.1 953.7 L124.4 952.9 L123.9 952.1 L123.3 951.3 L122.8 950.4 L122.3 949.5 L121.8 948.6 L121.4 947.7 L121.1 946.8 L120.7 945.9 L120.5 944.9 L120.2 944 L120 943.1 L119.9 942.2 L119.8 941.3 L119.8 940.5 L119.8 939.7 L119.9 938.9 L120 938.1 L120.1 937.4 L120.4 936.8 L120.6 936.1 L120.9 935.6 L121.3 935 L121.7 934.6" fill="none" stroke="#1c1c1c" stroke-width="1.2" stroke-linejoin="round" stroke-linecap="round"/>
<path d="M165.4 948.1 L183.6 937.6 A11.2 19.3 -30 0 0 164.3 904.1 L146.1 914.6 Z" fill="#fff" stroke="#1c1c1c" stroke-width="1.7" stroke-linejoin="round" stroke-linecap="round"/>
<ellipse cx="155.8" cy="931.4" rx="11.2" ry="19.3" fill="#fff" stroke="#1c1c1c" stroke-width="1.7" transform="rotate(-30 155.8 931.4)"/>
<ellipse cx="155.8" cy="931.4" rx="8.3" ry="14.3" fill="none" stroke="#1c1c1c" stroke-width="1.3" transform="rotate(-30 155.8 931.4)"/>
<ellipse cx="155.8" cy="931.4" rx="9.9" ry="17" fill="none" stroke="#1c1c1c" stroke-width="0.9" transform="rotate(-30 155.8 931.4)"/>
<line x1="159.2" y1="944.3" x2="167.1" y2="939.8" stroke="#1c1c1c" stroke-width="0.9" stroke-linecap="butt"/>
<line x1="155.8" y1="943" x2="164.9" y2="937.8" stroke="#1c1c1c" stroke-width="0.9" stroke-linecap="butt"/>
<line x1="152.3" y1="940.3" x2="162.3" y2="934.6" stroke="#1c1c1c" stroke-width="0.9" stroke-linecap="butt"/>
<line x1="149.3" y1="936.6" x2="159.6" y2="930.6" stroke="#1c1c1c" stroke-width="0.9" stroke-linecap="butt"/>
<line x1="147" y1="932.1" x2="157.3" y2="926.2" stroke="#1c1c1c" stroke-width="0.9" stroke-linecap="butt"/>
<line x1="145.8" y1="927.6" x2="155.4" y2="922.1" stroke="#1c1c1c" stroke-width="0.9" stroke-linecap="butt"/>
<line x1="145.8" y1="923.6" x2="154.4" y2="918.7" stroke="#1c1c1c" stroke-width="0.9" stroke-linecap="butt"/>
<path d="M209.1 923.2 L226 913.4 A11.4 19.6 -30 0 0 206.4 879.5 L189.5 889.2 Z" fill="#fff" stroke="#1c1c1c" stroke-width="1.7" stroke-linejoin="round" stroke-linecap="round"/>
<ellipse cx="199.3" cy="906.2" rx="11.4" ry="19.6" fill="#fff" stroke="#1c1c1c" stroke-width="1.7" transform="rotate(-30 199.3 906.2)"/>
<ellipse cx="199.3" cy="906.2" rx="8.4" ry="14.5" fill="none" stroke="#1c1c1c" stroke-width="1.3" transform="rotate(-30 199.3 906.2)"/>
<ellipse cx="199.3" cy="906.2" rx="10" ry="17.2" fill="none" stroke="#1c1c1c" stroke-width="0.9" transform="rotate(-30 199.3 906.2)"/>
<line x1="202.8" y1="919.4" x2="210.7" y2="914.8" stroke="#1c1c1c" stroke-width="0.9" stroke-linecap="butt"/>
<line x1="199.3" y1="918.1" x2="208.4" y2="912.8" stroke="#1c1c1c" stroke-width="0.9" stroke-linecap="butt"/>
<line x1="195.8" y1="915.3" x2="205.8" y2="909.6" stroke="#1c1c1c" stroke-width="0.9" stroke-linecap="butt"/>
<line x1="192.7" y1="911.5" x2="203.1" y2="905.5" stroke="#1c1c1c" stroke-width="0.9" stroke-linecap="butt"/>
<line x1="190.4" y1="907" x2="200.7" y2="901.1" stroke="#1c1c1c" stroke-width="0.9" stroke-linecap="butt"/>
<line x1="189.2" y1="902.4" x2="198.8" y2="896.9" stroke="#1c1c1c" stroke-width="0.9" stroke-linecap="butt"/>
<line x1="189.2" y1="898.3" x2="197.8" y2="893.4" stroke="#1c1c1c" stroke-width="0.9" stroke-linecap="butt"/>
<path d="M252.6 898.5 L257 896 A11.6 20 -30 0 0 237 861.4 L232.6 863.9 Z" fill="#fff" stroke="#1c1c1c" stroke-width="1.6" stroke-linejoin="round" stroke-linecap="round"/>
<ellipse cx="242.6" cy="881.2" rx="11.6" ry="20" fill="#fff" stroke="#1c1c1c" stroke-width="1.6" transform="rotate(-30 242.6 881.2)"/>
<ellipse cx="242.6" cy="881.2" rx="8.7" ry="15" fill="none" stroke="#1c1c1c" stroke-width="1.2" transform="rotate(-30 242.6 881.2)"/>
<path d="M253.1 892.2 L252.4 892.4 L251.8 892.4 L251.1 892.4 L250.4 892.3 L249.7 892.1 L249 891.9 L248.2 891.6 L247.5 891.3 L246.8 890.9 L246 890.4 L245.3 889.9 L244.6 889.3 L243.8 888.6 L243.1 888 L242.5 887.2 L241.8 886.5 L241.2 885.7 L240.6 884.8 L240 883.9 L239.4 883.1 L238.9 882.1 L238.5 881.2 L238 880.3 L237.7 879.3 L237.3 878.3 L237 877.4 L236.8 876.4 L236.6 875.5 L236.5 874.6 L236.4 873.7 L236.3 872.8 L236.4 872 L236.4 871.1 L236.5 870.4 L236.7 869.6 L236.9 868.9 L237.2 868.3 L237.5 867.7 L237.9 867.1 L238.3 866.7" fill="none" stroke="#1c1c1c" stroke-width="1.2" stroke-linejoin="round" stroke-linecap="round"/>
<ellipse cx="242.6" cy="881.2" rx="10.1" ry="17.5" fill="none" stroke="#1c1c1c" stroke-width="0.9" transform="rotate(-30 242.6 881.2)"/>
<path d="M276.6 881.6 L274.9 881 L273.2 880.2 L271.5 879.1 L269.8 877.8 L268.1 876.3 L266.5 874.6 L265 872.7 L263.7 870.7 L262.4 868.6 L261.4 866.5 L260.5 864.3 L259.7 862 L259.2 859.8 L258.9 857.7 L258.8 855.6 L258.9 853.7 L259.2 851.9 L259.7 850.3 L260.4 848.9 L261.3 847.7 L262.4 846.8 L263.6 846.1 L265 845.6 L266.4 845.4 L268 845.5 L269.7 845.9 L271.4 846.5 L273.1 847.4 L274.8 848.5 L276.5 849.9 L278.1 851.4 L279.7 853.2 L281.2 855.1 L282.5 857.1 L283.7 859.2 L284.8 861.4 L285.6 863.6 L286.3 865.8 L286.8 868 L287.1 870.1 L287.1 872.2 L287 874.1 L286.6 875.8 L286.1 877.4 L285.3 878.8 L284.4 879.9 L283.3 880.8 L282 881.5 L280.5 878.4 L281.5 877.9 L282.5 877.2 L283.2 876.2 L283.8 875.1 L284.3 873.8 L284.6 872.3 L284.7 870.7 L284.7 869 L284.4 867.3 L284 865.5 L283.5 863.6 L282.8 861.8 L281.9 860 L280.9 858.2 L279.8 856.5 L278.6 855 L277.3 853.5 L275.9 852.2 L274.5 851.1 L273.1 850.2 L271.6 849.4 L270.2 848.9 L268.9 848.6 L267.5 848.5 L266.3 848.7 L265.2 849.1 L264.2 849.6 L263.3 850.4 L262.5 851.4 L262 852.6 L261.5 853.9 L261.3 855.4 L261.2 857 L261.3 858.7 L261.5 860.5 L262 862.3 L262.6 864.2 L263.3 866 L264.2 867.8 L265.2 869.5 L266.4 871.2 L267.6 872.7 L268.9 874.2 L270.3 875.4 L271.7 876.5 L273.1 877.4 L274.6 878.1 L276 878.6 Z" fill="#fff" stroke="#1c1c1c" stroke-width="1.4" stroke-linejoin="round" stroke-linecap="round"/>
<line x1="135.3" y1="943.2" x2="147.4" y2="936.2" stroke="#1c1c1c" stroke-width="1.25" stroke-linecap="butt"/>
<line x1="180.3" y1="917.2" x2="189.8" y2="911.7" stroke="#1c1c1c" stroke-width="1.25" stroke-linecap="butt"/>
<line x1="222.7" y1="892.7" x2="235.7" y2="885.2" stroke="#1c1c1c" stroke-width="1.25" stroke-linecap="butt"/>
<line x1="251.3" y1="876.2" x2="268.6" y2="866.2" stroke="#1c1c1c" stroke-width="1.25" stroke-linecap="butt"/>
<line x1="280.8" y1="859.2" x2="324.1" y2="834.2" stroke="#1c1c1c" stroke-width="1.25" stroke-linecap="butt"/>
<path d="M164.5 1030.3 L187 1017.3 A3 5.2 -30 0 0 181.8 1008.3 L159.3 1021.3 Z" fill="#fff" stroke="#1c1c1c" stroke-width="1.5" stroke-linejoin="round" stroke-linecap="round"/>
<ellipse cx="161.9" cy="1025.8" rx="3" ry="5.2" fill="#fff" stroke="#1c1c1c" stroke-width="1.5" transform="rotate(-30 161.9 1025.8)"/>
<path d="M169.1 1015.6 L170 1015.4 L171.1 1015.6 L172.3 1016.3 L173.4 1017.3 L174.3 1018.6 L175 1020.1 L175.4 1021.6 L175.3 1022.9 L175 1024 L174.3 1024.6" fill="none" stroke="#1c1c1c" stroke-width="1.0" stroke-linejoin="round" stroke-linecap="round"/>
<path d="M171.4 1014.3 L172.4 1014.1 L173.5 1014.3 L174.6 1014.9 L175.7 1016 L176.6 1017.3 L177.3 1018.8 L177.7 1020.2 L177.7 1021.6 L177.3 1022.6 L176.6 1023.3" fill="none" stroke="#1c1c1c" stroke-width="1.0" stroke-linejoin="round" stroke-linecap="round"/>
<path d="M173.7 1013 L174.7 1012.7 L175.8 1012.9 L176.9 1013.6 L178 1014.6 L178.9 1016 L179.6 1017.4 L180 1018.9 L180 1020.2 L179.6 1021.3 L178.9 1022" fill="none" stroke="#1c1c1c" stroke-width="1.0" stroke-linejoin="round" stroke-linecap="round"/>
<path d="M176 1011.6 L177 1011.4 L178.1 1011.6 L179.2 1012.3 L180.3 1013.3 L181.3 1014.6 L181.9 1016.1 L182.3 1017.6 L182.3 1018.9 L181.9 1020 L181.2 1020.6" fill="none" stroke="#1c1c1c" stroke-width="1.0" stroke-linejoin="round" stroke-linecap="round"/>
<path d="M178.3 1010.3 L179.3 1010.1 L180.4 1010.3 L181.5 1010.9 L182.6 1012 L183.6 1013.3 L184.2 1014.8 L184.6 1016.2 L184.6 1017.6 L184.2 1018.6 L183.5 1019.3" fill="none" stroke="#1c1c1c" stroke-width="1.0" stroke-linejoin="round" stroke-linecap="round"/>
<path d="M180.7 1009 L181.6 1008.7 L182.7 1008.9 L183.8 1009.6 L184.9 1010.6 L185.9 1012 L186.5 1013.4 L186.9 1014.9 L186.9 1016.2 L186.5 1017.3 L185.9 1018" fill="none" stroke="#1c1c1c" stroke-width="1.0" stroke-linejoin="round" stroke-linecap="round"/>
<path d="M164.2 1041.8 L166.4 1040.5 A8.7 15 -30 0 0 151.4 1014.6 L149.2 1015.8 Z" fill="#fff" stroke="#1c1c1c" stroke-width="1.7" stroke-linejoin="round" stroke-linecap="round"/>
<ellipse cx="156.7" cy="1028.8" rx="8.7" ry="15" fill="#fff" stroke="#1c1c1c" stroke-width="1.7" transform="rotate(-30 156.7 1028.8)"/>
<ellipse cx="157.2" cy="1028.5" rx="7.2" ry="12.5" fill="none" stroke="#1c1c1c" stroke-width="0.9" transform="rotate(-30 157.2 1028.5)"/>
<ellipse cx="155.7" cy="1029.8" rx="2.6" ry="3.6" fill="#222" stroke="#1c1c1c" stroke-width="1" transform="rotate(-30 155.7 1029.8)"/>
<ellipse cx="155.7" cy="1029.8" rx="3.7" ry="6.3" fill="none" stroke="#1c1c1c" stroke-width="0.9" transform="rotate(-30 155.7 1029.8)"/>
<path d="M172 985 C171 978 176 974 184 974 C190 974 192 978 196 976 C202 968 214 964 224 973 C232 980 238 990 235 1001 C231 1006 224 1006 220 1002 C214 996 216 988 210 986 C204 986 200 992 196 996 C190 1001 181 1002 176 998 C172 995 172 990 172 985 Z" fill="#fff" stroke="#1c1c1c" stroke-width="1.7" stroke-linejoin="round" stroke-linecap="round"/>
<ellipse cx="224.5" cy="992" rx="5.8" ry="10" fill="none" stroke="#1c1c1c" stroke-width="1.4" transform="rotate(-30 224.5 992)"/>
<ellipse cx="178.5" cy="990" rx="4" ry="6" fill="none" stroke="#1c1c1c" stroke-width="1.3" transform="rotate(-30 178.5 990)"/>
<path d="M176 981 C182 980 186 984 186 990" fill="none" stroke="#1c1c1c" stroke-width="1.0" stroke-linejoin="round" stroke-linecap="round"/>
<ellipse cx="248.2" cy="977.3" rx="9" ry="15.5" fill="#fff" stroke="#1c1c1c" stroke-width="1.6" transform="rotate(-30 248.2 977.3)"/>
<ellipse cx="248.2" cy="977.3" rx="3.5" ry="6" fill="none" stroke="#1c1c1c" stroke-width="1.3" transform="rotate(-30 248.2 977.3)"/>
<path d="M263 908 C266 918 268 928 272 938 C274 944 278 946 282 944" fill="none" stroke="#1c1c1c" stroke-width="3.2" stroke-linejoin="round" stroke-linecap="round"/>
<path d="M263 908 C266 918 268 928 272 938 C274 944 278 946 282 944" fill="none" stroke="#fff" stroke-width="0.6" stroke-linejoin="round" stroke-linecap="round"/>
<path d="M286 942 L256 958 L251 955" fill="none" stroke="#1c1c1c" stroke-width="3.2" stroke-linejoin="round" stroke-linecap="round"/>
<path d="M286 942 L256 958 L251 955" fill="none" stroke="#fff" stroke-width="0.6" stroke-linejoin="round" stroke-linecap="round"/>
<ellipse cx="293.4" cy="952.5" rx="7.8" ry="13.5" fill="#fff" stroke="#1c1c1c" stroke-width="2.0" transform="rotate(-30 293.4 952.5)"/>
<ellipse cx="296.2" cy="950.9" rx="7.8" ry="13.5" fill="none" stroke="#1c1c1c" stroke-width="2.0" transform="rotate(-30 296.2 950.9)"/>
<ellipse cx="298.9" cy="949.3" rx="7.8" ry="13.5" fill="none" stroke="#1c1c1c" stroke-width="2.0" transform="rotate(-30 298.9 949.3)"/>
<ellipse cx="301.7" cy="947.7" rx="7.8" ry="13.5" fill="none" stroke="#1c1c1c" stroke-width="2.0" transform="rotate(-30 301.7 947.7)"/>
<ellipse cx="293.4" cy="952.5" rx="5.5" ry="9.5" fill="none" stroke="#1c1c1c" stroke-width="1.2" transform="rotate(-30 293.4 952.5)"/>
<ellipse cx="293.4" cy="952.5" rx="6.7" ry="11.5" fill="none" stroke="#1c1c1c" stroke-width="0.8" transform="rotate(-30 293.4 952.5)"/>
<line x1="184.4" y1="1012.8" x2="200" y2="1003.8" stroke="#1c1c1c" stroke-width="1.25" stroke-linecap="butt"/>
<line x1="210.4" y1="997.8" x2="219.1" y2="992.8" stroke="#1c1c1c" stroke-width="1.25" stroke-linecap="butt"/>
<line x1="232.9" y1="984.8" x2="239.8" y2="980.8" stroke="#1c1c1c" stroke-width="1.25" stroke-linecap="butt"/>
<line x1="253.7" y1="972.8" x2="286.6" y2="953.8" stroke="#1c1c1c" stroke-width="1.25" stroke-linecap="butt"/>
<line x1="300.5" y1="945.8" x2="316" y2="936.8" stroke="#1c1c1c" stroke-width="1.25" stroke-linecap="butt"/>
<path d="M316.5 938 L316.5 893 L449 818" fill="none" stroke="#1c1c1c" stroke-width="1.25" stroke-linejoin="miter" stroke-linecap="butt" stroke-dasharray="26 5 5 5"/>
<path d="M331.2 1095.4 L335.5 1092.9 A13.3 23 -30 0 0 312.5 1053.1 L308.2 1055.6 Z" fill="#fff" stroke="#1c1c1c" stroke-width="1.6" stroke-linejoin="round" stroke-linecap="round"/>
<ellipse cx="319.7" cy="1075.5" rx="13.3" ry="23" fill="#fff" stroke="#1c1c1c" stroke-width="1.6" transform="rotate(-30 319.7 1075.5)"/>
<ellipse cx="319.7" cy="1075.5" rx="8.7" ry="15" fill="none" stroke="#1c1c1c" stroke-width="1.2" transform="rotate(-30 319.7 1075.5)"/>
<path d="M330.1 1086.5 L329.5 1086.7 L328.8 1086.7 L328.2 1086.7 L327.5 1086.6 L326.8 1086.4 L326 1086.2 L325.3 1085.9 L324.6 1085.6 L323.8 1085.2 L323.1 1084.7 L322.3 1084.2 L321.6 1083.6 L320.9 1082.9 L320.2 1082.3 L319.5 1081.5 L318.9 1080.8 L318.2 1080 L317.6 1079.1 L317 1078.2 L316.5 1077.3 L316 1076.4 L315.5 1075.5 L315.1 1074.6 L314.7 1073.6 L314.4 1072.6 L314.1 1071.7 L313.9 1070.7 L313.7 1069.8 L313.5 1068.9 L313.4 1068 L313.4 1067.1 L313.4 1066.3 L313.5 1065.4 L313.6 1064.7 L313.8 1063.9 L314 1063.2 L314.3 1062.6 L314.6 1062 L314.9 1061.4 L315.3 1061" fill="none" stroke="#1c1c1c" stroke-width="1.2" stroke-linejoin="round" stroke-linecap="round"/>
<ellipse cx="319.7" cy="1075.5" rx="10.7" ry="18.5" fill="none" stroke="#1c1c1c" stroke-width="0.9" transform="rotate(-30 319.7 1075.5)"/>
<path d="M340 1064 L614 907" fill="none" stroke="#1c1c1c" stroke-width="1.25" stroke-linejoin="miter" stroke-linecap="butt" stroke-dasharray="26 5 5 5"/>
<path d="M443.1 1203.2 L451.8 1198.2 A4.2 7.2 -30 0 0 444.6 1185.8 L435.9 1190.8 Z" fill="#fff" stroke="#1c1c1c" stroke-width="1.6" stroke-linejoin="round" stroke-linecap="round"/>
<ellipse cx="439.5" cy="1197" rx="4.2" ry="7.2" fill="#fff" stroke="#1c1c1c" stroke-width="1.6" transform="rotate(-30 439.5 1197)"/>
<path d="M438.5 1189.3 L439.8 1188.9 L441.3 1189.2 L442.9 1190.1 L444.4 1191.6 L445.7 1193.4 L446.7 1195.4 L447.1 1197.5 L447.1 1199.3 L446.6 1200.8 L445.7 1201.7" fill="none" stroke="#1c1c1c" stroke-width="1.0" stroke-linejoin="round" stroke-linecap="round"/>
<path d="M440.2 1188.3 L441.5 1187.9 L443 1188.2 L444.6 1189.1 L446.2 1190.6 L447.4 1192.4 L448.4 1194.4 L448.9 1196.5 L448.9 1198.3 L448.4 1199.8 L447.4 1200.7" fill="none" stroke="#1c1c1c" stroke-width="1.0" stroke-linejoin="round" stroke-linecap="round"/>
<path d="M442 1187.3 L443.3 1186.9 L444.8 1187.2 L446.4 1188.1 L447.9 1189.6 L449.2 1191.4 L450.1 1193.4 L450.6 1195.5 L450.6 1197.3 L450.1 1198.8 L449.2 1199.7" fill="none" stroke="#1c1c1c" stroke-width="1.0" stroke-linejoin="round" stroke-linecap="round"/>
<path d="M443.7 1186.3 L445 1185.9 L446.5 1186.2 L448.1 1187.1 L449.6 1188.6 L450.9 1190.4 L451.8 1192.4 L452.3 1194.5 L452.3 1196.3 L451.8 1197.8 L450.9 1198.7" fill="none" stroke="#1c1c1c" stroke-width="1.0" stroke-linejoin="round" stroke-linecap="round"/>
<ellipse cx="439.5" cy="1197" rx="2.3" ry="4" fill="none" stroke="#1c1c1c" stroke-width="1.2" transform="rotate(-30 439.5 1197)"/>
<path d="M452 1189 L578 1116" fill="none" stroke="#1c1c1c" stroke-width="1.25" stroke-linejoin="miter" stroke-linecap="butt" stroke-dasharray="26 5 5 5"/>
<path d="M483.5 1186.5 L490 1203 L427.5 1239" fill="none" stroke="#1c1c1c" stroke-width="1.25" stroke-linejoin="miter" stroke-linecap="butt" stroke-dasharray="26 5 5 5"/>
<line x1="427.5" y1="1239" x2="437" y2="1262" stroke="#1c1c1c" stroke-width="1.25" stroke-linecap="butt"/>
<ellipse cx="437.6" cy="1266" rx="10.5" ry="4.2" fill="#fff" stroke="#1c1c1c" stroke-width="1.5" transform="rotate(-8 437.6 1266)"/>
<ellipse cx="437.6" cy="1266" rx="7" ry="2.4" fill="none" stroke="#1c1c1c" stroke-width="1.0" transform="rotate(-8 437.6 1266)"/>
<line x1="438.5" y1="1270" x2="445" y2="1283" stroke="#1c1c1c" stroke-width="1.25" stroke-linecap="butt"/>
<path d="M441 1287 L441 1296 C441 1301 458 1299 459 1293 L458 1285 C456 1281 442 1283 441 1287 Z" fill="#fff" stroke="#1c1c1c" stroke-width="1.5" stroke-linejoin="round" stroke-linecap="round"/>
<ellipse cx="449" cy="1284.5" rx="7.5" ry="3.2" fill="#fff" stroke="#1c1c1c" stroke-width="1.3" transform="rotate(-8 449 1284.5)"/>
<path d="M442 1288 C446 1290.5 454 1289.5 458 1286.5" fill="none" stroke="#1c1c1c" stroke-width="0.9" stroke-linejoin="round" stroke-linecap="round"/>
<path d="M442 1291 C446 1293.5 454 1292.5 458 1289.5" fill="none" stroke="#1c1c1c" stroke-width="0.9" stroke-linejoin="round" stroke-linecap="round"/>
<path d="M442 1294 C446 1296.5 454 1295.5 458 1292.5" fill="none" stroke="#1c1c1c" stroke-width="0.9" stroke-linejoin="round" stroke-linecap="round"/>
<path d="M439 1296 C438 1302 444 1305 452 1304 C458 1303 461 1299 460 1294" fill="none" stroke="#1c1c1c" stroke-width="1.6" stroke-linejoin="round" stroke-linecap="round"/>
<path d="M484.1 1252.7 L502.2 1242.2 A7.9 13.7 -30 0 0 488.5 1218.4 L470.3 1228.9 Z" fill="#fff" stroke="#1c1c1c" stroke-width="1.7" stroke-linejoin="round" stroke-linecap="round"/>
<ellipse cx="477.2" cy="1240.8" rx="7.9" ry="13.7" fill="#fff" stroke="#1c1c1c" stroke-width="1.7" transform="rotate(-30 477.2 1240.8)"/>
<ellipse cx="477.2" cy="1240.8" rx="3.5" ry="6" fill="none" stroke="#1c1c1c" stroke-width="1.3" transform="rotate(-30 477.2 1240.8)"/>
<ellipse cx="477.2" cy="1240.8" rx="6.7" ry="11.5" fill="none" stroke="#1c1c1c" stroke-width="0.9" transform="rotate(-30 477.2 1240.8)"/>
<path d="M502 1228 L624 1157" fill="none" stroke="#1c1c1c" stroke-width="1.25" stroke-linejoin="miter" stroke-linecap="butt" stroke-dasharray="26 5 5 5"/>
<line x1="546.7" y1="1230" x2="546.7" y2="1282" stroke="#1c1c1c" stroke-width="1.25" stroke-linecap="butt" stroke-dasharray="9 5"/>
<path d="M540.4 1281 L553 1281 L546.7 1299 Z" fill="#111" stroke="#1c1c1c" stroke-width="0.5" stroke-linejoin="round" stroke-linecap="round"/>
<path d="M590 1231 L602 1228 C610 1226 614 1220 620 1216 C630 1210 648 1208 658 1213 L666 1214 C674 1212 678 1218 677 1223 C676 1228 668 1230 660 1228 L652 1226 C652 1232 646 1238 636 1239 L598 1242 C594 1240 591 1236 590 1231 Z" fill="#fff" stroke="#1c1c1c" stroke-width="1.6" stroke-linejoin="round" stroke-linecap="round"/>
<ellipse cx="632" cy="1228.5" rx="12" ry="5.5" fill="none" stroke="#1c1c1c" stroke-width="1.4" transform="rotate(-8 632 1228.5)"/>
<path d="M617 1221 C626 1217 642 1217 650 1221" fill="none" stroke="#1c1c1c" stroke-width="1.0" stroke-linejoin="round" stroke-linecap="round"/>
<line x1="624.5" y1="1184" x2="631" y2="1222" stroke="#1c1c1c" stroke-width="1.25" stroke-linecap="butt"/>
<line x1="634.5" y1="1240" x2="636" y2="1248" stroke="#1c1c1c" stroke-width="1.25" stroke-linecap="butt"/>
<path d="M627.5 1250 L628 1262 L623 1266 L624 1274 L631 1279 L632 1288 C636 1292 650 1291 655 1286 L655 1277 L658 1270 L657 1262 L652 1259 L652 1247 C648 1244 632 1245 627.5 1250 Z" fill="#fff" stroke="#1c1c1c" stroke-width="1.6" stroke-linejoin="round" stroke-linecap="round"/>
<ellipse cx="640" cy="1247.5" rx="12.3" ry="4.6" fill="#fff" stroke="#1c1c1c" stroke-width="1.3" transform="rotate(-6 640 1247.5)"/>
<ellipse cx="640" cy="1247.5" rx="7" ry="2.4" fill="none" stroke="#1c1c1c" stroke-width="1.0" transform="rotate(-6 640 1247.5)"/>
<path d="M628 1252 C634 1255.5 646 1254.5 652 1250" fill="none" stroke="#1c1c1c" stroke-width="0.9" stroke-linejoin="round" stroke-linecap="round"/>
<path d="M628 1255.5 C634 1259.0 646 1258.0 652 1253.5" fill="none" stroke="#1c1c1c" stroke-width="0.9" stroke-linejoin="round" stroke-linecap="round"/>
<path d="M628 1259 C634 1262.5 646 1261.5 652 1257" fill="none" stroke="#1c1c1c" stroke-width="0.9" stroke-linejoin="round" stroke-linecap="round"/>
<path d="M631.5 1280 C637 1283.5 649 1282.5 655 1278" fill="none" stroke="#1c1c1c" stroke-width="0.9" stroke-linejoin="round" stroke-linecap="round"/>
<path d="M631.5 1283.5 C637 1287.0 649 1286.0 655 1281.5" fill="none" stroke="#1c1c1c" stroke-width="0.9" stroke-linejoin="round" stroke-linecap="round"/>
<path d="M631.5 1287 C637 1290.5 649 1289.5 655 1285" fill="none" stroke="#1c1c1c" stroke-width="0.9" stroke-linejoin="round" stroke-linecap="round"/>
<path d="M623 1266 C632 1271 648 1270 657 1262" fill="none" stroke="#1c1c1c" stroke-width="1.1" stroke-linejoin="round" stroke-linecap="round"/>
<path d="M624 1274 C633 1279 649 1278 658 1270" fill="none" stroke="#1c1c1c" stroke-width="1.1" stroke-linejoin="round" stroke-linecap="round"/>
<path d="M741.9 1162.1 L722.8 1151.1 A5.2 9 30 0 1 731.8 1135.5 L750.9 1146.5 Z" fill="#fff" stroke="#1c1c1c" stroke-width="1.5" stroke-linejoin="round" stroke-linecap="round"/>
<path d="M723.6 1151.5 L722.4 1150.3 L721.8 1148.5 L721.8 1146.2 L722.4 1143.6 L723.5 1141.1 L725.1 1138.8 L727 1137 L729 1135.9 L730.9 1135.5 L732.6 1135.9" fill="none" stroke="#1c1c1c" stroke-width="1.0" stroke-linejoin="round" stroke-linecap="round"/>
<path d="M725.9 1152.9 L724.8 1151.7 L724.1 1149.9 L724.1 1147.6 L724.7 1145 L725.9 1142.5 L727.5 1140.2 L729.4 1138.4 L731.4 1137.2 L733.3 1136.9 L734.9 1137.3" fill="none" stroke="#1c1c1c" stroke-width="1.0" stroke-linejoin="round" stroke-linecap="round"/>
<path d="M728.3 1154.3 L727.1 1153.1 L726.5 1151.2 L726.5 1148.9 L727.1 1146.4 L728.3 1143.9 L729.9 1141.6 L731.8 1139.8 L733.8 1138.6 L735.7 1138.2 L737.3 1138.7" fill="none" stroke="#1c1c1c" stroke-width="1.0" stroke-linejoin="round" stroke-linecap="round"/>
<path d="M730.7 1155.6 L729.5 1154.4 L728.9 1152.6 L728.9 1150.3 L729.5 1147.8 L730.7 1145.2 L732.3 1142.9 L734.2 1141.1 L736.2 1140 L738.1 1139.6 L739.7 1140" fill="none" stroke="#1c1c1c" stroke-width="1.0" stroke-linejoin="round" stroke-linecap="round"/>
<path d="M733.1 1157 L731.9 1155.8 L731.3 1154 L731.3 1151.7 L731.9 1149.1 L733.1 1146.6 L734.7 1144.3 L736.6 1142.5 L738.6 1141.4 L740.5 1141 L742.1 1141.4" fill="none" stroke="#1c1c1c" stroke-width="1.0" stroke-linejoin="round" stroke-linecap="round"/>
<path d="M735.5 1158.4 L734.3 1157.2 L733.7 1155.4 L733.7 1153.1 L734.3 1150.5 L735.4 1148 L737.1 1145.7 L738.9 1143.9 L740.9 1142.7 L742.8 1142.4 L744.5 1142.8" fill="none" stroke="#1c1c1c" stroke-width="1.0" stroke-linejoin="round" stroke-linecap="round"/>
<path d="M737.8 1159.8 L736.7 1158.6 L736 1156.7 L736 1154.4 L736.7 1151.9 L737.8 1149.4 L739.4 1147.1 L741.3 1145.3 L743.3 1144.1 L745.2 1143.7 L746.8 1144.2" fill="none" stroke="#1c1c1c" stroke-width="1.0" stroke-linejoin="round" stroke-linecap="round"/>
<path d="M740.2 1161.1 L739 1159.9 L738.4 1158.1 L738.4 1155.8 L739 1153.3 L740.2 1150.7 L741.8 1148.4 L743.7 1146.6 L745.7 1145.5 L747.6 1145.1 L749.2 1145.5" fill="none" stroke="#1c1c1c" stroke-width="1.0" stroke-linejoin="round" stroke-linecap="round"/>
<ellipse cx="746.4" cy="1154.3" rx="5.2" ry="9" fill="#fff" stroke="#1c1c1c" stroke-width="1.5" transform="rotate(30 746.4 1154.3)"/>
<ellipse cx="767.2" cy="1166.3" rx="7.2" ry="12.5" fill="#fff" stroke="#1c1c1c" stroke-width="1.6" transform="rotate(30 767.2 1166.3)"/>
<ellipse cx="767.2" cy="1166.3" rx="3.5" ry="6" fill="none" stroke="#1c1c1c" stroke-width="1.2" transform="rotate(30 767.2 1166.3)"/>
<ellipse cx="766" cy="1165.6" rx="5.2" ry="9" fill="none" stroke="#1c1c1c" stroke-width="0.8" transform="rotate(30 766 1165.6)"/>
<path d="M792.5 1190.4 L775.2 1180.4 A4.8 8.2 30 0 1 783.4 1166.2 L800.7 1176.2 Z" fill="#fff" stroke="#1c1c1c" stroke-width="1.5" stroke-linejoin="round" stroke-linecap="round"/>
<path d="M775.9 1180.8 L774.9 1179.7 L774.3 1178.1 L774.3 1176 L774.9 1173.7 L775.9 1171.4 L777.4 1169.3 L779.1 1167.6 L780.9 1166.6 L782.7 1166.2 L784.1 1166.6" fill="none" stroke="#1c1c1c" stroke-width="1.0" stroke-linejoin="round" stroke-linecap="round"/>
<path d="M778.4 1182.3 L777.3 1181.2 L776.8 1179.5 L776.8 1177.4 L777.3 1175.1 L778.4 1172.8 L779.9 1170.7 L781.6 1169.1 L783.4 1168 L785.1 1167.7 L786.6 1168.1" fill="none" stroke="#1c1c1c" stroke-width="1.0" stroke-linejoin="round" stroke-linecap="round"/>
<path d="M780.9 1183.7 L779.8 1182.6 L779.3 1180.9 L779.3 1178.8 L779.8 1176.5 L780.9 1174.2 L782.3 1172.1 L784.1 1170.5 L785.9 1169.4 L787.6 1169.1 L789.1 1169.5" fill="none" stroke="#1c1c1c" stroke-width="1.0" stroke-linejoin="round" stroke-linecap="round"/>
<path d="M783.4 1185.1 L782.3 1184 L781.7 1182.4 L781.7 1180.3 L782.3 1177.9 L783.3 1175.6 L784.8 1173.6 L786.5 1171.9 L788.4 1170.9 L790.1 1170.5 L791.6 1170.9" fill="none" stroke="#1c1c1c" stroke-width="1.0" stroke-linejoin="round" stroke-linecap="round"/>
<path d="M785.8 1186.5 L784.8 1185.5 L784.2 1183.8 L784.2 1181.7 L784.8 1179.4 L785.8 1177.1 L787.3 1175 L789 1173.3 L790.8 1172.3 L792.6 1172 L794 1172.3" fill="none" stroke="#1c1c1c" stroke-width="1.0" stroke-linejoin="round" stroke-linecap="round"/>
<path d="M788.3 1188 L787.2 1186.9 L786.7 1185.2 L786.7 1183.1 L787.2 1180.8 L788.3 1178.5 L789.8 1176.4 L791.5 1174.8 L793.3 1173.7 L795 1173.4 L796.5 1173.8" fill="none" stroke="#1c1c1c" stroke-width="1.0" stroke-linejoin="round" stroke-linecap="round"/>
<path d="M790.8 1189.4 L789.7 1188.3 L789.2 1186.6 L789.1 1184.6 L789.7 1182.2 L790.8 1179.9 L792.2 1177.8 L794 1176.2 L795.8 1175.2 L797.5 1174.8 L799 1175.2" fill="none" stroke="#1c1c1c" stroke-width="1.0" stroke-linejoin="round" stroke-linecap="round"/>
<ellipse cx="796.6" cy="1183.3" rx="4.8" ry="8.2" fill="#fff" stroke="#1c1c1c" stroke-width="1.5" transform="rotate(30 796.6 1183.3)"/>
<ellipse cx="798.8" cy="1184.6" rx="7.5" ry="13" fill="#fff" stroke="#1c1c1c" stroke-width="1.5" transform="rotate(30 798.8 1184.6)"/>
<ellipse cx="801.8" cy="1186.3" rx="7.5" ry="13" fill="#fff" stroke="#1c1c1c" stroke-width="1.6" transform="rotate(30 801.8 1186.3)"/>
<ellipse cx="802.6" cy="1186.9" rx="1.9" ry="3.3" fill="none" stroke="#1c1c1c" stroke-width="1.0" transform="rotate(30 802.6 1186.9)"/>
<ellipse cx="802.6" cy="1186.9" rx="1.2" ry="1.8" fill="#222" stroke="#1c1c1c" stroke-width="0.8" transform="rotate(30 802.6 1186.9)"/>
<line x1="653.7" y1="1100.8" x2="725.6" y2="1142.3" stroke="#1c1c1c" stroke-width="1.25" stroke-linecap="butt"/>
<line x1="749" y1="1155.8" x2="760.2" y2="1162.3" stroke="#1c1c1c" stroke-width="1.25" stroke-linecap="butt"/>
<line x1="772.4" y1="1169.3" x2="779.3" y2="1173.3" stroke="#1c1c1c" stroke-width="1.25" stroke-linecap="butt"/>
<path d="M453.5 470 C453 465 470 463.5 470.5 468.5 L471.5 479 C468 483 458 484 455 481 Z" fill="#fff" stroke="#1c1c1c" stroke-width="1.5" stroke-linejoin="round" stroke-linecap="round"/>
<ellipse cx="462" cy="468.8" rx="8.5" ry="3.4" fill="#fff" stroke="#1c1c1c" stroke-width="1.2" transform="rotate(-6 462 468.8)"/>
<ellipse cx="462" cy="468.8" rx="4.2" ry="1.7" fill="none" stroke="#1c1c1c" stroke-width="0.9" transform="rotate(-6 462 468.8)"/>
<path d="M458.5 482.5 L461 499 C463 502 470 501 471 498 L468 481.5" fill="#fff" stroke="#1c1c1c" stroke-width="1.4" stroke-linejoin="round" stroke-linecap="round"/>
<path d="M460 487 C463 488.8 467 488.2 470 486" fill="none" stroke="#1c1c1c" stroke-width="0.9" stroke-linejoin="round" stroke-linecap="round"/>
<path d="M460 490.5 C463 492.3 467 491.7 470 489.5" fill="none" stroke="#1c1c1c" stroke-width="0.9" stroke-linejoin="round" stroke-linecap="round"/>
<path d="M460 494 C463 495.8 467 495.2 470 493" fill="none" stroke="#1c1c1c" stroke-width="0.9" stroke-linejoin="round" stroke-linecap="round"/>
<path d="M460 497.5 C463 499.3 467 498.7 470 496.5" fill="none" stroke="#1c1c1c" stroke-width="0.9" stroke-linejoin="round" stroke-linecap="round"/>
<path d="M470.5 502 L473 526.5 L445 526.5" fill="none" stroke="#1c1c1c" stroke-width="1.25" stroke-linejoin="round" stroke-linecap="round"/>
<path d="M357.8 557.5 C356.4 556.9 351.8 555.8 349 554.2 C346.3 552.6 343.4 550.7 341.5 547.9 C339.6 545.2 337.8 541.7 337.8 537.9 C337.8 534.2 340.9 527.5 341.5 525.4 L341.5 525.4 L375.4 494 L375.4 494 C377.3 493.1 382.9 488.9 386.7 488.3 C390.4 487.6 394.7 488.3 397.9 490.3 C401.2 492.2 403.9 496.8 406 499.8 C408.1 502.8 409.7 506.9 410.5 508.3 L410.5 508.3 C413 509.3 421.4 511.8 425.5 514.1 C429.6 516.4 433.1 519 435.1 522.4 C437 525.7 437.7 529.5 437.1 534.2 C436.4 538.8 432 547.7 431 550.5 L431 550.5 C430.1 551.8 429.8 555.7 425.5 558.5 C421.3 561.2 412.2 565.8 405.5 567 C398.8 568.2 391.2 566.8 385.4 565.5 C379.6 564.2 373.8 561.2 370.9 559.5 C367.9 557.8 368.4 556.1 367.9 555.5 L367.9 555.5 L357.8 557.5 Z" fill="#fff" stroke="#1c1c1c" stroke-width="2.1" stroke-linejoin="round" stroke-linecap="round"/>
<ellipse cx="356.6" cy="540.4" rx="15.3" ry="18.3" fill="#fff" stroke="#1c1c1c" stroke-width="1.9" transform="rotate(-24 356.6 540.4)"/>
<ellipse cx="355.6" cy="541.4" rx="11.8" ry="14.8" fill="none" stroke="#1c1c1c" stroke-width="1.2" transform="rotate(-24 355.6 541.4)"/>
<path d="M367.9 525.4 C369.1 527.3 374.3 532.5 375.4 536.7 C376.4 540.8 374.3 548.2 374.1 550.5" fill="none" stroke="#1c1c1c" stroke-width="1.0" stroke-linejoin="round" stroke-linecap="round"/>
<path d="M370.4 549.9 C373.7 546.7 385.4 535.7 390.4 530.4 C395.4 525 397.9 522.1 400.5 517.9 C403 513.6 405 507 406 504.8" fill="none" stroke="#1c1c1c" stroke-width="1.0" stroke-linejoin="round" stroke-linecap="round"/>
<path d="M369.9 553.5 C373.3 551.4 383.2 543.7 390.4 540.9 C397.6 538.2 406.2 536.9 413 536.9 C419.8 536.9 428 540.3 431 540.9" fill="none" stroke="#1c1c1c" stroke-width="1.0" stroke-linejoin="round" stroke-linecap="round"/>
<path d="M369.9 562 C373.3 563.2 383.2 568 390.4 569 C397.6 570 406.5 569.6 413 568 C419.5 566.4 426.8 560.9 429.5 559.5" fill="none" stroke="#1c1c1c" stroke-width="1.1" stroke-linejoin="round" stroke-linecap="round"/>
<ellipse cx="403.5" cy="549.9" rx="5" ry="2.3" fill="none" stroke="#1c1c1c" stroke-width="1.0" transform="rotate(-8 403.5 549.9)"/>
<path d="M390.4 551 C391.3 550.3 392.1 547.9 395.4 546.9 C398.8 546 406.9 544.9 410.5 545.4 C414.1 546 416.6 548.5 417 550.5 C417.4 552.4 413.7 555.9 413 557" fill="none" stroke="#1c1c1c" stroke-width="1.0" stroke-linejoin="round" stroke-linecap="round"/>
<path d="M406 504.8 C405 505.3 401.8 505.7 400.5 507.8 C399.1 510 398.6 514.9 397.9 517.9 C397.3 520.8 396.9 524.1 396.7 525.4" fill="none" stroke="#1c1c1c" stroke-width="1.0" stroke-linejoin="round" stroke-linecap="round"/>
<path d="M410.5 510.3 C412.2 511.6 418 514.5 420.5 517.9 C423 521.2 424.5 526.6 425.5 530.4 C426.6 534.2 426.6 538.7 426.8 540.4" fill="none" stroke="#1c1c1c" stroke-width="0.9" stroke-linejoin="round" stroke-linecap="round"/>
<path d="M399.4 525.4 L403.5 547.9" fill="none" stroke="#1c1c1c" stroke-width="1.0" stroke-linejoin="round" stroke-linecap="round"/>
<path d="M441 526.8 L397 524.5" fill="none" stroke="#1c1c1c" stroke-width="1.25" stroke-linejoin="round" stroke-linecap="butt" stroke-dasharray="18 5 5 5"/>
<ellipse cx="406.7" cy="586.8" rx="31" ry="15.5" fill="none" stroke="#1c1c1c" stroke-width="3.6" transform="rotate(-8 406.7 586.8)"/>
<ellipse cx="406.7" cy="586.8" rx="31" ry="15.5" fill="none" stroke="#bbb" stroke-width="0.9" transform="rotate(-8 406.7 586.8)"/>
<ellipse cx="413.5" cy="620.7" rx="31" ry="15.5" fill="none" stroke="#1c1c1c" stroke-width="3.6" transform="rotate(-8 413.5 620.7)"/>
<ellipse cx="413.5" cy="620.7" rx="31" ry="15.5" fill="none" stroke="#bbb" stroke-width="0.9" transform="rotate(-8 413.5 620.7)"/>
<path d="M404.5 568 L434 724" fill="none" stroke="#1c1c1c" stroke-width="1.25" stroke-linejoin="miter" stroke-linecap="butt" stroke-dasharray="26 5 5 5"/>
<ellipse cx="655" cy="652" rx="7.2" ry="12.5" fill="#fff" stroke="#1c1c1c" stroke-width="1.5" transform="rotate(-30 655 652)"/>
<ellipse cx="655.5" cy="652" rx="2" ry="3.5" fill="none" stroke="#1c1c1c" stroke-width="1.1" transform="rotate(-30 655.5 652)"/>
<ellipse cx="653.5" cy="652.8" rx="6.1" ry="10.5" fill="none" stroke="#1c1c1c" stroke-width="0.8" transform="rotate(-30 653.5 652.8)"/>
<path d="M677.3 648 L686.8 642.5 A2.7 4.6 -30 0 0 682.2 634.5 L672.7 640 Z" fill="#fff" stroke="#1c1c1c" stroke-width="1.3" stroke-linejoin="round" stroke-linecap="round"/>
<ellipse cx="675" cy="644" rx="2.7" ry="4.6" fill="#fff" stroke="#1c1c1c" stroke-width="1.3" transform="rotate(-30 675 644)"/>
<path d="M673.6 639.5 L674.4 639.3 L675.4 639.5 L676.4 640.1 L677.4 641 L678.2 642.2 L678.8 643.5 L679.1 644.8 L679.1 645.9 L678.8 646.9 L678.2 647.5" fill="none" stroke="#1c1c1c" stroke-width="1.0" stroke-linejoin="round" stroke-linecap="round"/>
<path d="M675.3 638.5 L676.1 638.3 L677.1 638.5 L678.1 639.1 L679.1 640 L679.9 641.2 L680.5 642.5 L680.8 643.8 L680.8 644.9 L680.5 645.9 L679.9 646.5" fill="none" stroke="#1c1c1c" stroke-width="1.0" stroke-linejoin="round" stroke-linecap="round"/>
<path d="M677 637.5 L677.9 637.3 L678.8 637.5 L679.8 638.1 L680.8 639 L681.6 640.2 L682.2 641.5 L682.6 642.8 L682.5 643.9 L682.2 644.9 L681.6 645.5" fill="none" stroke="#1c1c1c" stroke-width="1.0" stroke-linejoin="round" stroke-linecap="round"/>
<path d="M678.8 636.5 L679.6 636.3 L680.6 636.5 L681.6 637.1 L682.5 638 L683.4 639.2 L684 640.5 L684.3 641.8 L684.3 642.9 L684 643.9 L683.4 644.5" fill="none" stroke="#1c1c1c" stroke-width="1.0" stroke-linejoin="round" stroke-linecap="round"/>
<path d="M680.5 635.5 L681.3 635.3 L682.3 635.5 L683.3 636.1 L684.3 637 L685.1 638.2 L685.7 639.5 L686 640.8 L686 641.9 L685.7 642.9 L685.1 643.5" fill="none" stroke="#1c1c1c" stroke-width="1.0" stroke-linejoin="round" stroke-linecap="round"/>
<ellipse cx="688.3" cy="636.8" rx="5.2" ry="9" fill="#fff" stroke="#1c1c1c" stroke-width="1.5" transform="rotate(-30 688.3 636.8)"/>
<path d="M683.7 629 C679 632 676 638 679 641" fill="none" stroke="#1c1c1c" stroke-width="1.2" stroke-linejoin="round" stroke-linecap="round"/>
<path d="M711.8 724.8 L723 718.3 A18.3 31.5 -30 0 0 691.5 663.7 L680.2 670.2 Z" fill="#fff" stroke="#1c1c1c" stroke-width="1.7" stroke-linejoin="round" stroke-linecap="round"/>
<ellipse cx="696" cy="697.5" rx="18.3" ry="31.5" fill="#fff" stroke="#1c1c1c" stroke-width="1.7" transform="rotate(-30 696 697.5)"/>
<ellipse cx="696" cy="697.5" rx="15.7" ry="27.1" fill="none" stroke="#1c1c1c" stroke-width="1.1" transform="rotate(-30 696 697.5)"/>
<ellipse cx="696" cy="697.5" rx="13.2" ry="22.7" fill="none" stroke="#1c1c1c" stroke-width="1.1" transform="rotate(-30 696 697.5)"/>
<ellipse cx="696" cy="697.5" rx="10" ry="17.3" fill="none" stroke="#1c1c1c" stroke-width="1.1" transform="rotate(-30 696 697.5)"/>
<ellipse cx="696" cy="697.5" rx="7.7" ry="13.2" fill="none" stroke="#1c1c1c" stroke-width="1.4" transform="rotate(-30 696 697.5)"/>
<path d="M708.5 690.3 L710.3 693.7 L711.7 697.3 L712.8 700.9 L713.4 704.3 L713.6 707.6 L713.4 710.7 L712.8 713.4 L711.7 715.8 L710.2 717.7 L708.4 719.1 L706.3 719.9 L704 720.2 L701.4 720 L698.7 719.2 L696 717.8 L693.2 716 L690.5 713.7 L688 711 L685.6 708 L683.5 704.7 L681.7 701.3 L680.3 697.7 L679.2 694.1 L678.6 690.7 L678.4 687.4 L678.6 684.3 L679.2 681.6 L680.3 679.2 L681.8 677.3 L683.6 675.9 L685.7 675.1 L688 674.8 L690.6 675 L693.3 675.8 L696 677.2 L698.8 679 L701.5 681.3 L704 684 L706.4 687 L708.5 690.3" fill="none" stroke="#1c1c1c" stroke-width="2.4" stroke-linejoin="round" stroke-linecap="round"/>
<path d="M653 690 C653 687 657 687 657.5 690 L659 700 C659 703 655 703 654.5 700 Z" fill="#fff" stroke="#1c1c1c" stroke-width="1.3" stroke-linejoin="round" stroke-linecap="round"/>
<path d="M650 656 L571 702 L573 772 L557 781" fill="none" stroke="#1c1c1c" stroke-width="1.25" stroke-linejoin="miter" stroke-linecap="butt" stroke-dasharray="26 5 5 5"/>
<path d="M852.2 700.9 L868.7 691.4 A27.5 47.5 -30 0 0 821.2 609.2 L804.8 618.7 Z" fill="#fff" stroke="#1c1c1c" stroke-width="1.7" stroke-linejoin="round" stroke-linecap="round"/>
<ellipse cx="828.5" cy="659.8" rx="27.5" ry="47.5" fill="#fff" stroke="#1c1c1c" stroke-width="1.7" transform="rotate(-30 828.5 659.8)"/>
<ellipse cx="828.5" cy="659.8" rx="24.8" ry="42.8" fill="none" stroke="#1c1c1c" stroke-width="1.1" transform="rotate(-30 828.5 659.8)"/>
<ellipse cx="828.5" cy="659.8" rx="21.5" ry="37.1" fill="none" stroke="#1c1c1c" stroke-width="1.1" transform="rotate(-30 828.5 659.8)"/>
<ellipse cx="828.5" cy="659.8" rx="16.5" ry="28.5" fill="none" stroke="#1c1c1c" stroke-width="1.1" transform="rotate(-30 828.5 659.8)"/>
<ellipse cx="828.5" cy="659.8" rx="12.9" ry="22.3" fill="none" stroke="#1c1c1c" stroke-width="1.1" transform="rotate(-30 828.5 659.8)"/>
<ellipse cx="828.5" cy="659.8" rx="9.9" ry="17.1" fill="none" stroke="#1c1c1c" stroke-width="1.4" transform="rotate(-30 828.5 659.8)"/>
<path d="M840.9 652.6 L842.7 656.1 L844.1 659.6 L845.2 663.1 L845.8 666.6 L846 669.9 L845.8 672.9 L845.1 675.6 L844.1 677.9 L842.6 679.8 L840.9 681.2 L838.8 682 L836.4 682.4 L833.9 682.1 L831.2 681.3 L828.5 680 L825.7 678.2 L823.1 675.9 L820.5 673.2 L818.2 670.2 L816.1 667 L814.3 663.5 L812.9 660 L811.8 656.5 L811.2 653 L811 649.7 L811.2 646.7 L811.9 644 L812.9 641.7 L814.4 639.8 L816.1 638.4 L818.2 637.6 L820.6 637.2 L823.1 637.5 L825.8 638.3 L828.5 639.6 L831.3 641.4 L833.9 643.7 L836.5 646.4 L838.8 649.4 L840.9 652.6" fill="none" stroke="#1c1c1c" stroke-width="2.2" stroke-linejoin="round" stroke-linecap="round"/>
<path d="M848.5 648.2 L851.4 653.8 L853.7 659.5 L855.4 665.2 L856.4 670.7 L856.8 676.1 L856.4 681 L855.4 685.3 L853.7 689.1 L851.3 692.1 L848.5 694.4 L845.1 695.7 L841.3 696.2 L837.2 695.8 L832.9 694.6 L828.4 692.4 L824 689.5 L819.7 685.8 L815.6 681.5 L811.8 676.6 L808.5 671.4 L805.6 665.8 L803.3 660.1 L801.6 654.4 L800.6 648.9 L800.2 643.5 L800.6 638.6 L801.6 634.3 L803.3 630.5 L805.7 627.5 L808.5 625.2 L811.9 623.9 L815.7 623.4 L819.8 623.8 L824.1 625 L828.6 627.2 L833 630.1 L837.3 633.8 L841.4 638.1 L845.2 643 L848.5 648.2" fill="none" stroke="#1c1c1c" stroke-width="1.8" stroke-linejoin="round" stroke-linecap="round"/>
<ellipse cx="807.4" cy="659" rx="3.5" ry="6" fill="none" stroke="#1c1c1c" stroke-width="0.9" transform="rotate(170 807.4 659)"/>
<ellipse cx="807.5" cy="636.4" rx="3.5" ry="6" fill="none" stroke="#1c1c1c" stroke-width="0.9" transform="rotate(220 807.5 636.4)"/>
<ellipse cx="822.5" cy="630.5" rx="3.5" ry="6" fill="none" stroke="#1c1c1c" stroke-width="0.9" transform="rotate(270 822.5 630.5)"/>
<ellipse cx="849.6" cy="660.6" rx="3.5" ry="6" fill="none" stroke="#1c1c1c" stroke-width="0.9" transform="rotate(-10 849.6 660.6)"/>
<ellipse cx="849.5" cy="683.2" rx="3.5" ry="6" fill="none" stroke="#1c1c1c" stroke-width="0.9" transform="rotate(40 849.5 683.2)"/>
<path d="M820.8 817.8 L830.1 812.5 A16.2 28 -30 0 0 802.1 764 L792.8 769.4 Z" fill="#fff" stroke="#1c1c1c" stroke-width="1.7" stroke-linejoin="round" stroke-linecap="round"/>
<ellipse cx="806.8" cy="793.6" rx="16.2" ry="28" fill="#fff" stroke="#1c1c1c" stroke-width="1.7" transform="rotate(-30 806.8 793.6)"/>
<ellipse cx="806.8" cy="793.6" rx="12" ry="20.7" fill="none" stroke="#1c1c1c" stroke-width="1.3" transform="rotate(-30 806.8 793.6)"/>
<ellipse cx="806.8" cy="793.6" rx="14.3" ry="24.6" fill="none" stroke="#1c1c1c" stroke-width="0.9" transform="rotate(-30 806.8 793.6)"/>
<line x1="811.8" y1="812.4" x2="819.7" y2="807.8" stroke="#1c1c1c" stroke-width="0.9" stroke-linecap="butt"/>
<line x1="806.8" y1="810.5" x2="815.9" y2="805.3" stroke="#1c1c1c" stroke-width="0.9" stroke-linecap="butt"/>
<line x1="801.7" y1="806.6" x2="811.7" y2="800.9" stroke="#1c1c1c" stroke-width="0.9" stroke-linecap="butt"/>
<line x1="797.3" y1="801.1" x2="807.7" y2="795.2" stroke="#1c1c1c" stroke-width="0.9" stroke-linecap="butt"/>
<line x1="794.1" y1="794.8" x2="804.3" y2="788.8" stroke="#1c1c1c" stroke-width="0.9" stroke-linecap="butt"/>
<line x1="792.3" y1="788.2" x2="801.9" y2="782.7" stroke="#1c1c1c" stroke-width="0.9" stroke-linecap="butt"/>
<line x1="792.3" y1="782.3" x2="800.9" y2="777.4" stroke="#1c1c1c" stroke-width="0.9" stroke-linecap="butt"/>
<path d="M817.2 787.6 L818.7 790.5 L819.9 793.4 L820.8 796.4 L821.3 799.3 L821.5 802 L821.3 804.6 L820.8 806.9 L819.9 808.8 L818.7 810.4 L817.2 811.5 L815.4 812.3 L813.4 812.5 L811.3 812.3 L809.1 811.6 L806.8 810.5 L804.5 809 L802.2 807.1 L800.1 804.9 L798.1 802.3 L796.4 799.6 L794.9 796.7 L793.7 793.8 L792.8 790.8 L792.3 787.9 L792.1 785.2 L792.3 782.6 L792.8 780.3 L793.7 778.4 L794.9 776.8 L796.4 775.7 L798.2 774.9 L800.2 774.7 L802.3 774.9 L804.5 775.6 L806.8 776.7 L809.1 778.2 L811.4 780.1 L813.5 782.3 L815.5 784.9 L817.2 787.6" fill="none" stroke="#1c1c1c" stroke-width="2.6" stroke-linejoin="round" stroke-linecap="round"/>
<path d="M815.2 788.7 L816.4 791.1 L817.4 793.5 L818.1 795.9 L818.6 798.2 L818.7 800.4 L818.6 802.5 L818.1 804.4 L817.4 805.9 L816.4 807.2 L815.2 808.1 L813.8 808.7 L812.2 808.9 L810.5 808.8 L808.6 808.2 L806.8 807.3 L804.9 806.1 L803.1 804.5 L801.4 802.7 L799.8 800.7 L798.4 798.5 L797.2 796.1 L796.2 793.7 L795.5 791.3 L795 789 L794.9 786.8 L795 784.7 L795.5 782.8 L796.2 781.3 L797.2 780 L798.4 779.1 L799.8 778.5 L801.4 778.3 L803.1 778.4 L805 779 L806.8 779.9 L808.7 781.1 L810.5 782.7 L812.2 784.5 L813.8 786.5 L815.2 788.7" fill="none" stroke="#1c1c1c" stroke-width="2.0" stroke-linejoin="round" stroke-linecap="round"/>
<path d="M812.5 806.2 L811.8 806.4 L811.1 806.4 L810.3 806.3 L809.5 806.2 L808.7 805.9 L807.9 805.6 L807.1 805.2 L806.3 804.7 L805.4 804.2 L804.6 803.5 L803.8 802.8 L803.1 802.1 L802.3 801.3 L801.6 800.4 L800.9 799.5 L800.3 798.5 L799.7 797.5 L799.1 796.5 L798.6 795.4 L798.2 794.4 L797.8 793.3 L797.5 792.3 L797.2 791.2 L797.1 790.2 L796.9 789.2 L796.9 788.2 L796.9 787.3 L797 786.4 L797.1 785.5 L797.3 784.7 L797.6 784 L798 783.3 L798.4 782.7 L798.8 782.2 L799.4 781.8 L799.9 781.4 L800.5 781.1 L801.2 780.9 L801.9 780.8 L802.6 780.8" fill="none" stroke="#1c1c1c" stroke-width="2.0" stroke-linejoin="round" stroke-linecap="round"/>
<path d="M844.7 776.8 L842.8 773.9 L841.2 770.8 L839.7 767.6 L838.5 764.4 L837.7 761.3 L837 758.1 L836.7 755.1 L836.7 752.3 L837 749.6 L837.6 747.2 L838.5 745 L839.7 743.1 L841.1 741.6 L842.8 740.4 L844.7 739.6 L846.7 739.2 L849 739.2 L851.3 739.6 L853.7 740.3 L856.2 741.5 L858.7 743 L861.1 744.8 L863.5 746.9 L865.8 749.3 L868 752 L869.9 754.9 L871.7 757.9 L873.3 761 L874.6 764.2 L875.7 767.3 L876.4 770.5 L876.9 773.6 L877.1 776.6 L877 779.3 L876.5 781.9 L875.8 784.2 L874.8 786.3 L873.5 788 L872 789.4 L870.2 790.4 L868.2 791 L866.1 791.2 L863.8 791.1 L861.5 790.5 L859 789.6 L856.5 788.3 L854.1 786.7 L851.6 784.7 L852.3 782.2 L854.4 784 L856.6 785.4 L858.7 786.5 L860.9 787.3 L863 787.8 L864.9 787.9 L866.8 787.7 L868.5 787.2 L870.1 786.3 L871.4 785.1 L872.5 783.6 L873.4 781.8 L874.1 779.8 L874.4 777.6 L874.5 775.1 L874.4 772.5 L874 769.8 L873.3 767.1 L872.4 764.3 L871.2 761.5 L869.9 758.8 L868.3 756.2 L866.6 753.7 L864.7 751.4 L862.7 749.2 L860.6 747.4 L858.4 745.8 L856.3 744.5 L854.1 743.5 L852 742.8 L850 742.5 L848 742.5 L846.2 742.9 L844.6 743.6 L843.1 744.6 L841.9 745.9 L840.9 747.5 L840.1 749.4 L839.5 751.6 L839.3 753.9 L839.3 756.4 L839.6 759 L840.1 761.8 L840.9 764.5 L841.9 767.3 L843.1 770.1 L844.6 772.8 L846.2 775.4 Z" fill="#fff" stroke="#1c1c1c" stroke-width="1.4" stroke-linejoin="round" stroke-linecap="round"/>
<line x1="834" y1="779" x2="858" y2="765" stroke="#1c1c1c" stroke-width="1.25" stroke-linecap="butt"/>
<path d="M791.6 897 L798.5 893 A6.7 11.5 -30 0 0 787 873 L780.1 877 Z" fill="#fff" stroke="#1c1c1c" stroke-width="1.4" stroke-linejoin="round" stroke-linecap="round"/>
<ellipse cx="785.8" cy="887" rx="6.7" ry="11.5" fill="#fff" stroke="#1c1c1c" stroke-width="1.4" transform="rotate(-30 785.8 887)"/>
<path d="M781.7 876.1 L783.8 875.6 L786.2 876 L788.7 877.5 L791.2 879.8 L793.2 882.7 L794.7 886 L795.5 889.2 L795.5 892.2 L794.7 894.5 L793.2 896" fill="none" stroke="#1c1c1c" stroke-width="1.0" stroke-linejoin="round" stroke-linecap="round"/>
<path d="M783.2 875.2 L785.3 874.7 L787.7 875.2 L790.3 876.6 L792.7 878.9 L794.7 881.9 L796.2 885.1 L797 888.3 L797 891.3 L796.2 893.6 L794.7 895.1" fill="none" stroke="#1c1c1c" stroke-width="1.0" stroke-linejoin="round" stroke-linecap="round"/>
<path d="M784.7 874.4 L786.8 873.8 L789.2 874.3 L791.8 875.8 L794.2 878.1 L796.3 881 L797.8 884.2 L798.5 887.5 L798.5 890.4 L797.7 892.8 L796.2 894.3" fill="none" stroke="#1c1c1c" stroke-width="1.0" stroke-linejoin="round" stroke-linecap="round"/>
<path d="M786.3 873.5 L788.3 872.9 L790.7 873.4 L793.3 874.9 L795.7 877.2 L797.8 880.1 L799.3 883.3 L800.1 886.6 L800 889.5 L799.3 891.9 L797.8 893.4" fill="none" stroke="#1c1c1c" stroke-width="1.0" stroke-linejoin="round" stroke-linecap="round"/>
<path d="M788.2 901.2 L791.7 899.2 A7.8 13.5 -30 0 0 778.2 875.8 L774.8 877.8 Z" fill="#fff" stroke="#1c1c1c" stroke-width="1.6" stroke-linejoin="round" stroke-linecap="round"/>
<ellipse cx="781.5" cy="889.5" rx="7.8" ry="13.5" fill="#fff" stroke="#1c1c1c" stroke-width="1.6" transform="rotate(-30 781.5 889.5)"/>
<ellipse cx="781.5" cy="889.5" rx="7" ry="12" fill="none" stroke="#1c1c1c" stroke-width="0.8" transform="rotate(-30 781.5 889.5)"/>
<ellipse cx="802.8" cy="1031.5" rx="5.2" ry="7.8" fill="none" stroke="#1c1c1c" stroke-width="3.2" transform="rotate(-14 802.8 1031.5)"/>
<line x1="808" y1="1033" x2="824" y2="1037" stroke="#1c1c1c" stroke-width="1.25" stroke-linecap="butt"/>
<path d="M824 1020 C826 1014 834 1013 837 1018 L838 1026 L846 1030 C854 1030 858 1036 856 1042 C854 1049 846 1052 840 1050 C832 1048 828 1044 826 1038 Z" fill="#fff" stroke="#1c1c1c" stroke-width="1.6" stroke-linejoin="round" stroke-linecap="round"/>
<ellipse cx="831" cy="1021" rx="3" ry="4.5" fill="none" stroke="#1c1c1c" stroke-width="1.0" transform="rotate(-20 831 1021)"/>
<path d="M836 1046 C840 1052 850 1052 855 1046" fill="none" stroke="#1c1c1c" stroke-width="1.3" stroke-linejoin="round" stroke-linecap="round"/>
<path d="M850 1046 C866 1046 880 1042 893.5 1037.5" fill="none" stroke="#1c1c1c" stroke-width="4.6" stroke-linejoin="round" stroke-linecap="round"/>
<path d="M850 1046 C866 1046 880 1042 893.5 1037.5" fill="none" stroke="#fff" stroke-width="2.0" stroke-linejoin="round" stroke-linecap="butt"/>
<path d="M833 1034 L850 1030 C856 1030 858 1040 852 1044 L836 1047 C830 1046 829 1036 833 1034 Z" fill="#fff" stroke="#1c1c1c" stroke-width="1.6" stroke-linejoin="round" stroke-linecap="round"/>
<ellipse cx="851.5" cy="1037.5" rx="4.6" ry="7" fill="#fff" stroke="#1c1c1c" stroke-width="1.5" transform="rotate(-14 851.5 1037.5)"/>
<ellipse cx="838.5" cy="1040" rx="1.3" ry="1.8" fill="none" stroke="#1c1c1c" stroke-width="0.8"/>
<line x1="834" y1="1021" x2="850" y2="1026" stroke="#1c1c1c" stroke-width="1.2" stroke-linecap="butt"/>
<path d="M850 1022 L860 1025 L859 1032 L849 1029 Z" fill="#fff" stroke="#1c1c1c" stroke-width="1.2" stroke-linejoin="round" stroke-linecap="round"/>
<line x1="852" y1="1023" x2="851" y2="1030.5" stroke="#1c1c1c" stroke-width="0.8" stroke-linecap="butt"/>
<line x1="854.5" y1="1023" x2="853.5" y2="1030.5" stroke="#1c1c1c" stroke-width="0.8" stroke-linecap="butt"/>
<line x1="857" y1="1023" x2="856" y2="1030.5" stroke="#1c1c1c" stroke-width="0.8" stroke-linecap="butt"/>
<ellipse cx="864" cy="1027.5" rx="4.5" ry="6" fill="#fff" stroke="#1c1c1c" stroke-width="1.5" transform="rotate(-14 864 1027.5)"/>
<path d="M700 1015 L798 1031" fill="none" stroke="#1c1c1c" stroke-width="1.25" stroke-linejoin="miter" stroke-linecap="butt" stroke-dasharray="26 5 5 5"/>
<path d="M779.8 1087.2 L785 1090.2 A4.6 8 30 0 0 793 1076.4 L787.8 1073.4 Z" fill="#fff" stroke="#1c1c1c" stroke-width="1.5" stroke-linejoin="round" stroke-linecap="round"/>
<ellipse cx="783.8" cy="1080.3" rx="4.6" ry="8" fill="#fff" stroke="#1c1c1c" stroke-width="1.5" transform="rotate(30 783.8 1080.3)"/>
<ellipse cx="782.3" cy="1079.8" rx="5.2" ry="8.6" fill="#fff" stroke="#1c1c1c" stroke-width="1.5" transform="rotate(14 782.3 1079.8)"/>
<path d="M778 1089 C782 1091 788 1090 791 1086" fill="none" stroke="#1c1c1c" stroke-width="1.4" stroke-linejoin="round" stroke-linecap="round"/>
<path d="M737 1073 L775 1080" fill="none" stroke="#1c1c1c" stroke-width="1.25" stroke-linejoin="miter" stroke-linecap="butt" stroke-dasharray="26 5 5 5"/>
<path d="M655 1087 L674 1096.5 L820.5 1101.5 L857 1153" fill="none" stroke="#1c1c1c" stroke-width="1.25" stroke-linejoin="miter" stroke-linecap="butt" stroke-dasharray="26 5 5 5"/>
<path d="M856.5 1153 L864 1149.5 L868 1156 L880 1172 C882 1176 874 1181 871 1178 L860 1162 Z" fill="#fff" stroke="#1c1c1c" stroke-width="1.5" stroke-linejoin="round" stroke-linecap="round"/>
<line x1="862.8" y1="1166" x2="871.2" y2="1160.8" stroke="#1c1c1c" stroke-width="0.9" stroke-linecap="butt"/>
<line x1="864.6" y1="1168.7" x2="873.1" y2="1163.5" stroke="#1c1c1c" stroke-width="0.9" stroke-linecap="butt"/>
<line x1="866.5" y1="1171.4" x2="875" y2="1166.2" stroke="#1c1c1c" stroke-width="0.9" stroke-linecap="butt"/>
<line x1="868.4" y1="1174.2" x2="876.9" y2="1169" stroke="#1c1c1c" stroke-width="0.9" stroke-linecap="butt"/>
<line x1="876" y1="1178" x2="890" y2="1197" stroke="#1c1c1c" stroke-width="1.25" stroke-linecap="butt"/>
<path d="M885.5 1201 C885 1196 897 1190 901 1194 L910 1209 C914 1212 912 1218 906 1220 C900 1223 896 1222 895 1218 Z" fill="#fff" stroke="#1c1c1c" stroke-width="1.7" stroke-linejoin="round" stroke-linecap="round"/>
<line x1="886.5" y1="1199.5" x2="900.5" y2="1192" stroke="#1c1c1c" stroke-width="0.9" stroke-linecap="butt"/>
<line x1="887.8" y1="1201.7" x2="901.8" y2="1194.2" stroke="#1c1c1c" stroke-width="0.9" stroke-linecap="butt"/>
<line x1="889" y1="1203.9" x2="903" y2="1196.4" stroke="#1c1c1c" stroke-width="0.9" stroke-linecap="butt"/>
<line x1="890.2" y1="1206.1" x2="904.2" y2="1198.6" stroke="#1c1c1c" stroke-width="0.9" stroke-linecap="butt"/>
<line x1="891.5" y1="1208.3" x2="905.5" y2="1200.8" stroke="#1c1c1c" stroke-width="0.9" stroke-linecap="butt"/>
<line x1="892.8" y1="1210.5" x2="906.8" y2="1203" stroke="#1c1c1c" stroke-width="0.9" stroke-linecap="butt"/>
<line x1="894" y1="1212.7" x2="908" y2="1205.2" stroke="#1c1c1c" stroke-width="0.9" stroke-linecap="butt"/>
<path d="M895 1214 C900 1214 908 1210 910 1206" fill="none" stroke="#1c1c1c" stroke-width="1.1" stroke-linejoin="round" stroke-linecap="round"/>
<line x1="1077.5" y1="27.6" x2="1160.2" y2="159.9" stroke="#1c1c1c" stroke-width="1.25" stroke-linecap="butt"/>
<path d="M1069 24 L1072 20.5 L1081 20 L1086 24 L1086 30 L1082 34 L1074 34.5 L1069 30 Z" fill="#fff" stroke="#1c1c1c" stroke-width="1.5" stroke-linejoin="round" stroke-linecap="round"/>
<ellipse cx="1078.5" cy="29" rx="4.5" ry="3.4" fill="#fff" stroke="#1c1c1c" stroke-width="1.2" transform="rotate(20 1078.5 29)"/>
<path d="M1070 27 C1073 24 1082 23.5 1085 27" fill="none" stroke="#1c1c1c" stroke-width="0.9" stroke-linejoin="round" stroke-linecap="round"/>
<ellipse cx="1090" cy="47.5" rx="9.5" ry="7" fill="#fff" stroke="#1c1c1c" stroke-width="1.6" transform="rotate(12 1090 47.5)"/>
<ellipse cx="1090" cy="48.5" rx="5" ry="3.5" fill="none" stroke="#1c1c1c" stroke-width="1.1" transform="rotate(12 1090 48.5)"/>
<path d="M1081 50 C1083 55 1090 57 1096 54" fill="none" stroke="#1c1c1c" stroke-width="1.2" stroke-linejoin="round" stroke-linecap="round"/>
<line x1="1081" y1="30" x2="1088" y2="44" stroke="#1c1c1c" stroke-width="1.25" stroke-linecap="butt"/>
<line x1="1092" y1="50" x2="1098" y2="60" stroke="#1c1c1c" stroke-width="1.25" stroke-linecap="butt"/>
<path d="M1103.9 59.5 L1117.1 80.7 L1107.8 86.5 L1094.6 65.3 C1090.6 60.3 1100.9 55.5 1103.9 59.5 Z" fill="#fff" stroke="#1c1c1c" stroke-width="1.5" stroke-linejoin="round" stroke-linecap="round"/>
<path d="M1105 61.2 Q1102.2 67.2 1096.4 68.3" fill="none" stroke="#1c1c1c" stroke-width="1.2" stroke-linejoin="round" stroke-linecap="round"/>
<path d="M1106.5 63.7 Q1103.8 69.7 1098 70.8" fill="none" stroke="#1c1c1c" stroke-width="1.2" stroke-linejoin="round" stroke-linecap="round"/>
<path d="M1108.1 66.2 Q1105.4 72.3 1099.6 73.3" fill="none" stroke="#1c1c1c" stroke-width="1.2" stroke-linejoin="round" stroke-linecap="round"/>
<path d="M1109.7 68.8 Q1107 74.8 1101.2 75.9" fill="none" stroke="#1c1c1c" stroke-width="1.2" stroke-linejoin="round" stroke-linecap="round"/>
<path d="M1111.3 71.3 Q1108.5 77.4 1102.8 78.4" fill="none" stroke="#1c1c1c" stroke-width="1.2" stroke-linejoin="round" stroke-linecap="round"/>
<path d="M1112.9 73.9 Q1110.1 79.9 1104.4 81" fill="none" stroke="#1c1c1c" stroke-width="1.2" stroke-linejoin="round" stroke-linecap="round"/>
<path d="M1114.5 76.4 Q1111.7 82.5 1106 83.5" fill="none" stroke="#1c1c1c" stroke-width="1.2" stroke-linejoin="round" stroke-linecap="round"/>
<path d="M1116.1 79 Q1113.3 85 1107.5 86.1" fill="none" stroke="#1c1c1c" stroke-width="1.2" stroke-linejoin="round" stroke-linecap="round"/>
<path d="M1115.4 81.7 L1120.7 90.2 L1114.8 93.9 L1109.5 85.4 Z" fill="#fff" stroke="#1c1c1c" stroke-width="1.3" stroke-linejoin="round" stroke-linecap="round"/>
<line x1="1118.6" y1="86.8" x2="1112.7" y2="90.5" stroke="#1c1c1c" stroke-width="1.0" stroke-linecap="butt"/>
<path d="M1130.2 99.9 C1123.2 94.9 1116.2 101.9 1120.2 108.9" fill="none" stroke="#1c1c1c" stroke-width="2.6" stroke-linejoin="round" stroke-linecap="round"/>
<path d="M1132.2 102.9 C1128.2 98.9 1120.2 102.9 1122.2 107.9" fill="none" stroke="#1c1c1c" stroke-width="1.0" stroke-linejoin="round" stroke-linecap="round"/>
<path d="M1135.6 113.9 L1148.3 134.3 L1142.4 138 L1129.6 117.7 Z" fill="#fff" stroke="#555" stroke-width="0.9" stroke-linejoin="round" stroke-linecap="round"/>
<line x1="1136.1" y1="114.8" x2="1131" y2="119.9" stroke="#555" stroke-width="0.7" stroke-linecap="butt"/>
<line x1="1137.3" y1="116.7" x2="1132.2" y2="121.8" stroke="#555" stroke-width="0.7" stroke-linecap="butt"/>
<line x1="1138.5" y1="118.7" x2="1133.5" y2="123.8" stroke="#555" stroke-width="0.7" stroke-linecap="butt"/>
<line x1="1139.8" y1="120.6" x2="1134.7" y2="125.7" stroke="#555" stroke-width="0.7" stroke-linecap="butt"/>
<line x1="1141" y1="122.6" x2="1135.9" y2="127.7" stroke="#555" stroke-width="0.7" stroke-linecap="butt"/>
<line x1="1142.2" y1="124.5" x2="1137.1" y2="129.6" stroke="#555" stroke-width="0.7" stroke-linecap="butt"/>
<line x1="1143.4" y1="126.5" x2="1138.3" y2="131.6" stroke="#555" stroke-width="0.7" stroke-linecap="butt"/>
<line x1="1144.6" y1="128.4" x2="1139.6" y2="133.5" stroke="#555" stroke-width="0.7" stroke-linecap="butt"/>
<line x1="1145.9" y1="130.4" x2="1140.8" y2="135.5" stroke="#555" stroke-width="0.7" stroke-linecap="butt"/>
<line x1="1147.1" y1="132.3" x2="1142" y2="137.4" stroke="#555" stroke-width="0.7" stroke-linecap="butt"/>
<ellipse cx="1151.4" cy="145.9" rx="4.6" ry="5.4" fill="#222" stroke="#1c1c1c" stroke-width="1.2" transform="rotate(-20 1151.4 145.9)"/>
<path d="M1147.4 148.9 C1150.4 152.9 1155.4 151.9 1156.4 147.9" fill="none" stroke="#1c1c1c" stroke-width="1.2" stroke-linejoin="round" stroke-linecap="round"/>
<ellipse cx="1158.8" cy="157.8" rx="3.6" ry="3.6" fill="#fff" stroke="#1c1c1c" stroke-width="1.2"/>
<path d="M1159.5 161 L1163.5 167" fill="none" stroke="#1c1c1c" stroke-width="1.25" stroke-linejoin="round" stroke-linecap="round"/>
<path d="M1163.5 167 L1291 123" fill="none" stroke="#1c1c1c" stroke-width="1.25" stroke-linejoin="miter" stroke-linecap="butt" stroke-dasharray="26 5 5 5"/>
<line x1="1291" y1="123" x2="1297.5" y2="133" stroke="#1c1c1c" stroke-width="1.25" stroke-linecap="butt"/>
<path d="M1143.6 320.6 L1169.5 305.6 A3.2 5.6 -30 0 0 1163.9 296 L1138 311 Z" fill="#fff" stroke="#1c1c1c" stroke-width="1.5" stroke-linejoin="round" stroke-linecap="round"/>
<ellipse cx="1140.8" cy="315.8" rx="3.2" ry="5.6" fill="#fff" stroke="#1c1c1c" stroke-width="1.5" transform="rotate(-30 1140.8 315.8)"/>
<path d="M1154.6 301.4 L1155.6 301.1 L1156.8 301.3 L1158 302 L1159.2 303.2 L1160.2 304.6 L1160.9 306.2 L1161.3 307.7 L1161.3 309.2 L1160.9 310.3 L1160.2 311" fill="none" stroke="#1c1c1c" stroke-width="1.0" stroke-linejoin="round" stroke-linecap="round"/>
<path d="M1156.7 300.2 L1157.7 299.9 L1158.9 300.1 L1160.1 300.8 L1161.3 302 L1162.3 303.4 L1163 305 L1163.4 306.5 L1163.4 308 L1163 309.1 L1162.3 309.8" fill="none" stroke="#1c1c1c" stroke-width="1.0" stroke-linejoin="round" stroke-linecap="round"/>
<path d="M1158.7 299 L1159.7 298.7 L1160.9 298.9 L1162.2 299.6 L1163.4 300.8 L1164.4 302.2 L1165.1 303.8 L1165.5 305.3 L1165.5 306.8 L1165.1 307.9 L1164.3 308.6" fill="none" stroke="#1c1c1c" stroke-width="1.0" stroke-linejoin="round" stroke-linecap="round"/>
<path d="M1160.8 297.8 L1161.8 297.5 L1163 297.7 L1164.3 298.4 L1165.4 299.6 L1166.4 301 L1167.2 302.6 L1167.5 304.1 L1167.5 305.6 L1167.2 306.7 L1166.4 307.4" fill="none" stroke="#1c1c1c" stroke-width="1.0" stroke-linejoin="round" stroke-linecap="round"/>
<path d="M1162.9 296.6 L1163.9 296.3 L1165.1 296.5 L1166.3 297.2 L1167.5 298.4 L1168.5 299.8 L1169.2 301.4 L1169.6 302.9 L1169.6 304.4 L1169.2 305.5 L1168.5 306.2" fill="none" stroke="#1c1c1c" stroke-width="1.0" stroke-linejoin="round" stroke-linecap="round"/>
<path d="M1134.3 330.6 L1146.4 323.6 A5.6 9.6 -30 0 0 1136.8 307 L1124.7 314 Z" fill="#fff" stroke="#1c1c1c" stroke-width="1.7" stroke-linejoin="round" stroke-linecap="round"/>
<ellipse cx="1129.5" cy="322.3" rx="5.6" ry="9.6" fill="#fff" stroke="#1c1c1c" stroke-width="1.7" transform="rotate(-30 1129.5 322.3)"/>
<ellipse cx="1129.5" cy="322.3" rx="2.9" ry="5" fill="none" stroke="#1c1c1c" stroke-width="1.2" transform="rotate(-30 1129.5 322.3)"/>
<ellipse cx="1129.5" cy="322.3" rx="4.3" ry="7.5" fill="none" stroke="#1c1c1c" stroke-width="0.8" transform="rotate(-30 1129.5 322.3)"/>
<line x1="1168" y1="301" x2="1197" y2="284.5" stroke="#1c1c1c" stroke-width="1.25" stroke-linecap="butt"/>
<path d="M1095.3 465.4 L1118.7 451.9 A28.4 49 -30 0 0 1069.7 367.1 L1046.3 380.6 Z" fill="#fff" stroke="#1c1c1c" stroke-width="1.7" stroke-linejoin="round" stroke-linecap="round"/>
<ellipse cx="1070.8" cy="423" rx="28.4" ry="49" fill="#fff" stroke="#1c1c1c" stroke-width="1.7" transform="rotate(-30 1070.8 423)"/>
<ellipse cx="1070.8" cy="423" rx="22.7" ry="39.2" fill="none" stroke="#1c1c1c" stroke-width="1.1" transform="rotate(-30 1070.8 423)"/>
<ellipse cx="1070.8" cy="423" rx="21" ry="36.3" fill="none" stroke="#1c1c1c" stroke-width="1.1" transform="rotate(-30 1070.8 423)"/>
<ellipse cx="1070.8" cy="423" rx="19.9" ry="34.3" fill="none" stroke="#1c1c1c" stroke-width="1.1" transform="rotate(-30 1070.8 423)"/>
<ellipse cx="1070.8" cy="423" rx="14.2" ry="24.5" fill="none" stroke="#1c1c1c" stroke-width="1.1" transform="rotate(-30 1070.8 423)"/>
<ellipse cx="1070.8" cy="423" rx="10.2" ry="17.6" fill="none" stroke="#1c1c1c" stroke-width="1.4" transform="rotate(-30 1070.8 423)"/>
<line x1="1122" y1="393.5" x2="1181" y2="359.5" stroke="#1c1c1c" stroke-width="1.25" stroke-linecap="butt"/>
<path d="M1181 359.5 L1213 401" fill="none" stroke="#1c1c1c" stroke-width="1.25" stroke-linejoin="miter" stroke-linecap="butt" stroke-dasharray="26 5 5 5"/>
<path d="M1174.5 495.2 L1184 489.7 A19.1 33 -30 0 0 1151 432.5 L1141.5 438 Z" fill="#fff" stroke="#1c1c1c" stroke-width="1.7" stroke-linejoin="round" stroke-linecap="round"/>
<ellipse cx="1158" cy="466.6" rx="19.1" ry="33" fill="#fff" stroke="#1c1c1c" stroke-width="1.7" transform="rotate(-30 1158 466.6)"/>
<ellipse cx="1158" cy="466.6" rx="16.5" ry="28.4" fill="none" stroke="#1c1c1c" stroke-width="1.1" transform="rotate(-30 1158 466.6)"/>
<ellipse cx="1158" cy="466.6" rx="13.8" ry="23.8" fill="none" stroke="#1c1c1c" stroke-width="1.1" transform="rotate(-30 1158 466.6)"/>
<ellipse cx="1158" cy="466.6" rx="10.5" ry="18.2" fill="none" stroke="#1c1c1c" stroke-width="1.1" transform="rotate(-30 1158 466.6)"/>
<ellipse cx="1158" cy="466.6" rx="8" ry="13.9" fill="none" stroke="#1c1c1c" stroke-width="1.4" transform="rotate(-30 1158 466.6)"/>
<path d="M1171.1 459 L1173 462.7 L1174.5 466.4 L1175.6 470.1 L1176.3 473.8 L1176.5 477.2 L1176.2 480.4 L1175.6 483.3 L1174.4 485.7 L1172.9 487.7 L1171 489.2 L1168.8 490.1 L1166.4 490.4 L1163.7 490.1 L1160.8 489.3 L1158 487.9 L1155.1 486 L1152.3 483.6 L1149.6 480.8 L1147.1 477.6 L1144.9 474.2 L1143 470.5 L1141.5 466.8 L1140.4 463.1 L1139.7 459.4 L1139.5 456 L1139.8 452.8 L1140.4 449.9 L1141.6 447.5 L1143.1 445.5 L1145 444 L1147.2 443.1 L1149.6 442.8 L1152.3 443.1 L1155.2 443.9 L1158 445.3 L1160.9 447.2 L1163.7 449.6 L1166.4 452.4 L1168.9 455.6 L1171.1 459" fill="none" stroke="#1c1c1c" stroke-width="2.2" stroke-linejoin="round" stroke-linecap="round"/>
<path d="M1224.5 454 L1228 452 A11 19 -30 0 0 1209 419 L1205.5 421 Z" fill="#fff" stroke="#1c1c1c" stroke-width="1.6" stroke-linejoin="round" stroke-linecap="round"/>
<ellipse cx="1215" cy="437.5" rx="11" ry="19" fill="#fff" stroke="#1c1c1c" stroke-width="1.6" transform="rotate(-30 1215 437.5)"/>
<ellipse cx="1215" cy="437.5" rx="7.2" ry="12.5" fill="none" stroke="#1c1c1c" stroke-width="1.2" transform="rotate(-30 1215 437.5)"/>
<path d="M1223.5 446.8 L1223 446.9 L1222.5 446.9 L1221.9 446.9 L1221.3 446.8 L1220.7 446.7 L1220.1 446.5 L1219.5 446.3 L1218.9 446 L1218.3 445.6 L1217.7 445.2 L1217.1 444.8 L1216.5 444.3 L1215.9 443.8 L1215.3 443.2 L1214.7 442.6 L1214.2 442 L1213.6 441.3 L1213.1 440.6 L1212.6 439.9 L1212.2 439.1 L1211.8 438.4 L1211.4 437.6 L1211 436.8 L1210.7 436 L1210.4 435.2 L1210.2 434.4 L1210 433.6 L1209.8 432.8 L1209.7 432.1 L1209.6 431.3 L1209.6 430.6 L1209.6 429.9 L1209.7 429.2 L1209.8 428.6 L1209.9 427.9 L1210.1 427.4 L1210.3 426.8 L1210.6 426.3 L1210.9 425.9 L1211.2 425.5" fill="none" stroke="#1c1c1c" stroke-width="1.2" stroke-linejoin="round" stroke-linecap="round"/>
<ellipse cx="1215" cy="437.5" rx="9" ry="15.5" fill="none" stroke="#1c1c1c" stroke-width="0.9" transform="rotate(-30 1215 437.5)"/>
<line x1="1186" y1="451" x2="1214" y2="435" stroke="#1c1c1c" stroke-width="1.25" stroke-linecap="butt"/>
<line x1="1231" y1="427.5" x2="1262" y2="410" stroke="#1c1c1c" stroke-width="1.25" stroke-linecap="butt"/>
<ellipse cx="1145.7" cy="539.7" rx="8.1" ry="14" fill="#fff" stroke="#1c1c1c" stroke-width="1.3" transform="rotate(-30 1145.7 539.7)"/>
<ellipse cx="1143.5" cy="541" rx="8.1" ry="14" fill="#fff" stroke="#1c1c1c" stroke-width="1.5" transform="rotate(-30 1143.5 541)"/>
<ellipse cx="1143.5" cy="541" rx="4.3" ry="7.5" fill="none" stroke="#1c1c1c" stroke-width="1.2" transform="rotate(-30 1143.5 541)"/>
<path d="M1114.1 563.1 L1125.4 556.6 A2.4 4.2 -30 0 0 1121.2 549.4 L1109.9 555.9 Z" fill="#fff" stroke="#1c1c1c" stroke-width="1.3" stroke-linejoin="round" stroke-linecap="round"/>
<ellipse cx="1112" cy="559.5" rx="2.4" ry="4.2" fill="#fff" stroke="#1c1c1c" stroke-width="1.3" transform="rotate(-30 1112 559.5)"/>
<path d="M1113.4 553.9 L1114.1 553.7 L1115 553.8 L1115.9 554.4 L1116.8 555.2 L1117.6 556.3 L1118.1 557.5 L1118.4 558.7 L1118.4 559.7 L1118.1 560.6 L1117.6 561.1" fill="none" stroke="#1c1c1c" stroke-width="1.0" stroke-linejoin="round" stroke-linecap="round"/>
<path d="M1115.1 552.9 L1115.9 552.7 L1116.7 552.8 L1117.7 553.4 L1118.6 554.2 L1119.3 555.3 L1119.9 556.5 L1120.1 557.7 L1120.1 558.7 L1119.8 559.6 L1119.3 560.1" fill="none" stroke="#1c1c1c" stroke-width="1.0" stroke-linejoin="round" stroke-linecap="round"/>
<path d="M1116.8 551.9 L1117.6 551.7 L1118.5 551.8 L1119.4 552.4 L1120.3 553.2 L1121 554.3 L1121.6 555.5 L1121.9 556.7 L1121.9 557.7 L1121.6 558.6 L1121 559.1" fill="none" stroke="#1c1c1c" stroke-width="1.0" stroke-linejoin="round" stroke-linecap="round"/>
<path d="M1118.6 550.9 L1119.3 550.7 L1120.2 550.8 L1121.1 551.4 L1122 552.2 L1122.8 553.3 L1123.3 554.5 L1123.6 555.7 L1123.6 556.7 L1123.3 557.6 L1122.8 558.1" fill="none" stroke="#1c1c1c" stroke-width="1.0" stroke-linejoin="round" stroke-linecap="round"/>
<path d="M1120.3 549.9 L1121 549.7 L1121.9 549.8 L1122.9 550.4 L1123.7 551.2 L1124.5 552.3 L1125 553.5 L1125.3 554.7 L1125.3 555.7 L1125 556.6 L1124.5 557.1" fill="none" stroke="#1c1c1c" stroke-width="1.0" stroke-linejoin="round" stroke-linecap="round"/>
<ellipse cx="1108.5" cy="561.5" rx="4.9" ry="8.5" fill="#fff" stroke="#1c1c1c" stroke-width="1.4" transform="rotate(-30 1108.5 561.5)"/>
<ellipse cx="1108.5" cy="561.5" rx="1.8" ry="2.8" fill="none" stroke="#1c1c1c" stroke-width="0.8" transform="rotate(-30 1108.5 561.5)"/>
<ellipse cx="1108.5" cy="561.5" rx="2.7" ry="4.6" fill="none" stroke="#1c1c1c" stroke-width="0.8" transform="rotate(-30 1108.5 561.5)"/>
<line x1="1124" y1="552.5" x2="1146" y2="539.5" stroke="#1c1c1c" stroke-width="1.25" stroke-linecap="butt"/>
<path d="M1156 534 L1221 496.5 L1223 458 L1239 448.5" fill="none" stroke="#1c1c1c" stroke-width="1.25" stroke-linejoin="miter" stroke-linecap="butt" stroke-dasharray="26 5 5 5"/>
<path d="M1178 597.8 L1175.7 595.6 L1173.6 593.2 L1171.5 590.5 L1169.7 587.7 L1168 584.7 L1166.5 581.7 L1165.3 578.6 L1164.3 575.5 L1163.6 572.5 L1163.2 569.5 L1163.1 566.6 L1163.3 563.9 L1163.7 561.5 L1164.4 559.2 L1165.4 557.2 L1166.6 555.6 L1168.1 554.2 L1169.8 553.2 L1171.7 552.6 L1173.8 552.3 L1175.9 552.4 L1178.2 552.8 L1180.6 553.6 L1183 554.8 L1185.4 556.3 L1187.8 558.1 L1190.1 560.2 L1192.3 562.6 L1194.4 565.1 L1196.3 567.9 L1198.1 570.8 L1199.6 573.8 L1200.9 576.9 L1202 580 L1202.7 583.1 L1203.3 586.1 L1203.5 589 L1203.4 591.8 L1203.1 594.3 L1202.5 596.6 L1201.6 598.7 L1200.4 600.5 L1199 602 L1197.4 603.1 L1195.6 603.8 L1193.6 604.3 L1191.4 604.3 L1189.2 604 L1188.4 600.7 L1190.4 601 L1192.3 601 L1194 600.6 L1195.6 599.9 L1197 599 L1198.2 597.7 L1199.3 596.1 L1200 594.3 L1200.6 592.3 L1200.9 590.1 L1200.9 587.7 L1200.7 585.1 L1200.3 582.5 L1199.6 579.8 L1198.7 577.1 L1197.5 574.4 L1196.2 571.8 L1194.7 569.2 L1193 566.8 L1191.2 564.6 L1189.2 562.5 L1187.2 560.7 L1185.1 559.1 L1183 557.8 L1180.9 556.8 L1178.9 556 L1176.9 555.6 L1175 555.6 L1173.2 555.8 L1171.5 556.4 L1170 557.3 L1168.8 558.4 L1167.7 559.9 L1166.8 561.6 L1166.2 563.6 L1165.8 565.8 L1165.7 568.1 L1165.8 570.6 L1166.1 573.2 L1166.7 575.9 L1167.6 578.6 L1168.6 581.3 L1169.9 583.9 L1171.4 586.5 L1173 589 L1174.8 591.3 L1176.7 593.4 L1178.7 595.3 Z" fill="#fff" stroke="#1c1c1c" stroke-width="1.4" stroke-linejoin="round" stroke-linecap="round"/>
<path d="M1234 580.9 L1244 575.1 A15.7 27 -30 0 0 1217 528.4 L1207 534.1 Z" fill="#fff" stroke="#1c1c1c" stroke-width="1.7" stroke-linejoin="round" stroke-linecap="round"/>
<ellipse cx="1220.5" cy="557.5" rx="15.7" ry="27" fill="#fff" stroke="#1c1c1c" stroke-width="1.7" transform="rotate(-30 1220.5 557.5)"/>
<ellipse cx="1220.5" cy="557.5" rx="13.2" ry="22.7" fill="none" stroke="#1c1c1c" stroke-width="1.1" transform="rotate(-30 1220.5 557.5)"/>
<ellipse cx="1220.5" cy="557.5" rx="11" ry="18.9" fill="none" stroke="#1c1c1c" stroke-width="1.1" transform="rotate(-30 1220.5 557.5)"/>
<ellipse cx="1220.5" cy="557.5" rx="8.6" ry="14.9" fill="none" stroke="#1c1c1c" stroke-width="1.1" transform="rotate(-30 1220.5 557.5)"/>
<ellipse cx="1220.5" cy="557.5" rx="6.6" ry="11.3" fill="none" stroke="#1c1c1c" stroke-width="1.4" transform="rotate(-30 1220.5 557.5)"/>
<path d="M1228.9 552.6 L1230.1 555 L1231.1 557.4 L1231.8 559.8 L1232.2 562.1 L1232.4 564.3 L1232.2 566.4 L1231.8 568.2 L1231.1 569.8 L1230.1 571.1 L1228.9 572 L1227.5 572.6 L1225.9 572.8 L1224.1 572.6 L1222.3 572.1 L1220.5 571.2 L1218.6 569.9 L1216.8 568.4 L1215.1 566.6 L1213.5 564.6 L1212.1 562.4 L1210.9 560 L1209.9 557.6 L1209.2 555.2 L1208.8 552.9 L1208.6 550.7 L1208.8 548.6 L1209.2 546.8 L1209.9 545.2 L1210.9 543.9 L1212.1 543 L1213.5 542.4 L1215.1 542.2 L1216.9 542.4 L1218.7 542.9 L1220.5 543.8 L1222.4 545.1 L1224.2 546.6 L1225.9 548.4 L1227.5 550.4 L1228.9 552.6" fill="none" stroke="#1c1c1c" stroke-width="2.2" stroke-linejoin="round" stroke-linecap="round"/>
<line x1="1199" y1="572" x2="1226" y2="556.5" stroke="#1c1c1c" stroke-width="1.25" stroke-linecap="butt"/>
<line x1="1246" y1="545" x2="1272" y2="530" stroke="#1c1c1c" stroke-width="1.25" stroke-linecap="butt"/>
<path d="M1464.9 197.3 L1463.2 196.6 L1461.5 195.7 L1459.7 194.6 L1458.1 193.2 L1456.4 191.7 L1454.9 189.9 L1453.4 188.1 L1452.1 186 L1450.9 183.9 L1449.9 181.8 L1449 179.6 L1448.3 177.4 L1447.9 175.2 L1447.6 173.1 L1447.5 171.1 L1447.7 169.2 L1448 167.4 L1448.6 165.8 L1449.3 164.5 L1450.2 163.3 L1451.3 162.4 L1452.5 161.8 L1453.9 161.4 L1455.4 161.2 L1457 161.4 L1458.6 161.8 L1460.3 162.4 L1462 163.3 L1463.8 164.5 L1465.4 165.8 L1467.1 167.4 L1468.6 169.2 L1470 171 L1471.4 173.1 L1472.5 175.2 L1473.6 177.3 L1474.4 179.6 L1475.1 181.8 L1475.5 183.9 L1475.8 186 L1475.9 188.1 L1475.7 189.9 L1475.4 191.7 L1474.8 193.2 L1474.1 194.6 L1473.1 195.7 L1472 196.6 L1470.8 197.3 L1469.2 194.2 L1470.3 193.7 L1471.2 193 L1472 192 L1472.6 190.9 L1473 189.6 L1473.3 188.2 L1473.5 186.6 L1473.4 184.9 L1473.2 183.2 L1472.8 181.4 L1472.3 179.5 L1471.6 177.7 L1470.7 175.9 L1469.7 174.2 L1468.6 172.5 L1467.4 170.9 L1466.1 169.5 L1464.8 168.2 L1463.4 167 L1462 166.1 L1460.6 165.3 L1459.2 164.8 L1457.8 164.4 L1456.5 164.3 L1455.2 164.5 L1454.1 164.8 L1453.1 165.3 L1452.2 166.1 L1451.4 167 L1450.8 168.2 L1450.3 169.5 L1450.1 170.9 L1449.9 172.5 L1450 174.2 L1450.2 175.9 L1450.6 177.7 L1451.2 179.6 L1451.9 181.4 L1452.7 183.2 L1453.7 184.9 L1454.8 186.6 L1456 188.2 L1457.3 189.6 L1458.7 190.9 L1460.1 192 L1461.5 193 L1462.9 193.7 L1464.3 194.2 Z" fill="#fff" stroke="#1c1c1c" stroke-width="1.4" stroke-linejoin="round" stroke-linecap="round"/>
<path d="M1500.3 180.3 L1504.6 177.8 A11.6 20 -30 0 0 1484.6 143.2 L1480.3 145.7 Z" fill="#fff" stroke="#1c1c1c" stroke-width="1.6" stroke-linejoin="round" stroke-linecap="round"/>
<ellipse cx="1490.3" cy="163" rx="11.6" ry="20" fill="#fff" stroke="#1c1c1c" stroke-width="1.6" transform="rotate(-30 1490.3 163)"/>
<ellipse cx="1490.3" cy="163" rx="8.7" ry="15" fill="none" stroke="#1c1c1c" stroke-width="1.2" transform="rotate(-30 1490.3 163)"/>
<path d="M1500.7 174 L1500.1 174.2 L1499.4 174.2 L1498.7 174.2 L1498 174.1 L1497.3 173.9 L1496.6 173.7 L1495.9 173.4 L1495.1 173.1 L1494.4 172.7 L1493.7 172.2 L1492.9 171.7 L1492.2 171.1 L1491.5 170.4 L1490.8 169.8 L1490.1 169 L1489.4 168.3 L1488.8 167.5 L1488.2 166.6 L1487.6 165.7 L1487.1 164.8 L1486.6 163.9 L1486.1 163 L1485.7 162.1 L1485.3 161.1 L1485 160.1 L1484.7 159.2 L1484.4 158.2 L1484.2 157.3 L1484.1 156.4 L1484 155.5 L1484 154.6 L1484 153.8 L1484.1 152.9 L1484.2 152.2 L1484.3 151.4 L1484.6 150.7 L1484.8 150.1 L1485.1 149.5 L1485.5 148.9 L1485.9 148.5" fill="none" stroke="#1c1c1c" stroke-width="1.2" stroke-linejoin="round" stroke-linecap="round"/>
<ellipse cx="1490.3" cy="163" rx="10.1" ry="17.5" fill="none" stroke="#1c1c1c" stroke-width="0.9" transform="rotate(-30 1490.3 163)"/>
<path d="M1532.8 162.7 L1551 152.2 A12.2 21 -30 0 0 1530 115.8 L1511.8 126.3 Z" fill="#fff" stroke="#1c1c1c" stroke-width="1.7" stroke-linejoin="round" stroke-linecap="round"/>
<ellipse cx="1522.3" cy="144.5" rx="12.2" ry="21" fill="#fff" stroke="#1c1c1c" stroke-width="1.7" transform="rotate(-30 1522.3 144.5)"/>
<ellipse cx="1522.3" cy="144.5" rx="9" ry="15.5" fill="none" stroke="#1c1c1c" stroke-width="1.3" transform="rotate(-30 1522.3 144.5)"/>
<ellipse cx="1522.3" cy="144.5" rx="10.7" ry="18.5" fill="none" stroke="#1c1c1c" stroke-width="0.9" transform="rotate(-30 1522.3 144.5)"/>
<line x1="1526.1" y1="158.6" x2="1534" y2="154" stroke="#1c1c1c" stroke-width="0.9" stroke-linecap="butt"/>
<line x1="1522.3" y1="157.2" x2="1531.4" y2="151.9" stroke="#1c1c1c" stroke-width="0.9" stroke-linecap="butt"/>
<line x1="1518.5" y1="154.3" x2="1528.5" y2="148.5" stroke="#1c1c1c" stroke-width="0.9" stroke-linecap="butt"/>
<line x1="1515.2" y1="150.2" x2="1525.6" y2="144.2" stroke="#1c1c1c" stroke-width="0.9" stroke-linecap="butt"/>
<line x1="1512.8" y1="145.4" x2="1523" y2="139.5" stroke="#1c1c1c" stroke-width="0.9" stroke-linecap="butt"/>
<line x1="1511.5" y1="140.5" x2="1521.1" y2="134.9" stroke="#1c1c1c" stroke-width="0.9" stroke-linecap="butt"/>
<line x1="1511.5" y1="136.1" x2="1520" y2="131.1" stroke="#1c1c1c" stroke-width="0.9" stroke-linecap="butt"/>
<path d="M1574.4 138.7 L1592.6 128.2 A12.2 21 -30 0 0 1571.6 91.8 L1553.4 102.3 Z" fill="#fff" stroke="#1c1c1c" stroke-width="1.7" stroke-linejoin="round" stroke-linecap="round"/>
<ellipse cx="1563.9" cy="120.5" rx="12.2" ry="21" fill="#fff" stroke="#1c1c1c" stroke-width="1.7" transform="rotate(-30 1563.9 120.5)"/>
<ellipse cx="1563.9" cy="120.5" rx="9" ry="15.5" fill="none" stroke="#1c1c1c" stroke-width="1.3" transform="rotate(-30 1563.9 120.5)"/>
<ellipse cx="1563.9" cy="120.5" rx="10.7" ry="18.5" fill="none" stroke="#1c1c1c" stroke-width="0.9" transform="rotate(-30 1563.9 120.5)"/>
<line x1="1567.6" y1="134.6" x2="1575.5" y2="130" stroke="#1c1c1c" stroke-width="0.9" stroke-linecap="butt"/>
<line x1="1563.9" y1="133.2" x2="1573" y2="127.9" stroke="#1c1c1c" stroke-width="0.9" stroke-linecap="butt"/>
<line x1="1560.1" y1="130.3" x2="1570.1" y2="124.5" stroke="#1c1c1c" stroke-width="0.9" stroke-linecap="butt"/>
<line x1="1556.8" y1="126.2" x2="1567.2" y2="120.2" stroke="#1c1c1c" stroke-width="0.9" stroke-linecap="butt"/>
<line x1="1554.3" y1="121.4" x2="1564.6" y2="115.5" stroke="#1c1c1c" stroke-width="0.9" stroke-linecap="butt"/>
<line x1="1553" y1="116.5" x2="1562.6" y2="110.9" stroke="#1c1c1c" stroke-width="0.9" stroke-linecap="butt"/>
<line x1="1553" y1="112.1" x2="1561.6" y2="107.1" stroke="#1c1c1c" stroke-width="0.9" stroke-linecap="butt"/>
<path d="M1618.1 112.3 L1622.4 109.8 A11.6 20 -30 0 0 1602.4 75.2 L1598.1 77.7 Z" fill="#fff" stroke="#1c1c1c" stroke-width="1.6" stroke-linejoin="round" stroke-linecap="round"/>
<ellipse cx="1608.1" cy="95" rx="11.6" ry="20" fill="#fff" stroke="#1c1c1c" stroke-width="1.6" transform="rotate(-30 1608.1 95)"/>
<ellipse cx="1608.1" cy="95" rx="8.7" ry="15" fill="none" stroke="#1c1c1c" stroke-width="1.2" transform="rotate(-30 1608.1 95)"/>
<path d="M1618.5 106 L1617.8 106.2 L1617.2 106.2 L1616.5 106.2 L1615.8 106.1 L1615.1 105.9 L1614.4 105.7 L1613.7 105.4 L1612.9 105.1 L1612.2 104.7 L1611.4 104.2 L1610.7 103.7 L1610 103.1 L1609.3 102.4 L1608.6 101.8 L1607.9 101 L1607.2 100.3 L1606.6 99.5 L1606 98.6 L1605.4 97.7 L1604.9 96.9 L1604.3 95.9 L1603.9 95 L1603.5 94.1 L1603.1 93.1 L1602.7 92.1 L1602.5 91.2 L1602.2 90.2 L1602 89.3 L1601.9 88.4 L1601.8 87.5 L1601.8 86.6 L1601.8 85.8 L1601.8 84.9 L1602 84.2 L1602.1 83.4 L1602.3 82.7 L1602.6 82.1 L1602.9 81.5 L1603.3 80.9 L1603.7 80.5" fill="none" stroke="#1c1c1c" stroke-width="1.2" stroke-linejoin="round" stroke-linecap="round"/>
<ellipse cx="1608.1" cy="95" rx="10.1" ry="17.5" fill="none" stroke="#1c1c1c" stroke-width="0.9" transform="rotate(-30 1608.1 95)"/>
<line x1="1425.3" y1="200.5" x2="1460" y2="180.5" stroke="#1c1c1c" stroke-width="1.25" stroke-linecap="butt"/>
<line x1="1468.6" y1="175.5" x2="1485.9" y2="165.5" stroke="#1c1c1c" stroke-width="1.25" stroke-linecap="butt"/>
<line x1="1498.1" y1="158.5" x2="1513.7" y2="149.5" stroke="#1c1c1c" stroke-width="1.25" stroke-linecap="butt"/>
<line x1="1548.3" y1="129.5" x2="1557" y2="124.5" stroke="#1c1c1c" stroke-width="1.25" stroke-linecap="butt"/>
<line x1="1589.9" y1="105.5" x2="1603.7" y2="97.5" stroke="#1c1c1c" stroke-width="1.25" stroke-linecap="butt"/>
<path d="M1607 219.9 L1612.2 216.9 A23.2 40 -30 0 0 1572.2 147.7 L1567 150.7 Z" fill="#fff" stroke="#1c1c1c" stroke-width="1.8" stroke-linejoin="round" stroke-linecap="round"/>
<ellipse cx="1587" cy="185.3" rx="23.2" ry="40" fill="#fff" stroke="#1c1c1c" stroke-width="1.8" transform="rotate(-30 1587 185.3)"/>
<ellipse cx="1587" cy="185.3" rx="15.1" ry="26" fill="none" stroke="#1c1c1c" stroke-width="1.2" transform="rotate(-30 1587 185.3)"/>
<path d="M1602.7 205.8 L1601.7 206 L1600.5 206 L1599.4 206 L1598.2 205.8 L1596.9 205.6 L1595.7 205.2 L1594.4 204.7 L1593.1 204.1 L1591.8 203.4 L1590.5 202.5 L1589.3 201.6 L1588 200.6 L1586.8 199.5 L1585.6 198.3 L1584.4 197.1 L1583.2 195.8 L1582.1 194.4 L1581.1 192.9 L1580.1 191.4 L1579.1 189.8 L1578.3 188.3 L1577.5 186.6 L1576.7 185 L1576.1 183.3 L1575.5 181.7 L1575 180 L1574.6 178.4 L1574.2 176.8 L1574 175.2 L1573.8 173.6 L1573.8 172.1 L1573.8 170.6 L1573.9 169.2 L1574.1 167.8 L1574.4 166.6 L1574.8 165.4 L1575.3 164.2 L1575.8 163.2 L1576.4 162.3 L1577.1 161.4" fill="none" stroke="#1c1c1c" stroke-width="1.2" stroke-linejoin="round" stroke-linecap="round"/>
<ellipse cx="1587" cy="185.3" rx="19.7" ry="34" fill="none" stroke="#1c1c1c" stroke-width="1.0" transform="rotate(-30 1587 185.3)"/>
<ellipse cx="1588" cy="184.8" rx="16.5" ry="28.5" fill="none" stroke="#1c1c1c" stroke-width="3.0" transform="rotate(-30 1588 184.8)"/>
<path d="M1500 236 L1590 184" fill="none" stroke="#1c1c1c" stroke-width="1.25" stroke-linejoin="miter" stroke-linecap="butt" stroke-dasharray="26 5 5 5"/>
<path d="M1400 98 L1340 110 L1333 97" fill="none" stroke="#1c1c1c" stroke-width="5.0" stroke-linejoin="round" stroke-linecap="round"/>
<path d="M1400 98 L1340 110 L1333 97" fill="none" stroke="#fff" stroke-width="2.4" stroke-linejoin="round" stroke-linecap="round"/>
<path d="M1372 100 C1380 96 1398 94 1404 98 C1408 102 1404 108 1396 110 C1388 112 1376 112 1372 108 C1368 105 1369 102 1372 100 Z" fill="#fff" stroke="#1c1c1c" stroke-width="1.6" stroke-linejoin="round" stroke-linecap="round"/>
<path d="M1373 109 C1380 114 1396 113 1403 106" fill="none" stroke="#1c1c1c" stroke-width="1.2" stroke-linejoin="round" stroke-linecap="round"/>
<path d="M1373.5 84 L1374.5 100 C1378 104 1386 103 1388 99 L1387 82 Z" fill="#fff" stroke="#1c1c1c" stroke-width="1.6" stroke-linejoin="round" stroke-linecap="round"/>
<ellipse cx="1380.2" cy="82.5" rx="6.8" ry="3.6" fill="#fff" stroke="#1c1c1c" stroke-width="1.5" transform="rotate(-8 1380.2 82.5)"/>
<path d="M1377 60 C1377 56 1388 55 1388.5 59 L1388.5 63 C1386 66 1379 66 1377 64 Z" fill="#fff" stroke="#1c1c1c" stroke-width="1.4" stroke-linejoin="round" stroke-linecap="round"/>
<path d="M1380 65.5 L1381 74 L1387 73.5 L1386.5 65" fill="#fff" stroke="#1c1c1c" stroke-width="1.2" stroke-linejoin="round" stroke-linecap="round"/>
<line x1="1380.5" y1="67.5" x2="1386.8" y2="66.9" stroke="#1c1c1c" stroke-width="0.8" stroke-linecap="butt"/>
<line x1="1380.5" y1="69.5" x2="1386.8" y2="68.9" stroke="#1c1c1c" stroke-width="0.8" stroke-linecap="butt"/>
<line x1="1380.5" y1="71.5" x2="1386.8" y2="70.9" stroke="#1c1c1c" stroke-width="0.8" stroke-linecap="butt"/>
<path d="M1385 74 L1392 100 M1388 73.5 L1395.5 99" fill="none" stroke="#1c1c1c" stroke-width="1.1" stroke-linejoin="round" stroke-linecap="round"/>
<ellipse cx="1395" cy="101.5" rx="3.6" ry="1.8" fill="none" stroke="#1c1c1c" stroke-width="1.0" transform="rotate(-8 1395 101.5)"/>
<ellipse cx="1393.5" cy="123.5" rx="8" ry="4.6" fill="none" stroke="#1c1c1c" stroke-width="3.0" transform="rotate(-8 1393.5 123.5)"/>
<line x1="1391" y1="106" x2="1393" y2="120" stroke="#1c1c1c" stroke-width="1.2" stroke-linecap="butt"/>
<path d="M1395.5 130 L1461 336" fill="none" stroke="#1c1c1c" stroke-width="1.25" stroke-linejoin="miter" stroke-linecap="butt" stroke-dasharray="26 5 5 5"/>
<path d="M1777 340 L1782 357 L1793.5 353 L1788 335" fill="#fff" stroke="#1c1c1c" stroke-width="1.6" stroke-linejoin="round" stroke-linecap="round"/>
<line x1="1780.5" y1="342" x2="1785.5" y2="356" stroke="#1c1c1c" stroke-width="1.0" stroke-linecap="butt"/>
<path d="M1757 351.5 L1782.1 337 A34.8 60 -30 0 0 1722.1 233 L1697 247.5 Z" fill="#fff" stroke="#1c1c1c" stroke-width="2.0" stroke-linejoin="round" stroke-linecap="round"/>
<ellipse cx="1727" cy="299.5" rx="34.8" ry="60" fill="#fff" stroke="#1c1c1c" stroke-width="2.0" transform="rotate(-30 1727 299.5)"/>
<path d="M1703.3 244 L1705.7 242.9 L1708.4 242.2 L1711.1 241.8 L1714 241.7 L1717 242 L1720.1 242.5 L1723.3 243.4 L1726.5 244.6 L1729.8 246.1 L1733 247.9 L1736.3 250 L1739.5 252.3 L1742.7 254.9 L1745.9 257.8 L1748.9 260.9 L1751.9 264.2 L1754.7 267.7 L1757.4 271.4 L1759.9 275.2 L1762.3 279.1 L1764.5 283.1 L1766.6 287.3 L1768.4 291.4 L1770 295.6 L1771.4 299.8 L1772.5 304 L1773.4 308.2 L1774.1 312.2 L1774.5 316.2 L1774.7 320.1 L1774.6 323.8 L1774.3 327.4 L1773.7 330.8 L1772.9 333.9 L1771.9 336.9 L1770.6 339.6 L1769 342.1 L1767.3 344.3 L1765.4 346.2 L1763.2 347.8" fill="none" stroke="#1c1c1c" stroke-width="1.0" stroke-linejoin="round" stroke-linecap="round"/>
<path d="M1705.9 242.5 L1708.3 241.4 L1711 240.7 L1713.7 240.3 L1716.6 240.2 L1719.6 240.5 L1722.7 241 L1725.9 241.9 L1729.1 243.1 L1732.4 244.6 L1735.6 246.4 L1738.9 248.5 L1742.1 250.8 L1745.3 253.4 L1748.4 256.3 L1751.5 259.4 L1754.5 262.7 L1757.3 266.2 L1760 269.9 L1762.5 273.7 L1764.9 277.6 L1767.1 281.6 L1769.2 285.8 L1771 289.9 L1772.6 294.1 L1774 298.3 L1775.1 302.5 L1776 306.7 L1776.7 310.7 L1777.1 314.7 L1777.3 318.6 L1777.2 322.3 L1776.9 325.9 L1776.3 329.3 L1775.5 332.4 L1774.5 335.4 L1773.2 338.1 L1771.6 340.6 L1769.9 342.8 L1768 344.7 L1765.8 346.3" fill="none" stroke="#1c1c1c" stroke-width="2.2" stroke-linejoin="round" stroke-linecap="round"/>
<path d="M1709.3 240.5 L1711.8 239.4 L1714.4 238.7 L1717.2 238.3 L1720.1 238.2 L1723.1 238.5 L1726.2 239 L1729.4 239.9 L1732.6 241.1 L1735.8 242.6 L1739.1 244.4 L1742.4 246.5 L1745.6 248.8 L1748.8 251.4 L1751.9 254.3 L1755 257.4 L1757.9 260.7 L1760.7 264.2 L1763.5 267.9 L1766 271.7 L1768.4 275.6 L1770.6 279.6 L1772.6 283.8 L1774.5 287.9 L1776.1 292.1 L1777.4 296.3 L1778.6 300.5 L1779.5 304.7 L1780.2 308.7 L1780.6 312.7 L1780.8 316.6 L1780.7 320.3 L1780.4 323.9 L1779.8 327.3 L1779 330.4 L1777.9 333.4 L1776.6 336.1 L1775.1 338.6 L1773.4 340.8 L1771.4 342.7 L1769.3 344.3" fill="none" stroke="#1c1c1c" stroke-width="1.0" stroke-linejoin="round" stroke-linecap="round"/>
<path d="M1712.8 238.5 L1715.3 237.4 L1717.9 236.7 L1720.7 236.3 L1723.6 236.2 L1726.6 236.5 L1729.7 237 L1732.8 237.9 L1736 239.1 L1739.3 240.6 L1742.6 242.4 L1745.8 244.5 L1749.1 246.8 L1752.2 249.4 L1755.4 252.3 L1758.4 255.4 L1761.4 258.7 L1764.2 262.2 L1766.9 265.9 L1769.5 269.7 L1771.9 273.6 L1774.1 277.6 L1776.1 281.8 L1777.9 285.9 L1779.5 290.1 L1780.9 294.3 L1782.1 298.5 L1783 302.7 L1783.6 306.7 L1784.1 310.7 L1784.2 314.6 L1784.2 318.3 L1783.8 321.9 L1783.3 325.3 L1782.4 328.4 L1781.4 331.4 L1780.1 334.1 L1778.6 336.6 L1776.8 338.8 L1774.9 340.7 L1772.8 342.3" fill="none" stroke="#1c1c1c" stroke-width="1.0" stroke-linejoin="round" stroke-linecap="round"/>
<path d="M1714.7 250.6 L1715.3 248.5 L1716.1 246.5 L1717 244.6 L1718 242.9 L1719.1 241.3 L1720.3 239.8 L1721.7 238.4 L1723.1 237.3 L1724.6 236.2 L1726.2 235.3 L1727.9 234.6 L1729.7 234.1 L1731.6 233.7 L1733.5 233.4 L1735.5 233.4 L1737.6 233.5 L1739.7 233.7 L1741.8 234.1 L1744 234.7 L1746.2 235.5 L1748.4 236.4 L1750.6 237.4 L1752.9 238.6 L1755.1 240 L1757.4 241.5 L1759.6 243.1 L1761.8 244.9 L1764 246.8 L1766.2 248.8 L1768.3 250.9 L1770.3 253.2 L1772.3 255.5 L1774.2 258 L1776.1 260.5 L1777.9 263.1 L1779.6 265.7 L1781.2 268.5 L1782.8 271.3 L1784.2 274.1 L1785.5 276.9" fill="none" stroke="#1c1c1c" stroke-width="1.2" stroke-linejoin="round" stroke-linecap="round"/>
<path d="M1717.3 249.1 L1717.9 247.2 L1718.6 245.3 L1719.4 243.5 L1720.3 241.9 L1721.3 240.4 L1722.3 238.9 L1723.5 237.6 L1724.8 236.5 L1726.1 235.4 L1727.6 234.5 L1729.1 233.7 L1730.7 233.1 L1732.3 232.6 L1734 232.2 L1735.8 232 L1737.6 231.9 L1739.5 231.9 L1741.4 232.1 L1743.4 232.4 L1745.4 232.9 L1747.4 233.5 L1749.5 234.2 L1751.5 235.1 L1753.6 236.1 L1755.7 237.2 L1757.7 238.5 L1759.8 239.9 L1761.9 241.4 L1763.9 243 L1765.9 244.7 L1767.9 246.5 L1769.9 248.4 L1771.8 250.5 L1773.7 252.6 L1775.5 254.8 L1777.3 257 L1779 259.4 L1780.6 261.8 L1782.2 264.2 L1783.7 266.8" fill="none" stroke="#1c1c1c" stroke-width="2.2" stroke-linejoin="round" stroke-linecap="round"/>
<ellipse cx="1727" cy="299.5" rx="31.3" ry="54" fill="none" stroke="#1c1c1c" stroke-width="2.0" transform="rotate(-30 1727 299.5)"/>
<path d="M1767.1 335.5 L1764.9 335.9 L1762.5 336 L1760 335.9 L1757.5 335.5 L1754.9 334.9 L1752.2 334 L1749.6 332.9 L1746.9 331.5 L1744.2 329.9 L1741.5 328.1 L1738.8 326.1 L1736.2 323.9 L1733.6 321.4 L1731.1 318.8 L1728.7 316.1 L1726.3 313.2 L1724.1 310.1 L1722 307 L1720 303.7 L1718.2 300.4 L1716.5 297 L1715 293.6 L1713.6 290.1 L1712.4 286.6 L1711.4 283.1 L1710.6 279.7 L1709.9 276.3 L1709.5 273 L1709.3 269.7 L1709.2 266.6 L1709.4 263.6 L1709.7 260.7 L1710.3 257.9 L1711 255.3 L1711.9 252.9 L1713 250.7 L1714.3 248.7 L1715.8 246.9 L1717.4 245.4 L1719.2 244" fill="none" stroke="#1c1c1c" stroke-width="1.6" stroke-linejoin="round" stroke-linecap="round"/>
<path d="M1768.7 333.4 L1766.5 333.5 L1764.2 333.4 L1761.8 333 L1759.4 332.4 L1756.9 331.6 L1754.4 330.6 L1751.9 329.4 L1749.4 328 L1746.9 326.4 L1744.4 324.5 L1741.9 322.6 L1739.5 320.4 L1737.1 318.1 L1734.8 315.6 L1732.5 313 L1730.3 310.3 L1728.3 307.4 L1726.3 304.5 L1724.5 301.4 L1722.7 298.3 L1721.1 295.1 L1719.7 291.9 L1718.3 288.7 L1717.2 285.4 L1716.2 282.2 L1715.3 279 L1714.6 275.8 L1714.1 272.6 L1713.7 269.5 L1713.6 266.5 L1713.5 263.6 L1713.7 260.8 L1714.1 258.1 L1714.6 255.5 L1715.2 253.1 L1716.1 250.8 L1717.1 248.7 L1718.2 246.8 L1719.5 245.1 L1721 243.5" fill="none" stroke="#1c1c1c" stroke-width="1.0" stroke-linejoin="round" stroke-linecap="round"/>
<path d="M1751.8 343.8 L1749.6 343.6 L1747.4 343.3 L1745.2 342.7 L1742.9 342 L1740.6 341.1 L1738.2 340.1 L1735.9 338.8 L1733.6 337.4 L1731.2 335.9 L1728.9 334.2 L1726.6 332.3 L1724.4 330.3 L1722.2 328.1 L1720 325.9 L1717.9 323.5 L1715.9 321 L1713.9 318.4 L1712 315.7 L1710.2 313 L1708.5 310.2 L1706.9 307.3 L1705.4 304.3 L1704.1 301.4 L1702.8 298.4 L1701.7 295.4 L1700.7 292.4 L1699.8 289.4 L1699 286.4 L1698.4 283.4 L1698 280.5 L1697.6 277.6 L1697.4 274.8 L1697.4 272.1 L1697.5 269.5 L1697.7 266.9 L1698.1 264.5 L1698.6 262.2 L1699.3 259.9 L1700.1 257.9 L1701 255.9" fill="none" stroke="#1c1c1c" stroke-width="1.0" stroke-linejoin="round" stroke-linecap="round"/>
<path d="M1688 321 L1760 279" fill="none" stroke="#1c1c1c" stroke-width="1.25" stroke-linejoin="miter" stroke-linecap="butt" stroke-dasharray="26 5 5 5"/>
<line x1="1660" y1="337" x2="1690" y2="320" stroke="#1c1c1c" stroke-width="1.25" stroke-linecap="butt"/>
<line x1="1779" y1="268" x2="1806" y2="252.5" stroke="#1c1c1c" stroke-width="1.25" stroke-linecap="butt"/>
<path d="M1865.2 289.3 L1881 280.1 A32.5 56 -30 0 0 1825 183.2 L1809.2 192.3 Z" fill="#fff" stroke="#1c1c1c" stroke-width="1.9" stroke-linejoin="round" stroke-linecap="round"/>
<ellipse cx="1837.2" cy="240.8" rx="32.5" ry="56" fill="#fff" stroke="#1c1c1c" stroke-width="1.9" transform="rotate(-30 1837.2 240.8)"/>
<ellipse cx="1837.2" cy="240.8" rx="25.5" ry="44" fill="none" stroke="#1c1c1c" stroke-width="1.5" transform="rotate(-30 1837.2 240.8)"/>
<ellipse cx="1837.2" cy="240.8" rx="23.2" ry="40" fill="none" stroke="#1c1c1c" stroke-width="1.0" transform="rotate(-30 1837.2 240.8)"/>
<ellipse cx="1838.7" cy="239.8" rx="27.5" ry="47.5" fill="none" stroke="#1c1c1c" stroke-width="0.9" transform="rotate(-30 1838.7 239.8)"/>
<path d="M1861.2 270.3 L1859.6 270.2 L1857.9 269.9 L1856.2 269.5 L1854.4 268.9 L1852.7 268.2 L1850.9 267.4 L1849.1 266.4 L1847.3 265.3 L1845.5 264 L1843.7 262.7 L1842 261.2 L1840.3 259.6 L1838.6 258 L1836.9 256.2 L1835.4 254.3 L1833.8 252.3 L1832.4 250.3 L1831 248.2 L1829.6 246.1 L1828.4 243.9 L1827.2 241.6 L1826.1 239.4 L1825.2 237.1 L1824.3 234.8 L1823.5 232.5 L1822.8 230.1 L1822.2 227.9 L1821.7 225.6 L1821.4 223.4 L1821.1 221.2 L1821 219 L1821 216.9 L1821.1 214.9 L1821.3 213 L1821.6 211.1 L1822 209.4 L1822.6 207.7 L1823.2 206.1 L1824 204.7 L1824.8 203.3" fill="none" stroke="#1c1c1c" stroke-width="1.3" stroke-linejoin="round" stroke-linecap="round"/>
<path d="M1849.4 267.7 L1848.1 267.3 L1846.8 266.8 L1845.4 266.2 L1844 265.6 L1842.7 264.8 L1841.3 263.9 L1840 263 L1838.6 261.9 L1837.3 260.8 L1836 259.6 L1834.7 258.4 L1833.4 257.1 L1832.2 255.7 L1831 254.2 L1829.8 252.7 L1828.7 251.2 L1827.7 249.6 L1826.6 247.9 L1825.7 246.3 L1824.8 244.6 L1823.9 242.8 L1823.1 241.1 L1822.4 239.3 L1821.8 237.6 L1821.2 235.8 L1820.7 234.1 L1820.2 232.3 L1819.9 230.6 L1819.6 228.9 L1819.4 227.2 L1819.2 225.5 L1819.2 223.9 L1819.2 222.4 L1819.3 220.9 L1819.5 219.4 L1819.7 218 L1820 216.6 L1820.4 215.3 L1820.9 214.1 L1821.4 213" fill="none" stroke="#1c1c1c" stroke-width="1.0" stroke-linejoin="round" stroke-linecap="round"/>
<path d="M1841.7 267.2 L1850.7 262.2 L1854.7 272.2 L1845.7 276.2 Z" fill="#fff" stroke="#1c1c1c" stroke-width="1.1" stroke-linejoin="round" stroke-linecap="round"/>
<path d="M1830.4 260.1 L1839.4 255.1 L1843.4 265.1 L1834.4 269.1 Z" fill="#fff" stroke="#1c1c1c" stroke-width="1.1" stroke-linejoin="round" stroke-linecap="round"/>
<path d="M1820.3 248.3 L1829.3 243.3 L1833.3 253.3 L1824.3 257.3 Z" fill="#fff" stroke="#1c1c1c" stroke-width="1.1" stroke-linejoin="round" stroke-linecap="round"/>
<path d="M1813.4 233.9 L1822.4 228.9 L1826.4 238.9 L1817.4 242.9 Z" fill="#fff" stroke="#1c1c1c" stroke-width="1.1" stroke-linejoin="round" stroke-linecap="round"/>
<path d="M1811 219.7 L1820 214.7 L1824 224.7 L1815 228.7 Z" fill="#fff" stroke="#1c1c1c" stroke-width="1.1" stroke-linejoin="round" stroke-linecap="round"/>
<path d="M1813.1 209.1 L1822.1 204.1 L1826.1 214.1 L1817.1 218.1 Z" fill="#fff" stroke="#1c1c1c" stroke-width="1.1" stroke-linejoin="round" stroke-linecap="round"/>
<path d="M1806 252.5 L1852 226" fill="none" stroke="#1c1c1c" stroke-width="1.25" stroke-linejoin="miter" stroke-linecap="butt" stroke-dasharray="26 5 5 5"/>
<line x1="1888" y1="213" x2="1907" y2="202" stroke="#1c1c1c" stroke-width="1.25" stroke-linecap="butt"/>
<path d="M1924.8 135.2 L1929.8 136.7 L1934.9 139 L1940.1 142.1 L1945.2 145.9 L1950.1 150.3 L1954.9 155.4 L1959.3 160.9 L1963.4 166.9 L1967.1 173.2 L1970.2 179.7 L1972.9 186.3 L1974.9 192.9 L1976.4 199.5 L1977.2 205.8 L1977.3 211.8 L1976.8 217.5 L1975.7 222.6 L1973.9 227.2 L1971.6 231.2 L1968.7 234.4 L1965.2 236.9 L1961.3 238.5 L1957 239.4 L1952.4 239.4 L1947.6 238.6 L1942.5 236.9 L1937.4 234.5 L1932.2 231.3 L1927.2 227.4 L1922.2 222.8 L1917.5 217.7 L1913.1 212.1 L1909.1 206 L1905.6 199.7 L1902.5 193.2 L1899.9 186.6 L1898 179.9 L1896.6 173.4 L1896 167.1 L1895.9 161.2 L1896.5 155.6 L1897.8 150.5 L1899.6 146.1 L1902.1 142.2 L1905.1 139.1 L1908.6 136.8 L1912.6 135.2 L1916.9 134.5 L1918.1 137.6 L1914 138.3 L1910.3 139.8 L1907 142 L1904.1 144.9 L1901.8 148.5 L1900.1 152.7 L1898.9 157.4 L1898.3 162.7 L1898.4 168.3 L1899 174.2 L1900.3 180.3 L1902.1 186.6 L1904.5 192.8 L1907.4 199 L1910.8 204.9 L1914.5 210.6 L1918.7 215.9 L1923.1 220.7 L1927.7 225 L1932.5 228.7 L1937.3 231.7 L1942.2 234 L1946.9 235.5 L1951.5 236.3 L1955.8 236.3 L1959.9 235.5 L1963.5 233.9 L1966.8 231.6 L1969.5 228.5 L1971.7 224.8 L1973.4 220.5 L1974.5 215.7 L1974.9 210.4 L1974.8 204.7 L1974 198.7 L1972.7 192.6 L1970.7 186.3 L1968.2 180.1 L1965.3 174 L1961.8 168.1 L1958 162.5 L1953.8 157.3 L1949.3 152.5 L1944.7 148.3 L1939.9 144.8 L1935 141.9 L1930.2 139.7 L1925.5 138.3 Z" fill="#fff" stroke="#1c1c1c" stroke-width="1.4" stroke-linejoin="round" stroke-linecap="round"/>
<path d="M1907 203 L1958 174" fill="none" stroke="#1c1c1c" stroke-width="1.25" stroke-linejoin="miter" stroke-linecap="butt" stroke-dasharray="26 5 5 5"/>
<path d="M1897.1 393.3 L1906.6 387.8 A1.9 3.2 -30 0 0 1903.4 382.2 L1893.9 387.7 Z" fill="#fff" stroke="#1c1c1c" stroke-width="1.2" stroke-linejoin="round" stroke-linecap="round"/>
<ellipse cx="1895.5" cy="390.5" rx="1.9" ry="3.2" fill="#fff" stroke="#1c1c1c" stroke-width="1.2" transform="rotate(-30 1895.5 390.5)"/>
<path d="M1894.7 387.3 L1895.3 387.1 L1895.9 387.3 L1896.6 387.7 L1897.3 388.3 L1897.9 389.1 L1898.3 390 L1898.5 390.9 L1898.5 391.7 L1898.3 392.4 L1897.9 392.8" fill="none" stroke="#1c1c1c" stroke-width="1.0" stroke-linejoin="round" stroke-linecap="round"/>
<path d="M1896.2 386.4 L1896.8 386.2 L1897.5 386.4 L1898.2 386.8 L1898.9 387.4 L1899.4 388.2 L1899.9 389.1 L1900.1 390 L1900.1 390.8 L1899.9 391.5 L1899.4 391.9" fill="none" stroke="#1c1c1c" stroke-width="1.0" stroke-linejoin="round" stroke-linecap="round"/>
<path d="M1897.8 385.5 L1898.4 385.3 L1899 385.5 L1899.8 385.9 L1900.4 386.5 L1901 387.3 L1901.4 388.2 L1901.6 389.1 L1901.6 389.9 L1901.4 390.6 L1901 391" fill="none" stroke="#1c1c1c" stroke-width="1.0" stroke-linejoin="round" stroke-linecap="round"/>
<path d="M1899.4 384.6 L1899.9 384.4 L1900.6 384.6 L1901.3 385 L1902 385.6 L1902.6 386.4 L1903 387.3 L1903.2 388.2 L1903.2 389 L1903 389.7 L1902.6 390.1" fill="none" stroke="#1c1c1c" stroke-width="1.0" stroke-linejoin="round" stroke-linecap="round"/>
<path d="M1900.9 383.7 L1901.5 383.5 L1902.2 383.7 L1902.9 384.1 L1903.5 384.7 L1904.1 385.5 L1904.5 386.4 L1904.8 387.3 L1904.8 388.1 L1904.5 388.8 L1904.1 389.2" fill="none" stroke="#1c1c1c" stroke-width="1.0" stroke-linejoin="round" stroke-linecap="round"/>
<ellipse cx="1906.5" cy="384.3" rx="3.8" ry="6.5" fill="#fff" stroke="#1c1c1c" stroke-width="1.4" transform="rotate(-30 1906.5 384.3)"/>
<ellipse cx="1908" cy="383.4" rx="3.8" ry="6.5" fill="#fff" stroke="#1c1c1c" stroke-width="1.2" transform="rotate(-30 1908 383.4)"/>
<line x1="1879" y1="400" x2="1893" y2="392" stroke="#1c1c1c" stroke-width="1.25" stroke-linecap="butt"/>
<path d="M1866 401 C1866 395 1873 393 1877 396 L1893 412 C1898 414 1901 422 1897 427 C1893 431 1886 430 1882 426 L1868 410 C1866 407 1866 404 1866 401 Z" fill="#fff" stroke="#1c1c1c" stroke-width="1.7" stroke-linejoin="round" stroke-linecap="round"/>
<ellipse cx="1872.5" cy="402" rx="3.2" ry="4.8" fill="none" stroke="#1c1c1c" stroke-width="1.3" transform="rotate(-30 1872.5 402)"/>
<path d="M1882 426 C1884 431 1892 432 1897 427" fill="none" stroke="#1c1c1c" stroke-width="1.3" stroke-linejoin="round" stroke-linecap="round"/>
<path d="M1883.5 426.7 L1896.5 419.2 A3.5 6 -30 0 0 1890.5 408.8 L1877.5 416.3 Z" fill="#fff" stroke="#1c1c1c" stroke-width="1.4" stroke-linejoin="round" stroke-linecap="round"/>
<ellipse cx="1880.5" cy="421.5" rx="3.5" ry="6" fill="#fff" stroke="#1c1c1c" stroke-width="1.4" transform="rotate(-30 1880.5 421.5)"/>
<path d="M1876 424 L1831 450 L1790 439 C1784 438 1782 442 1784 447 L1790 463 C1792 468 1796 470 1800 470" fill="none" stroke="#1c1c1c" stroke-width="6.2" stroke-linejoin="round" stroke-linecap="round"/>
<path d="M1876 424 L1831 450 L1790 439 C1784 438 1782 442 1784 447 L1790 463 C1792 468 1796 470 1800 470" fill="none" stroke="#fff" stroke-width="3.4" stroke-linejoin="round" stroke-linecap="butt"/>
<path d="M1765 469 C1764 462 1772 459 1780 461 L1796 466 C1802 468 1803 476 1800 481 C1796 486 1788 485 1782 482 L1770 477 C1766 475 1765 472 1765 469 Z" fill="#fff" stroke="#1c1c1c" stroke-width="1.7" stroke-linejoin="round" stroke-linecap="round"/>
<ellipse cx="1770.5" cy="468.5" rx="3.4" ry="5" fill="none" stroke="#1c1c1c" stroke-width="1.6" transform="rotate(-30 1770.5 468.5)"/>
<path d="M1779.5 482.3 L1789 476.8 A2.9 5 -30 0 0 1784 468.2 L1774.5 473.7 Z" fill="#fff" stroke="#1c1c1c" stroke-width="1.3" stroke-linejoin="round" stroke-linecap="round"/>
<ellipse cx="1777" cy="478" rx="2.9" ry="5" fill="#fff" stroke="#1c1c1c" stroke-width="1.3" transform="rotate(-30 1777 478)"/>
<path d="M1782 483 C1786 487 1796 486 1800 481" fill="none" stroke="#1c1c1c" stroke-width="1.3" stroke-linejoin="round" stroke-linecap="round"/>
<ellipse cx="1759" cy="488.4" rx="4.8" ry="7" fill="none" stroke="#1c1c1c" stroke-width="2.6" transform="rotate(-30 1759 488.4)"/>
<line x1="1749" y1="494" x2="1775" y2="479" stroke="#1c1c1c" stroke-width="1.25" stroke-linecap="butt"/>
<ellipse cx="1872.6" cy="462.8" rx="4.8" ry="7" fill="none" stroke="#1c1c1c" stroke-width="2.6" transform="rotate(-30 1872.6 462.8)"/>
<line x1="1862" y1="469" x2="1875" y2="461.5" stroke="#1c1c1c" stroke-width="1.25" stroke-linecap="butt"/>
<path d="M1866 434 L1880 452 L1888 456 L1875 461.5" fill="none" stroke="#1c1c1c" stroke-width="1.25" stroke-linejoin="round" stroke-linecap="round"/>
<path d="M1669.5 420.5 L1707 400.5 L1829 428 L1866 406.5" fill="none" stroke="#1c1c1c" stroke-width="1.25" stroke-linejoin="miter" stroke-linecap="butt" stroke-dasharray="26 5 5 5"/>
<path d="M1753.5 601 L1771.7 590.5 A8.7 15 -30 0 0 1756.7 564.5 L1738.5 575 Z" fill="#fff" stroke="#1c1c1c" stroke-width="1.7" stroke-linejoin="round" stroke-linecap="round"/>
<ellipse cx="1746" cy="588" rx="8.7" ry="15" fill="#fff" stroke="#1c1c1c" stroke-width="1.7" transform="rotate(-30 1746 588)"/>
<ellipse cx="1746" cy="588" rx="7" ry="12" fill="none" stroke="#1c1c1c" stroke-width="1.2" transform="rotate(-30 1746 588)"/>
<line x1="1768.5" y1="575.5" x2="1794" y2="560.5" stroke="#1c1c1c" stroke-width="1.25" stroke-linecap="butt"/>
<path d="M1794 560.5 L1509 361" fill="none" stroke="#1c1c1c" stroke-width="1.25" stroke-linejoin="miter" stroke-linecap="butt" stroke-dasharray="26 5 5 5"/>
<path d="M1215.6 797.7 L1214.7 791 L1214.4 784.6 L1214.8 778.5 L1215.8 773 L1217.5 767.9 L1219.7 763.5 L1222.5 759.7 L1225.8 756.7 L1229.6 754.4 L1233.8 752.9 L1238.4 752.2 L1243.3 752.3 L1248.5 753.3 L1253.8 755 L1259.2 757.6 L1264.6 760.9 L1270 764.9 L1275.2 769.5 L1280.2 774.7 L1285 780.5 L1289.4 786.6 L1293.4 793.1 L1297 799.9 L1300 806.8 L1302.5 813.8 L1304.5 820.8 L1305.8 827.6 L1306.5 834.2 L1306.5 840.5 L1305.9 846.4 L1304.7 851.8 L1302.9 856.6 L1300.4 860.9 L1297.5 864.4 L1294 867.2 L1290 869.2 L1285.7 870.5 L1281 870.9 L1276 870.5 L1270.8 869.2 L1265.4 867.2 L1260 864.4 L1254.6 860.9 L1249.3 856.6 L1244.1 851.8 L1239.1 846.4 L1234.5 840.5 L1230.2 834.2 L1231.9 833 L1235.9 838.9 L1240.3 844.5 L1245 849.6 L1249.9 854.1 L1254.9 858.1 L1260 861.5 L1265.1 864.1 L1270.2 866 L1275.1 867.2 L1279.8 867.6 L1284.3 867.2 L1288.4 866 L1292.1 864.1 L1295.4 861.5 L1298.2 858.1 L1300.5 854.1 L1302.2 849.6 L1303.4 844.4 L1304 838.9 L1303.9 832.9 L1303.3 826.7 L1302 820.3 L1300.2 813.7 L1297.9 807.1 L1295 800.5 L1291.6 794.2 L1287.8 788 L1283.6 782.2 L1279.2 776.8 L1274.4 771.8 L1269.5 767.5 L1264.4 763.7 L1259.3 760.6 L1254.2 758.2 L1249.2 756.5 L1244.3 755.6 L1239.7 755.5 L1235.3 756.1 L1231.3 757.5 L1227.7 759.7 L1224.6 762.6 L1221.9 766.1 L1219.8 770.3 L1218.3 775.1 L1217.3 780.4 L1217 786.1 L1217.2 792.1 L1218.1 798.4 Z" fill="#fff" stroke="#1c1c1c" stroke-width="1.4" stroke-linejoin="round" stroke-linecap="round"/>
<line x1="1297" y1="790.5" x2="1330" y2="771.5" stroke="#1c1c1c" stroke-width="1.25" stroke-linecap="butt"/>
<path d="M1149.8 949.8 L1182.7 930.8 A37.7 65 -30 0 0 1117.7 818.2 L1084.8 837.2 Z" fill="#fff" stroke="#1c1c1c" stroke-width="2.0" stroke-linejoin="round" stroke-linecap="round"/>
<ellipse cx="1117.3" cy="893.5" rx="37.7" ry="65" fill="#fff" stroke="#1c1c1c" stroke-width="2.0" transform="rotate(-30 1117.3 893.5)"/>
<path d="M1096.4 830.6 L1099 829.5 L1101.9 828.7 L1104.9 828.2 L1108 828.1 L1111.3 828.4 L1114.6 829 L1118.1 830 L1121.5 831.3 L1125.1 832.9 L1128.6 834.8 L1132.1 837.1 L1135.6 839.6 L1139.1 842.5 L1142.5 845.6 L1145.8 848.9 L1149 852.5 L1152.1 856.3 L1155 860.3 L1157.8 864.4 L1160.3 868.6 L1162.7 873 L1164.9 877.5 L1166.9 882 L1168.6 886.6 L1170.1 891.1 L1171.4 895.6 L1172.4 900.1 L1173.1 904.5 L1173.6 908.9 L1173.8 913 L1173.7 917.1 L1173.3 920.9 L1172.7 924.6 L1171.8 928.1 L1170.7 931.3 L1169.3 934.2 L1167.6 936.9 L1165.7 939.3 L1163.6 941.3 L1161.3 943.1" fill="none" stroke="#1c1c1c" stroke-width="1.0" stroke-linejoin="round" stroke-linecap="round"/>
<path d="M1101.5 827.6 L1104.2 826.5 L1107.1 825.7 L1110.1 825.2 L1113.2 825.1 L1116.5 825.4 L1119.8 826 L1123.3 827 L1126.7 828.3 L1130.3 829.9 L1133.8 831.8 L1137.3 834.1 L1140.8 836.6 L1144.3 839.5 L1147.7 842.6 L1151 845.9 L1154.2 849.5 L1157.3 853.3 L1160.2 857.3 L1162.9 861.4 L1165.5 865.6 L1167.9 870 L1170.1 874.5 L1172.1 879 L1173.8 883.6 L1175.3 888.1 L1176.6 892.6 L1177.6 897.1 L1178.3 901.5 L1178.8 905.9 L1179 910 L1178.9 914.1 L1178.5 917.9 L1177.9 921.6 L1177 925.1 L1175.9 928.3 L1174.5 931.2 L1172.8 933.9 L1170.9 936.3 L1168.8 938.3 L1166.5 940.1" fill="none" stroke="#1c1c1c" stroke-width="1.0" stroke-linejoin="round" stroke-linecap="round"/>
<path d="M1109.3 823.1 L1112 822 L1114.9 821.2 L1117.9 820.7 L1121 820.6 L1124.3 820.9 L1127.6 821.5 L1131.1 822.5 L1134.5 823.8 L1138.1 825.4 L1141.6 827.3 L1145.1 829.6 L1148.6 832.1 L1152.1 835 L1155.5 838.1 L1158.8 841.4 L1162 845 L1165 848.8 L1168 852.8 L1170.7 856.9 L1173.3 861.1 L1175.7 865.5 L1177.9 870 L1179.9 874.5 L1181.6 879.1 L1183.1 883.6 L1184.4 888.1 L1185.4 892.6 L1186.1 897 L1186.6 901.4 L1186.7 905.5 L1186.7 909.6 L1186.3 913.4 L1185.7 917.1 L1184.8 920.6 L1183.7 923.8 L1182.3 926.7 L1180.6 929.4 L1178.7 931.8 L1176.6 933.8 L1174.3 935.6" fill="none" stroke="#1c1c1c" stroke-width="2.0" stroke-linejoin="round" stroke-linecap="round"/>
<path d="M1112.8 821.1 L1115.5 820 L1118.3 819.2 L1121.3 818.7 L1124.5 818.6 L1127.7 818.9 L1131.1 819.5 L1134.5 820.5 L1138 821.8 L1141.5 823.4 L1145.1 825.3 L1148.6 827.6 L1152.1 830.1 L1155.5 833 L1158.9 836.1 L1162.2 839.4 L1165.4 843 L1168.5 846.8 L1171.4 850.8 L1174.2 854.9 L1176.8 859.1 L1179.2 863.5 L1181.4 868 L1183.4 872.5 L1185.1 877.1 L1186.6 881.6 L1187.8 886.1 L1188.8 890.6 L1189.6 895 L1190 899.4 L1190.2 903.5 L1190.1 907.6 L1189.8 911.4 L1189.2 915.1 L1188.3 918.6 L1187.1 921.8 L1185.7 924.7 L1184.1 927.4 L1182.2 929.8 L1180.1 931.8 L1177.8 933.6" fill="none" stroke="#1c1c1c" stroke-width="1.2" stroke-linejoin="round" stroke-linecap="round"/>
<path d="M1116.3 819.1 L1119 818 L1121.8 817.2 L1124.8 816.7 L1127.9 816.6 L1131.2 816.9 L1134.6 817.5 L1138 818.5 L1141.5 819.8 L1145 821.4 L1148.5 823.3 L1152.1 825.6 L1155.6 828.1 L1159 831 L1162.4 834.1 L1165.7 837.4 L1168.9 841 L1172 844.8 L1174.9 848.8 L1177.7 852.9 L1180.3 857.1 L1182.7 861.5 L1184.8 866 L1186.8 870.5 L1188.6 875.1 L1190.1 879.6 L1191.3 884.1 L1192.3 888.6 L1193 893 L1193.5 897.4 L1193.7 901.5 L1193.6 905.6 L1193.2 909.4 L1192.6 913.1 L1191.7 916.6 L1190.6 919.8 L1189.2 922.7 L1187.5 925.4 L1185.7 927.8 L1183.5 929.8 L1181.2 931.6" fill="none" stroke="#1c1c1c" stroke-width="2.0" stroke-linejoin="round" stroke-linecap="round"/>
<ellipse cx="1117.3" cy="893.5" rx="34.8" ry="60" fill="none" stroke="#1c1c1c" stroke-width="1.8" transform="rotate(-30 1117.3 893.5)"/>
<path d="M1162.1 930.2 L1159.8 930.6 L1157.4 930.7 L1154.9 930.6 L1152.3 930.3 L1149.7 929.7 L1147 928.8 L1144.2 927.8 L1141.5 926.4 L1138.7 924.9 L1136 923.1 L1133.3 921.1 L1130.6 918.9 L1127.9 916.6 L1125.3 914 L1122.8 911.3 L1120.4 908.4 L1118 905.4 L1115.8 902.2 L1113.7 899 L1111.7 895.6 L1109.9 892.2 L1108.2 888.7 L1106.7 885.2 L1105.3 881.7 L1104.1 878.1 L1103.1 874.6 L1102.3 871.1 L1101.6 867.6 L1101.2 864.2 L1100.9 860.9 L1100.8 857.7 L1101 854.6 L1101.3 851.6 L1101.8 848.8 L1102.5 846.1 L1103.4 843.6 L1104.5 841.3 L1105.7 839.2 L1107.2 837.2 L1108.7 835.6" fill="none" stroke="#1c1c1c" stroke-width="1.8" stroke-linejoin="round" stroke-linecap="round"/>
<path d="M1165.9 927.1 L1163.6 927.2 L1161.2 927.2 L1158.8 926.9 L1156.3 926.3 L1153.7 925.6 L1151.1 924.6 L1148.5 923.4 L1145.9 922 L1143.3 920.4 L1140.7 918.7 L1138.1 916.7 L1135.6 914.5 L1133.1 912.2 L1130.6 909.7 L1128.3 907.1 L1126 904.3 L1123.8 901.4 L1121.6 898.4 L1119.7 895.3 L1117.8 892.1 L1116 888.9 L1114.4 885.6 L1112.9 882.2 L1111.6 878.9 L1110.4 875.5 L1109.4 872.1 L1108.6 868.8 L1107.9 865.5 L1107.4 862.2 L1107.1 859 L1106.9 855.9 L1106.9 852.9 L1107.1 850 L1107.5 847.2 L1108 844.6 L1108.8 842.1 L1109.6 839.7 L1110.7 837.5 L1111.9 835.5 L1113.2 833.7" fill="none" stroke="#1c1c1c" stroke-width="1.2" stroke-linejoin="round" stroke-linecap="round"/>
<path d="M1135.1 943.2 L1132.9 942.5 L1130.6 941.7 L1128.3 940.7 L1126 939.6 L1123.7 938.3 L1121.3 936.8 L1119 935.3 L1116.7 933.6 L1114.5 931.7 L1112.2 929.7 L1110 927.7 L1107.9 925.5 L1105.7 923.2 L1103.7 920.7 L1101.7 918.2 L1099.8 915.7 L1097.9 913 L1096.1 910.3 L1094.4 907.5 L1092.8 904.6 L1091.3 901.7 L1089.9 898.8 L1088.6 895.8 L1087.4 892.9 L1086.3 889.9 L1085.3 886.9 L1084.4 883.9 L1083.6 880.9 L1083 878 L1082.5 875.1 L1082.1 872.2 L1081.9 869.4 L1081.7 866.7 L1081.7 864 L1081.8 861.4 L1082.1 858.9 L1082.5 856.4 L1082.9 854.1 L1083.6 851.9 L1084.3 849.8" fill="none" stroke="#1c1c1c" stroke-width="1.0" stroke-linejoin="round" stroke-linecap="round"/>
<path d="M1140 944 L1143 952 L1166 941" fill="none" stroke="#1c1c1c" stroke-width="1.6" stroke-linejoin="round" stroke-linecap="round"/>
<path d="M1082 915.5 L1140 882" fill="none" stroke="#1c1c1c" stroke-width="1.25" stroke-linejoin="miter" stroke-linecap="butt" stroke-dasharray="26 5 5 5"/>
<path d="M1053.8 993.6 L1076.3 980.6 A32.2 55.5 -30 0 0 1020.8 884.4 L998.2 897.4 Z" fill="#fff" stroke="#1c1c1c" stroke-width="1.9" stroke-linejoin="round" stroke-linecap="round"/>
<ellipse cx="1026" cy="945.5" rx="32.2" ry="55.5" fill="#fff" stroke="#1c1c1c" stroke-width="1.9" transform="rotate(-30 1026 945.5)"/>
<path d="M1006.2 892.9 L1008.5 891.9 L1010.9 891.3 L1013.5 890.9 L1016.1 890.8 L1018.9 891 L1021.8 891.6 L1024.7 892.4 L1027.7 893.5 L1030.7 894.9 L1033.7 896.5 L1036.7 898.5 L1039.7 900.6 L1042.7 903.1 L1045.6 905.7 L1048.4 908.6 L1051.1 911.6 L1053.7 914.9 L1056.2 918.2 L1058.6 921.8 L1060.8 925.4 L1062.9 929.1 L1064.7 932.9 L1066.4 936.8 L1067.9 940.7 L1069.2 944.6 L1070.2 948.5 L1071.1 952.3 L1071.7 956.1 L1072.1 959.7 L1072.3 963.3 L1072.2 966.8 L1071.9 970.1 L1071.4 973.2 L1070.6 976.1 L1069.6 978.9 L1068.4 981.4 L1067 983.7 L1065.4 985.7 L1063.6 987.5 L1061.6 989" fill="none" stroke="#1c1c1c" stroke-width="1.0" stroke-linejoin="round" stroke-linecap="round"/>
<path d="M1015.7 887.4 L1018 886.4 L1020.4 885.8 L1023 885.4 L1025.7 885.3 L1028.4 885.5 L1031.3 886.1 L1034.2 886.9 L1037.2 888 L1040.2 889.4 L1043.2 891 L1046.2 893 L1049.2 895.1 L1052.2 897.6 L1055.1 900.2 L1057.9 903.1 L1060.6 906.1 L1063.3 909.4 L1065.8 912.7 L1068.1 916.3 L1070.3 919.9 L1072.4 923.6 L1074.2 927.4 L1075.9 931.3 L1077.4 935.2 L1078.7 939.1 L1079.8 943 L1080.6 946.8 L1081.2 950.6 L1081.6 954.2 L1081.8 957.8 L1081.7 961.3 L1081.4 964.6 L1080.9 967.7 L1080.1 970.6 L1079.1 973.4 L1077.9 975.9 L1076.5 978.2 L1074.9 980.2 L1073.1 982 L1071.2 983.5" fill="none" stroke="#1c1c1c" stroke-width="1.0" stroke-linejoin="round" stroke-linecap="round"/>
<ellipse cx="1026" cy="945.5" rx="29" ry="50" fill="none" stroke="#1c1c1c" stroke-width="1.0" transform="rotate(-30 1026 945.5)"/>
<ellipse cx="1026" cy="945.5" rx="26.4" ry="45.5" fill="none" stroke="#1c1c1c" stroke-width="1.6" transform="rotate(-30 1026 945.5)"/>
<ellipse cx="1026" cy="945.5" rx="20.6" ry="35.5" fill="none" stroke="#1c1c1c" stroke-width="1.6" transform="rotate(-30 1026 945.5)"/>
<ellipse cx="1026" cy="945.5" rx="18.7" ry="32.2" fill="none" stroke="#1c1c1c" stroke-width="1.0" transform="rotate(-30 1026 945.5)"/>
<ellipse cx="1026" cy="945.5" rx="15.5" ry="26.6" fill="none" stroke="#1c1c1c" stroke-width="1.8" transform="rotate(-30 1026 945.5)"/>
<ellipse cx="1046.4" cy="933.8" rx="2.6" ry="4.2" fill="none" stroke="#1c1c1c" stroke-width="0.8" transform="rotate(-30 1046.4 933.8)"/>
<ellipse cx="1052.8" cy="949" rx="2.6" ry="4.2" fill="none" stroke="#1c1c1c" stroke-width="0.8" transform="rotate(-6 1052.8 949)"/>
<ellipse cx="1054.7" cy="963.7" rx="2.6" ry="4.2" fill="none" stroke="#1c1c1c" stroke-width="0.8" transform="rotate(18 1054.7 963.7)"/>
<ellipse cx="1051.6" cy="975.2" rx="2.6" ry="4.2" fill="none" stroke="#1c1c1c" stroke-width="0.8" transform="rotate(42 1051.6 975.2)"/>
<ellipse cx="1044" cy="981.6" rx="2.6" ry="4.2" fill="none" stroke="#1c1c1c" stroke-width="0.8" transform="rotate(66 1044 981.6)"/>
<ellipse cx="1033.4" cy="981.8" rx="2.6" ry="4.2" fill="none" stroke="#1c1c1c" stroke-width="0.8" transform="rotate(90 1033.4 981.8)"/>
<ellipse cx="1021.4" cy="975.6" rx="2.6" ry="4.2" fill="none" stroke="#1c1c1c" stroke-width="0.8" transform="rotate(114 1021.4 975.6)"/>
<ellipse cx="1010.3" cy="964.3" rx="2.6" ry="4.2" fill="none" stroke="#1c1c1c" stroke-width="0.8" transform="rotate(138 1010.3 964.3)"/>
<ellipse cx="1001.9" cy="949.7" rx="2.6" ry="4.2" fill="none" stroke="#1c1c1c" stroke-width="0.8" transform="rotate(162 1001.9 949.7)"/>
<ellipse cx="997.6" cy="934.4" rx="2.6" ry="4.2" fill="none" stroke="#1c1c1c" stroke-width="0.8" transform="rotate(186 997.6 934.4)"/>
<ellipse cx="998.3" cy="921" rx="2.6" ry="4.2" fill="none" stroke="#1c1c1c" stroke-width="0.8" transform="rotate(210 998.3 921)"/>
<ellipse cx="1003.7" cy="911.8" rx="2.6" ry="4.2" fill="none" stroke="#1c1c1c" stroke-width="0.8" transform="rotate(234 1003.7 911.8)"/>
<ellipse cx="1013" cy="908.5" rx="2.6" ry="4.2" fill="none" stroke="#1c1c1c" stroke-width="0.8" transform="rotate(258 1013 908.5)"/>
<ellipse cx="1024.6" cy="911.6" rx="2.6" ry="4.2" fill="none" stroke="#1c1c1c" stroke-width="0.8" transform="rotate(282 1024.6 911.6)"/>
<ellipse cx="1036.4" cy="920.5" rx="2.6" ry="4.2" fill="none" stroke="#1c1c1c" stroke-width="0.8" transform="rotate(306 1036.4 920.5)"/>
<path d="M994 964 L1040 937.5" fill="none" stroke="#1c1c1c" stroke-width="1.25" stroke-linejoin="miter" stroke-linecap="butt" stroke-dasharray="26 5 5 5"/>
<path d="M954.6 936.7 L959.7 939 L964.7 942.1 L969.7 945.8 L974.5 950.2 L979.1 955.2 L983.4 960.7 L987.4 966.5 L990.9 972.7 L994 979 L996.5 985.5 L998.4 992 L999.8 998.3 L1000.6 1004.5 L1000.7 1010.4 L1000.1 1015.9 L999 1020.9 L997.2 1025.3 L994.9 1029.1 L992 1032.2 L988.7 1034.6 L984.8 1036.2 L980.6 1037 L976.1 1037 L971.4 1036.2 L966.4 1034.5 L961.4 1032.1 L956.4 1029 L951.5 1025.1 L946.6 1020.7 L942.1 1015.7 L937.8 1010.2 L933.9 1004.3 L930.4 998.1 L927.4 991.7 L924.9 985.2 L923 978.8 L921.7 972.4 L921 966.3 L921 960.4 L921.5 955 L922.8 950.1 L924.6 945.7 L927 941.9 L929.9 938.9 L933.3 936.6 L937.2 935.1 L941.4 934.3 L945.9 934.4 L946.8 937.5 L942.6 937.4 L938.6 938.1 L935 939.5 L931.8 941.7 L929 944.6 L926.8 948.1 L925 952.2 L923.9 956.9 L923.4 962 L923.4 967.4 L924 973.2 L925.3 979.2 L927.1 985.3 L929.4 991.4 L932.2 997.3 L935.5 1003.2 L939.2 1008.7 L943.2 1013.9 L947.5 1018.6 L952 1022.8 L956.7 1026.4 L961.4 1029.3 L966.1 1031.6 L970.7 1033.1 L975.2 1033.9 L979.4 1033.9 L983.4 1033.2 L987 1031.7 L990.1 1029.4 L992.9 1026.5 L995 1022.9 L996.7 1018.7 L997.8 1014 L998.3 1008.9 L998.2 1003.4 L997.5 997.6 L996.2 991.6 L994.3 985.5 L992 979.4 L989.1 973.5 L985.8 967.7 L982 962.2 L978 957.1 L973.7 952.4 L969.1 948.2 L964.5 944.7 L959.7 941.8 L955 939.6 Z" fill="#fff" stroke="#1c1c1c" stroke-width="1.4" stroke-linejoin="round" stroke-linecap="round"/>
<path d="M931 1003 L980 974.5" fill="none" stroke="#1c1c1c" stroke-width="1.25" stroke-linejoin="miter" stroke-linecap="butt" stroke-dasharray="26 5 5 5"/>
<line x1="910" y1="1014.5" x2="931" y2="1003" stroke="#1c1c1c" stroke-width="1.25" stroke-linecap="butt"/>
<path d="M770 858 L817 830 L906 1005 L910 1014" fill="none" stroke="#1c1c1c" stroke-width="1.25" stroke-linejoin="miter" stroke-linecap="butt" stroke-dasharray="26 5 5 5"/>
<line x1="1398.4" y1="724" x2="1398.4" y2="750" stroke="#1c1c1c" stroke-width="1.25" stroke-linecap="butt"/>
<ellipse cx="1398.4" cy="754.8" rx="14" ry="7.6" fill="#fff" stroke="#1c1c1c" stroke-width="1.6"/>
<ellipse cx="1398.4" cy="754.4" rx="9" ry="4.4" fill="none" stroke="#1c1c1c" stroke-width="1.2"/>
<line x1="1398.4" y1="766" x2="1398.4" y2="777" stroke="#1c1c1c" stroke-width="1.25" stroke-linecap="butt"/>
<path d="M1391 778 L1391 798 L1386.5 803 L1386.5 817 C1390 823 1407 823 1411 817 L1411 803 L1406 798 L1406 778 C1402 775 1394 775 1391 778 Z" fill="#fff" stroke="#1c1c1c" stroke-width="1.6" stroke-linejoin="round" stroke-linecap="round"/>
<ellipse cx="1398.5" cy="778" rx="7.5" ry="3" fill="#fff" stroke="#1c1c1c" stroke-width="1.2"/>
<path d="M1391 798 C1395 801 1402 801 1406 798" fill="none" stroke="#1c1c1c" stroke-width="1.0" stroke-linejoin="round" stroke-linecap="round"/>
<path d="M1386.5 803 C1392 808 1405 808 1411 803" fill="none" stroke="#1c1c1c" stroke-width="1.0" stroke-linejoin="round" stroke-linecap="round"/>
<path d="M1387.5 814 C1392 819 1405 819 1410 814" fill="none" stroke="#1c1c1c" stroke-width="1.4" stroke-linejoin="round" stroke-linecap="round"/>
<line x1="1393" y1="781" x2="1404" y2="781" stroke="#1c1c1c" stroke-width="0.8" stroke-linecap="butt"/>
<line x1="1393" y1="783.5" x2="1404" y2="783.5" stroke="#1c1c1c" stroke-width="0.8" stroke-linecap="butt"/>
<path d="M1609 894 L1621.6 894 L1615.3 874 Z" fill="#111" stroke="#1c1c1c" stroke-width="0.5" stroke-linejoin="round" stroke-linecap="round"/>
<path d="M1615.3 894 L1615.3 966" fill="none" stroke="#1c1c1c" stroke-width="1.25" stroke-linejoin="miter" stroke-linecap="butt" stroke-dasharray="26 5 5 5"/>
<ellipse cx="1616" cy="942.8" rx="17" ry="9.6" fill="none" stroke="#1c1c1c" stroke-width="3.0"/>
<ellipse cx="1616" cy="942.8" rx="17" ry="9.6" fill="none" stroke="#aaa" stroke-width="0.7"/>
<path d="M1585.5 984 L1585.5 1140 C1585.5 1162 1647.5 1162 1647.5 1140 L1647.5 984 C1647.5 962 1585.5 962 1585.5 984 Z" fill="#fff" stroke="#1c1c1c" stroke-width="1.8" stroke-linejoin="round" stroke-linecap="round"/>
<ellipse cx="1616.5" cy="984" rx="31" ry="16" fill="#fff" stroke="#1c1c1c" stroke-width="1.6"/>
<path d="M1585.5 992 C1589.5 1012 1643.5 1012 1647.5 992" fill="none" stroke="#1c1c1c" stroke-width="1.4" stroke-linejoin="round" stroke-linecap="round"/>
<path d="M1603 974 L1603 986 C1608 993 1625 993 1630 986 L1630 974" fill="#fff" stroke="#1c1c1c" stroke-width="1.4" stroke-linejoin="round" stroke-linecap="round"/>
<ellipse cx="1616.5" cy="974" rx="13.5" ry="7" fill="#fff" stroke="#1c1c1c" stroke-width="1.4"/>
<ellipse cx="1616.5" cy="974.5" rx="9.5" ry="4.6" fill="none" stroke="#1c1c1c" stroke-width="1.1"/>
<path d="M1603 980 C1608 987 1625 987 1630 980" fill="none" stroke="#1c1c1c" stroke-width="1.0" stroke-linejoin="round" stroke-linecap="round"/>
<path d="M1603 983 C1608 990 1625 990 1630 983" fill="none" stroke="#1c1c1c" stroke-width="1.0" stroke-linejoin="round" stroke-linecap="round"/>
<line x1="1611" y1="972.5" x2="1611" y2="978" stroke="#1c1c1c" stroke-width="0.7" stroke-linecap="butt"/>
<line x1="1614" y1="972.5" x2="1614" y2="978" stroke="#1c1c1c" stroke-width="0.7" stroke-linecap="butt"/>
<line x1="1617" y1="972.5" x2="1617" y2="978" stroke="#1c1c1c" stroke-width="0.7" stroke-linecap="butt"/>
<line x1="1620" y1="972.5" x2="1620" y2="978" stroke="#1c1c1c" stroke-width="0.7" stroke-linecap="butt"/>
<line x1="1623" y1="972.5" x2="1623" y2="978" stroke="#1c1c1c" stroke-width="0.7" stroke-linecap="butt"/>
<line x1="1589.5" y1="1000" x2="1589.5" y2="1142" stroke="#1c1c1c" stroke-width="1.0" stroke-linecap="butt"/>
<line x1="1593.5" y1="1000" x2="1593.5" y2="1142" stroke="#1c1c1c" stroke-width="1.0" stroke-linecap="butt"/>
<line x1="1639.5" y1="1000" x2="1639.5" y2="1142" stroke="#1c1c1c" stroke-width="1.0" stroke-linecap="butt"/>
<line x1="1643.5" y1="1000" x2="1643.5" y2="1142" stroke="#1c1c1c" stroke-width="1.0" stroke-linecap="butt"/>
<path d="M1584.0 1022 L1584.0 1033 M1649.0 1022 L1649.0 1033" fill="none" stroke="#1c1c1c" stroke-width="1.6" stroke-linejoin="round" stroke-linecap="round"/>
<path d="M1585.5 1028 C1591.5 1043 1641.5 1043 1647.5 1028" fill="none" stroke="#1c1c1c" stroke-width="1.4" stroke-linejoin="round" stroke-linecap="round"/>
<path d="M1585.5 1033 C1591.5 1048 1641.5 1048 1647.5 1033" fill="none" stroke="#1c1c1c" stroke-width="1.0" stroke-linejoin="round" stroke-linecap="round"/>
<path d="M1584.0 1056 L1584.0 1067 M1649.0 1056 L1649.0 1067" fill="none" stroke="#1c1c1c" stroke-width="1.6" stroke-linejoin="round" stroke-linecap="round"/>
<path d="M1585.5 1062 C1591.5 1077 1641.5 1077 1647.5 1062" fill="none" stroke="#1c1c1c" stroke-width="1.4" stroke-linejoin="round" stroke-linecap="round"/>
<path d="M1585.5 1067 C1591.5 1082 1641.5 1082 1647.5 1067" fill="none" stroke="#1c1c1c" stroke-width="1.0" stroke-linejoin="round" stroke-linecap="round"/>
<path d="M1584.0 1090 L1584.0 1101 M1649.0 1090 L1649.0 1101" fill="none" stroke="#1c1c1c" stroke-width="1.6" stroke-linejoin="round" stroke-linecap="round"/>
<path d="M1585.5 1096 C1591.5 1111 1641.5 1111 1647.5 1096" fill="none" stroke="#1c1c1c" stroke-width="1.4" stroke-linejoin="round" stroke-linecap="round"/>
<path d="M1585.5 1101 C1591.5 1116 1641.5 1116 1647.5 1101" fill="none" stroke="#1c1c1c" stroke-width="1.0" stroke-linejoin="round" stroke-linecap="round"/>
<path d="M1582.5 1122 L1582.5 1134 C1582.5 1160 1650.5 1160 1650.5 1134 L1650.5 1122" fill="none" stroke="#1c1c1c" stroke-width="1.8" stroke-linejoin="round" stroke-linecap="round"/>
<path d="M1585.5 1127 C1591.5 1144 1641.5 1144 1647.5 1127" fill="none" stroke="#1c1c1c" stroke-width="1.4" stroke-linejoin="round" stroke-linecap="round"/>
<path d="M1582.5 1128 C1589.5 1150 1643.5 1150 1650.5 1128" fill="none" stroke="#1c1c1c" stroke-width="1.0" stroke-linejoin="round" stroke-linecap="round"/>
<line x1="1615.3" y1="1155" x2="1615.3" y2="1168" stroke="#1c1c1c" stroke-width="1.25" stroke-linecap="butt"/>
<ellipse cx="1616" cy="1182.3" rx="34" ry="21" fill="none" stroke="#1c1c1c" stroke-width="3.2"/>
<ellipse cx="1616" cy="1182.3" rx="34" ry="21" fill="none" stroke="#aaa" stroke-width="0.7"/>
<line x1="1615.3" y1="1172" x2="1615.3" y2="1202" stroke="#1c1c1c" stroke-width="1.25" stroke-linecap="butt"/>
<path d="M1616 1214 C1622 1214 1626 1218 1629 1222 C1640 1234 1652 1238 1664 1241 C1670 1243 1671 1249 1666 1252 C1652 1258 1640 1266 1628 1276 C1622 1281 1612 1281 1606 1277 C1596 1268 1582 1258 1566 1253 C1560 1251 1560 1245 1566 1242 C1580 1238 1594 1232 1603 1221 C1606 1217 1610 1214 1616 1214 Z" fill="#fff" stroke="#1c1c1c" stroke-width="1.6" stroke-linejoin="round" stroke-linecap="round"/>
<path d="M1564 1250 C1562 1253 1564 1256 1568 1257 C1582 1262 1596 1272 1605 1281 C1612 1286 1622 1286 1629 1280 C1640 1270 1653 1262 1667 1256 C1671 1254 1672 1250 1670 1247" fill="none" stroke="#1c1c1c" stroke-width="1.4" stroke-linejoin="round" stroke-linecap="round"/>
<ellipse cx="1612" cy="1222" rx="3.4" ry="2.2" fill="none" stroke="#1c1c1c" stroke-width="1.2"/>
<ellipse cx="1572" cy="1247" rx="3.4" ry="2.2" fill="none" stroke="#1c1c1c" stroke-width="1.2"/>
<ellipse cx="1658" cy="1246" rx="3.4" ry="2.2" fill="none" stroke="#1c1c1c" stroke-width="1.2"/>
<ellipse cx="1613" cy="1271" rx="3.4" ry="2.2" fill="none" stroke="#1c1c1c" stroke-width="1.2"/>
<line x1="1615.3" y1="1214" x2="1615.3" y2="1243" stroke="#1c1c1c" stroke-width="1.25" stroke-linecap="butt"/>
<line x1="1658.2" y1="1258" x2="1658.2" y2="1270" stroke="#1c1c1c" stroke-width="1.25" stroke-linecap="butt"/>
<ellipse cx="1658.2" cy="1272.8" rx="7.6" ry="4.2" fill="#fff" stroke="#1c1c1c" stroke-width="2.0"/>
<path d="M1654.5 1279 L1654.5 1301 L1662 1301 L1662 1279 Z" fill="#fff" stroke="#1c1c1c" stroke-width="1.2" stroke-linejoin="round" stroke-linecap="round"/>
<line x1="1654.5" y1="1281" x2="1662" y2="1282" stroke="#1c1c1c" stroke-width="0.8" stroke-linecap="butt"/>
<line x1="1654.5" y1="1284" x2="1662" y2="1285" stroke="#1c1c1c" stroke-width="0.8" stroke-linecap="butt"/>
<line x1="1654.5" y1="1287" x2="1662" y2="1288" stroke="#1c1c1c" stroke-width="0.8" stroke-linecap="butt"/>
<line x1="1654.5" y1="1290" x2="1662" y2="1291" stroke="#1c1c1c" stroke-width="0.8" stroke-linecap="butt"/>
<line x1="1654.5" y1="1293" x2="1662" y2="1294" stroke="#1c1c1c" stroke-width="0.8" stroke-linecap="butt"/>
<line x1="1654.5" y1="1296" x2="1662" y2="1297" stroke="#1c1c1c" stroke-width="0.8" stroke-linecap="butt"/>
<line x1="1654.5" y1="1299" x2="1662" y2="1300" stroke="#1c1c1c" stroke-width="0.8" stroke-linecap="butt"/>
<path d="M1650 1304 C1650 1299 1667 1299 1667 1304 C1667 1311 1650 1311 1650 1304 Z" fill="#fff" stroke="#1c1c1c" stroke-width="1.6" stroke-linejoin="round" stroke-linecap="round"/>
<path d="M1651 1302 C1655 1306 1662 1306 1666 1302" fill="none" stroke="#1c1c1c" stroke-width="1.0" stroke-linejoin="round" stroke-linecap="round"/>
<g filter="url(#gs)">
<line x1="527.5" y1="454" x2="471.5" y2="471.5" stroke="#1c1c1c" stroke-width="1.25" stroke-linecap="butt"/>
<line x1="217.5" y1="580" x2="340" y2="549" stroke="#1c1c1c" stroke-width="1.25" stroke-linecap="butt"/>
<line x1="241.5" y1="642.5" x2="377.5" y2="597.5" stroke="#1c1c1c" stroke-width="1.25" stroke-linecap="butt"/>
<line x1="241.5" y1="642.5" x2="382.5" y2="632.5" stroke="#1c1c1c" stroke-width="1.25" stroke-linecap="butt"/>
<line x1="620" y1="614" x2="650" y2="645" stroke="#1c1c1c" stroke-width="1.25" stroke-linecap="butt"/>
<line x1="672.5" y1="594" x2="681.5" y2="629" stroke="#1c1c1c" stroke-width="1.25" stroke-linecap="butt"/>
<line x1="731" y1="616" x2="710" y2="665" stroke="#1c1c1c" stroke-width="1.25" stroke-linecap="butt"/>
<line x1="930" y1="624" x2="874" y2="643" stroke="#1c1c1c" stroke-width="1.25" stroke-linecap="butt"/>
<line x1="614.8" y1="716.5" x2="652.5" y2="699" stroke="#1c1c1c" stroke-width="1.25" stroke-linecap="butt"/>
<line x1="1017.5" y1="22.6" x2="1068.5" y2="27" stroke="#1c1c1c" stroke-width="1.25" stroke-linecap="butt"/>
<line x1="1018" y1="57.2" x2="1080" y2="51" stroke="#1c1c1c" stroke-width="1.25" stroke-linecap="butt"/>
<line x1="1017.4" y1="97.3" x2="1102" y2="82.7" stroke="#1c1c1c" stroke-width="1.25" stroke-linecap="butt"/>
<line x1="1068.5" y1="123" x2="1120" y2="107.3" stroke="#1c1c1c" stroke-width="1.25" stroke-linecap="butt"/>
<line x1="1084.3" y1="158.5" x2="1135.7" y2="131.6" stroke="#1c1c1c" stroke-width="1.25" stroke-linecap="butt"/>
<line x1="1097.6" y1="187.6" x2="1148.2" y2="150.5" stroke="#1c1c1c" stroke-width="1.25" stroke-linecap="butt"/>
<line x1="1108.6" y1="218.2" x2="1157" y2="161.7" stroke="#1c1c1c" stroke-width="1.25" stroke-linecap="butt"/>
<line x1="1102" y1="292" x2="1127" y2="314.7" stroke="#1c1c1c" stroke-width="1.25" stroke-linecap="butt"/>
<line x1="1030.7" y1="319" x2="1059.5" y2="374" stroke="#1c1c1c" stroke-width="1.25" stroke-linecap="butt"/>
<line x1="1339.3" y1="59" x2="1374" y2="80.7" stroke="#1c1c1c" stroke-width="1.25" stroke-linecap="butt"/>
<line x1="1301.2" y1="106.6" x2="1382.7" y2="123.4" stroke="#1c1c1c" stroke-width="1.25" stroke-linecap="butt"/>
<line x1="1426" y1="49.6" x2="1390" y2="59.7" stroke="#1c1c1c" stroke-width="1.25" stroke-linecap="butt"/>
<line x1="1528.2" y1="64" x2="1526.4" y2="118" stroke="#1c1c1c" stroke-width="1.25" stroke-linecap="butt"/>
<line x1="1528.2" y1="64" x2="1557" y2="99" stroke="#1c1c1c" stroke-width="1.25" stroke-linecap="butt"/>
<line x1="1653" y1="67.2" x2="1622.2" y2="86.5" stroke="#1c1c1c" stroke-width="1.25" stroke-linecap="butt"/>
<line x1="1478.5" y1="101.6" x2="1486" y2="143" stroke="#1c1c1c" stroke-width="1.25" stroke-linecap="butt"/>
<line x1="1441" y1="132.4" x2="1453" y2="160.5" stroke="#1c1c1c" stroke-width="1.25" stroke-linecap="butt"/>
<line x1="1634.8" y1="136.7" x2="1604.7" y2="157.5" stroke="#1c1c1c" stroke-width="1.25" stroke-linecap="butt"/>
<line x1="1743.8" y1="118" x2="1731.8" y2="229.4" stroke="#1c1c1c" stroke-width="1.25" stroke-linecap="butt"/>
<line x1="1838" y1="82.7" x2="1819.2" y2="186.8" stroke="#1c1c1c" stroke-width="1.25" stroke-linecap="butt"/>
<line x1="1930.3" y1="46.4" x2="1929" y2="134.2" stroke="#1c1c1c" stroke-width="1.25" stroke-linecap="butt"/>
<line x1="1947.6" y1="302.5" x2="1907.7" y2="377.4" stroke="#1c1c1c" stroke-width="1.25" stroke-linecap="butt"/>
<line x1="1920.3" y1="502" x2="1876.4" y2="470.2" stroke="#1c1c1c" stroke-width="1.25" stroke-linecap="butt"/>
<line x1="1818.7" y1="557.2" x2="1763.6" y2="494.5" stroke="#1c1c1c" stroke-width="1.25" stroke-linecap="butt"/>
<line x1="1831.3" y1="453" x2="1892.7" y2="554.7" stroke="#1c1c1c" stroke-width="1.25" stroke-linecap="butt"/>
<line x1="1779.8" y1="656" x2="1758.5" y2="598" stroke="#1c1c1c" stroke-width="1.25" stroke-linecap="butt"/>
<line x1="1172.4" y1="409.2" x2="1205" y2="426" stroke="#1c1c1c" stroke-width="1.25" stroke-linecap="butt"/>
<line x1="1027.7" y1="483" x2="1136" y2="470.6" stroke="#1c1c1c" stroke-width="1.25" stroke-linecap="butt"/>
<line x1="1027" y1="517.7" x2="1133.5" y2="532" stroke="#1c1c1c" stroke-width="1.25" stroke-linecap="butt"/>
<line x1="1027.7" y1="552" x2="1102.2" y2="556" stroke="#1c1c1c" stroke-width="1.25" stroke-linecap="butt"/>
<line x1="1189" y1="633.3" x2="1191.4" y2="604.5" stroke="#1c1c1c" stroke-width="1.25" stroke-linecap="butt"/>
<line x1="1250.3" y1="623.3" x2="1239" y2="579.4" stroke="#1c1c1c" stroke-width="1.25" stroke-linecap="butt"/>
<line x1="896.7" y1="808" x2="875.4" y2="784.6" stroke="#1c1c1c" stroke-width="1.25" stroke-linecap="butt"/>
<line x1="852.5" y1="835" x2="831.6" y2="812.5" stroke="#1c1c1c" stroke-width="1.25" stroke-linecap="butt"/>
<line x1="814" y1="915.3" x2="795.3" y2="897.8" stroke="#1c1c1c" stroke-width="1.25" stroke-linecap="butt"/>
<line x1="794" y1="986.8" x2="802.3" y2="1022" stroke="#1c1c1c" stroke-width="1.25" stroke-linecap="butt"/>
<line x1="853.5" y1="987.6" x2="860.5" y2="1022" stroke="#1c1c1c" stroke-width="1.25" stroke-linecap="butt"/>
<line x1="829" y1="1084" x2="792.8" y2="1082" stroke="#1c1c1c" stroke-width="1.25" stroke-linecap="butt"/>
<line x1="919.4" y1="1075.8" x2="856.7" y2="1048.2" stroke="#1c1c1c" stroke-width="1.25" stroke-linecap="butt"/>
<line x1="1019.7" y1="1086" x2="991" y2="1034.5" stroke="#1c1c1c" stroke-width="1.25" stroke-linecap="butt"/>
<line x1="1102.5" y1="1034.5" x2="1073.6" y2="984.3" stroke="#1c1c1c" stroke-width="1.25" stroke-linecap="butt"/>
<line x1="1211.6" y1="980.8" x2="1187.8" y2="934.5" stroke="#1c1c1c" stroke-width="1.25" stroke-linecap="butt"/>
<line x1="1322.7" y1="912" x2="1298.6" y2="866.8" stroke="#1c1c1c" stroke-width="1.25" stroke-linecap="butt"/>
<line x1="1461" y1="757.7" x2="1413" y2="754" stroke="#1c1c1c" stroke-width="1.25" stroke-linecap="butt"/>
<line x1="1461" y1="802.8" x2="1409" y2="800.8" stroke="#1c1c1c" stroke-width="1.25" stroke-linecap="butt"/>
<line x1="956.3" y1="1166" x2="876.8" y2="1164.2" stroke="#1c1c1c" stroke-width="1.25" stroke-linecap="butt"/>
<line x1="970.8" y1="1232.7" x2="912.6" y2="1212.6" stroke="#1c1c1c" stroke-width="1.25" stroke-linecap="butt"/>
<line x1="721" y1="1212.6" x2="736" y2="1158.5" stroke="#1c1c1c" stroke-width="1.25" stroke-linecap="butt"/>
<line x1="768.6" y1="1242.7" x2="763.6" y2="1176.8" stroke="#1c1c1c" stroke-width="1.25" stroke-linecap="butt"/>
<line x1="826.3" y1="1263.3" x2="806.2" y2="1195.6" stroke="#1c1c1c" stroke-width="1.25" stroke-linecap="butt"/>
<line x1="680.3" y1="1184.3" x2="660.8" y2="1213" stroke="#1c1c1c" stroke-width="1.25" stroke-linecap="butt"/>
<line x1="696" y1="1286.3" x2="657.8" y2="1272" stroke="#1c1c1c" stroke-width="1.25" stroke-linecap="butt"/>
<line x1="507.8" y1="1291" x2="491.5" y2="1249.5" stroke="#1c1c1c" stroke-width="1.25" stroke-linecap="butt"/>
<line x1="150.5" y1="1084" x2="158" y2="1042.6" stroke="#1c1c1c" stroke-width="1.25" stroke-linecap="butt"/>
<line x1="208" y1="1059" x2="224.5" y2="1001" stroke="#1c1c1c" stroke-width="1.25" stroke-linecap="butt"/>
<line x1="251.5" y1="1036.3" x2="252" y2="991" stroke="#1c1c1c" stroke-width="1.25" stroke-linecap="butt"/>
<line x1="292" y1="1012.5" x2="294.6" y2="967" stroke="#1c1c1c" stroke-width="1.25" stroke-linecap="butt"/>
<line x1="313.4" y1="1139.2" x2="320.5" y2="1099" stroke="#1c1c1c" stroke-width="1.25" stroke-linecap="butt"/>
<line x1="365.6" y1="1215" x2="433.8" y2="1195.6" stroke="#1c1c1c" stroke-width="1.25" stroke-linecap="butt"/>
<line x1="364.8" y1="1267.8" x2="427.5" y2="1268.8" stroke="#1c1c1c" stroke-width="1.25" stroke-linecap="butt"/>
<line x1="365.6" y1="1310.4" x2="440" y2="1301" stroke="#1c1c1c" stroke-width="1.25" stroke-linecap="butt"/>
<line x1="260.8" y1="778.2" x2="268.8" y2="843" stroke="#1c1c1c" stroke-width="1.25" stroke-linecap="butt"/>
<line x1="221.2" y1="802.3" x2="237" y2="861.7" stroke="#1c1c1c" stroke-width="1.25" stroke-linecap="butt"/>
<line x1="173" y1="827.4" x2="166.8" y2="902.6" stroke="#1c1c1c" stroke-width="1.25" stroke-linecap="butt"/>
<line x1="173" y1="827.4" x2="200.6" y2="880.5" stroke="#1c1c1c" stroke-width="1.25" stroke-linecap="butt"/>
<line x1="126" y1="850.5" x2="124" y2="928.7" stroke="#1c1c1c" stroke-width="1.25" stroke-linecap="butt"/>
<line x1="1712.3" y1="930.3" x2="1634" y2="940.7" stroke="#1c1c1c" stroke-width="1.25" stroke-linecap="butt"/>
<line x1="1531.3" y1="1058.7" x2="1585.4" y2="1058.7" stroke="#1c1c1c" stroke-width="1.25" stroke-linecap="butt"/>
<line x1="1531.3" y1="1181.4" x2="1581.7" y2="1181.4" stroke="#1c1c1c" stroke-width="1.25" stroke-linecap="butt"/>
<line x1="1531.3" y1="1247.5" x2="1562" y2="1247.5" stroke="#1c1c1c" stroke-width="1.25" stroke-linecap="butt"/>
<line x1="1714" y1="1263.5" x2="1666.4" y2="1272" stroke="#1c1c1c" stroke-width="1.25" stroke-linecap="butt"/>
<line x1="1714" y1="1302.7" x2="1666.4" y2="1305.7" stroke="#1c1c1c" stroke-width="1.25" stroke-linecap="butt"/>
<text x="551" y="457.4" font-size="31" text-anchor="middle" class="t">28</text>
<text x="182" y="625.9" font-size="31" text-anchor="middle" class="t">5</text>
<text x="226.5" y="653.4" font-size="31" text-anchor="middle" class="t">6</text>
<text x="608.5" y="608.4" font-size="31" text-anchor="middle" class="t">50</text>
<text x="671" y="588.4" font-size="31" text-anchor="middle" class="t">25</text>
<text x="734" y="609.9" font-size="31" text-anchor="middle" class="t">17</text>
<text x="951" y="629.4" font-size="31" text-anchor="middle" class="t">21</text>
<text x="598" y="737.9" font-size="31" text-anchor="middle" class="t">13</text>
<text x="993.5" y="33.4" font-size="31" text-anchor="middle" class="t">35</text>
<text x="1004" y="69.9" font-size="31" text-anchor="middle" class="t">9</text>
<text x="984.5" y="142.9" font-size="31" text-anchor="middle" class="t">36</text>
<text x="1045.5" y="136.4" font-size="31" text-anchor="middle" class="t">37</text>
<text x="1060.5" y="170.9" font-size="31" text-anchor="middle" class="t">42</text>
<text x="1073.8" y="205.4" font-size="31" text-anchor="middle" class="t">44</text>
<text x="1086.8" y="241.4" font-size="31" text-anchor="middle" class="t">45</text>
<text x="1087.3" y="290.9" font-size="31" text-anchor="middle" class="t">10</text>
<text x="1027.4" y="311.9" font-size="31" text-anchor="middle" class="t">16</text>
<text x="1319.3" y="57.9" font-size="31" text-anchor="middle" class="t">51</text>
<text x="1283.7" y="115.4" font-size="31" text-anchor="middle" class="t">57</text>
<text x="1448" y="57.9" font-size="31" text-anchor="middle" class="t">30</text>
<text x="1524.4" y="57.9" font-size="31" text-anchor="middle" class="t">15</text>
<text x="1673.5" y="65.9" font-size="31" text-anchor="middle" class="t">12</text>
<text x="1476.8" y="94.9" font-size="31" text-anchor="middle" class="t">12</text>
<text x="1438" y="125.4" font-size="31" text-anchor="middle" class="t">52</text>
<text x="1653.5" y="133.9" font-size="31" text-anchor="middle" class="t">61</text>
<text x="1745.8" y="109.9" font-size="31" text-anchor="middle" class="t">22</text>
<text x="1837.5" y="72.9" font-size="31" text-anchor="middle" class="t">19</text>
<text x="1931.5" y="41.4" font-size="31" text-anchor="middle" class="t">55</text>
<text x="1950.4" y="295.9" font-size="31" text-anchor="middle" class="t">30</text>
<text x="1937.8" y="525.9" font-size="31" text-anchor="middle" class="t">57</text>
<text x="1835" y="578.9" font-size="31" text-anchor="middle" class="t">57</text>
<text x="1921.5" y="599.4" font-size="31" text-anchor="middle" class="t">29</text>
<text x="1784.4" y="683.9" font-size="31" text-anchor="middle" class="t">11</text>
<text x="1152.3" y="416.3" font-size="31" text-anchor="middle" class="t">62</text>
<text x="1007" y="494.4" font-size="31" text-anchor="middle" class="t">17</text>
<text x="1006.5" y="530.4" font-size="31" text-anchor="middle" class="t">50</text>
<text x="1006.5" y="564.4" font-size="31" text-anchor="middle" class="t">25</text>
<text x="1186.4" y="661.4" font-size="31" text-anchor="middle" class="t">26</text>
<text x="1251.6" y="652.4" font-size="31" text-anchor="middle" class="t">20</text>
<text x="913" y="834.9" font-size="31" text-anchor="middle" class="t">26</text>
<text x="867.5" y="862.9" font-size="31" text-anchor="middle" class="t">27</text>
<text x="829.5" y="943.4" font-size="31" text-anchor="middle" class="t">39</text>
<text x="792" y="980.9" font-size="31" text-anchor="middle" class="t">57</text>
<text x="851.7" y="980.9" font-size="31" text-anchor="middle" class="t">30</text>
<text x="850.5" y="1094.6" font-size="31" text-anchor="middle" class="t">38</text>
<text x="938" y="1098.2" font-size="31" text-anchor="middle" class="t">51</text>
<text x="1024.7" y="1113.2" font-size="31" text-anchor="middle" class="t">55</text>
<text x="1108" y="1062.4" font-size="31" text-anchor="middle" class="t">18</text>
<text x="1217.7" y="1008.2" font-size="31" text-anchor="middle" class="t">23</text>
<text x="1328.6" y="939.9" font-size="31" text-anchor="middle" class="t">54</text>
<text x="1481" y="769.2" font-size="31" text-anchor="middle" class="t">49</text>
<text x="1481" y="814.5" font-size="31" text-anchor="middle" class="t">59</text>
<text x="977" y="1177.1" font-size="31" text-anchor="middle" class="t">34</text>
<text x="991" y="1243.3" font-size="31" text-anchor="middle" class="t">53</text>
<text x="714" y="1237.4" font-size="31" text-anchor="middle" class="t">31</text>
<text x="765" y="1270.6" font-size="31" text-anchor="middle" class="t">47</text>
<text x="824.2" y="1289.9" font-size="31" text-anchor="middle" class="t">33</text>
<text x="689" y="1177.4" font-size="31" text-anchor="middle" class="t">41</text>
<text x="716" y="1303.1" font-size="31" text-anchor="middle" class="t">43</text>
<text x="506.6" y="1317.6" font-size="31" text-anchor="middle" class="t">14</text>
<text x="149.5" y="1112.9" font-size="31" text-anchor="middle" class="t">32</text>
<text x="203.6" y="1090.9" font-size="31" text-anchor="middle" class="t">4</text>
<text x="250.5" y="1065.4" font-size="31" text-anchor="middle" class="t">46</text>
<text x="291" y="1040.9" font-size="31" text-anchor="middle" class="t">40</text>
<text x="312.6" y="1169.2" font-size="31" text-anchor="middle" class="t">63</text>
<text x="353.3" y="1226.4" font-size="31" text-anchor="middle" class="t">2</text>
<text x="351" y="1279.6" font-size="31" text-anchor="middle" class="t">8</text>
<text x="351" y="1321.9" font-size="31" text-anchor="middle" class="t">7</text>
<text x="254.8" y="772.4" font-size="31" text-anchor="middle" class="t">52</text>
<text x="217.2" y="796.6" font-size="31" text-anchor="middle" class="t">12</text>
<text x="169.2" y="820.4" font-size="31" text-anchor="middle" class="t">15</text>
<text x="125" y="845.5" font-size="31" text-anchor="middle" class="t">12</text>
<text x="1736.2" y="940.7" font-size="31" text-anchor="middle" class="t">56</text>
<text x="1509.3" y="1070.1" font-size="31" text-anchor="middle" class="t">60</text>
<text x="1509.6" y="1192.3" font-size="31" text-anchor="middle" class="t">58</text>
<text x="1519.2" y="1257.9" font-size="31" text-anchor="middle" class="t">3</text>
<text x="1735.9" y="1273.3" font-size="31" text-anchor="middle" class="t">48</text>
<text x="1735.9" y="1313.5" font-size="31" text-anchor="middle" class="t">24</text>
<text x="1923" y="1332" font-size="30.5" text-anchor="middle" class="t" textLength="133" lengthAdjust="spacingAndGlyphs">CRT00845</text>
<text x="7.5" y="676.9" font-size="31" text-anchor="middle" class="t">1</text>
<ellipse cx="579.3" cy="1277.2" rx="20" ry="20" fill="#fff" stroke="#1c1c1c" stroke-width="1.3"/>
<text x="579.3" y="1286.1" font-size="24.5" text-anchor="middle" class="t">A</text>
<ellipse cx="1650.3" cy="889.2" rx="20" ry="20" fill="#fff" stroke="#1c1c1c" stroke-width="1.3"/>
<text x="1650.3" y="898.1" font-size="24.5" text-anchor="middle" class="t">A</text>
<path d="M216 569.5 C207 570 205.5 573 205.5 580 L205.5 603 C205.5 610 203 613 197.5 614.5 C203 616 205.5 619 205.5 626 L205.5 650 C205.5 657 207 660 216 660.5" fill="none" stroke="#1c1c1c" stroke-width="1.8" stroke-linejoin="round" stroke-linecap="round"/>
<path d="M1010 92 C1004 95 1003 99 1005 105 L1008 114 C1010 119 1010 121 1007.5 123 C1012 124 1014 126 1016 130 L1021 140 C1024 145 1027 147 1033 146" fill="none" stroke="#1c1c1c" stroke-width="1.6" stroke-linejoin="round" stroke-linecap="round"/>
<path d="M1959 518 C1962 522 1961 525 1957 528 L1911 556 C1906 559 1903 562 1901.5 568 C1898 564 1894 563 1889 566 L1841 597 C1836 600 1832 600 1830 596" fill="none" stroke="#1c1c1c" stroke-width="2.6" stroke-linejoin="round" stroke-linecap="round"/>
</g>
</svg>
</body></html>
